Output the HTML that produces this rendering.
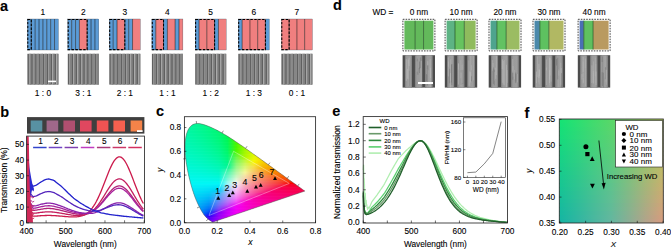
<!DOCTYPE html><html><head><meta charset="utf-8"><style>html,body{margin:0;padding:0;background:#fff;overflow:hidden}svg{display:block}text{font-family:"Liberation Sans", sans-serif;stroke:#000;stroke-width:0.1px;paint-order:stroke}</style></head><body>
<svg width="671" height="249" viewBox="0 0 671 249">
<rect width="671" height="249" fill="#fff"/>
<text x="0" y="10.6" font-size="14.5" text-anchor="start" font-weight="bold" font-style="normal" fill="#000">a</text>
<text x="0.2" y="116.5" font-size="14.5" text-anchor="start" font-weight="bold" font-style="normal" fill="#000">b</text>
<text x="156" y="116" font-size="14.5" text-anchor="start" font-weight="bold" font-style="normal" fill="#000">c</text>
<text x="333" y="10.4" font-size="14.5" text-anchor="start" font-weight="bold" font-style="normal" fill="#000">d</text>
<text x="332.3" y="115.7" font-size="14.5" text-anchor="start" font-weight="bold" font-style="normal" fill="#000">e</text>
<text x="524.6" y="117.6" font-size="14.5" text-anchor="start" font-weight="bold" font-style="normal" fill="#000">f</text>
<text x="42.9" y="14.6" font-size="8.4" text-anchor="middle" font-weight="normal" font-style="normal" fill="#000">1</text>
<rect x="27.4" y="19" width="3.88" height="31" fill="#5b9bd6" stroke="none" stroke-width="0.6"/>
<rect x="31.27" y="19" width="3.88" height="31" fill="#5b9bd6" stroke="none" stroke-width="0.6"/>
<rect x="35.15" y="19" width="3.88" height="31" fill="#5b9bd6" stroke="none" stroke-width="0.6"/>
<rect x="39.02" y="19" width="3.88" height="31" fill="#5b9bd6" stroke="none" stroke-width="0.6"/>
<rect x="42.9" y="19" width="3.88" height="31" fill="#5b9bd6" stroke="none" stroke-width="0.6"/>
<rect x="46.77" y="19" width="3.88" height="31" fill="#5b9bd6" stroke="none" stroke-width="0.6"/>
<rect x="50.65" y="19" width="3.88" height="31" fill="#5b9bd6" stroke="none" stroke-width="0.6"/>
<rect x="54.52" y="19" width="3.88" height="31" fill="#5b9bd6" stroke="none" stroke-width="0.6"/>
<line x1="31.27" y1="19" x2="31.27" y2="50" stroke="#000" stroke-width="1.0" stroke-opacity="0.5"/>
<line x1="35.15" y1="19" x2="35.15" y2="50" stroke="#000" stroke-width="1.0" stroke-opacity="0.5"/>
<line x1="39.02" y1="19" x2="39.02" y2="50" stroke="#000" stroke-width="1.0" stroke-opacity="0.5"/>
<line x1="42.9" y1="19" x2="42.9" y2="50" stroke="#000" stroke-width="1.0" stroke-opacity="0.5"/>
<line x1="46.77" y1="19" x2="46.77" y2="50" stroke="#000" stroke-width="1.0" stroke-opacity="0.5"/>
<line x1="50.65" y1="19" x2="50.65" y2="50" stroke="#000" stroke-width="1.0" stroke-opacity="0.5"/>
<line x1="54.52" y1="19" x2="54.52" y2="50" stroke="#000" stroke-width="1.0" stroke-opacity="0.5"/>
<rect x="27.4" y="19" width="31" height="31" fill="none" stroke="#3a4a5a" stroke-width="0.3"/>
<rect x="27.8" y="19.4" width="3.48" height="30.2" fill="none" stroke="#000" stroke-width="1.05" stroke-dasharray="2.4,1.5"/>
<rect x="27.4" y="53.8" width="31" height="30.8" fill="#606060" stroke="none" stroke-width="0.6"/>
<rect x="28.9" y="53.8" width="0.9" height="30.8" fill="#b4b4b4" stroke="none" stroke-width="0.6"/>
<rect x="29.8" y="53.8" width="1.6" height="30.8" fill="#888888" stroke="none" stroke-width="0.6"/>
<rect x="32.78" y="53.8" width="0.9" height="30.8" fill="#b4b4b4" stroke="none" stroke-width="0.6"/>
<rect x="33.68" y="53.8" width="1.6" height="30.8" fill="#888888" stroke="none" stroke-width="0.6"/>
<rect x="36.66" y="53.8" width="0.9" height="30.8" fill="#b4b4b4" stroke="none" stroke-width="0.6"/>
<rect x="37.56" y="53.8" width="1.6" height="30.8" fill="#888888" stroke="none" stroke-width="0.6"/>
<rect x="40.54" y="53.8" width="0.9" height="30.8" fill="#b4b4b4" stroke="none" stroke-width="0.6"/>
<rect x="41.44" y="53.8" width="1.6" height="30.8" fill="#888888" stroke="none" stroke-width="0.6"/>
<rect x="44.42" y="53.8" width="0.9" height="30.8" fill="#b4b4b4" stroke="none" stroke-width="0.6"/>
<rect x="45.32" y="53.8" width="1.6" height="30.8" fill="#888888" stroke="none" stroke-width="0.6"/>
<rect x="48.3" y="53.8" width="0.9" height="30.8" fill="#b4b4b4" stroke="none" stroke-width="0.6"/>
<rect x="49.2" y="53.8" width="1.6" height="30.8" fill="#888888" stroke="none" stroke-width="0.6"/>
<rect x="52.18" y="53.8" width="0.9" height="30.8" fill="#b4b4b4" stroke="none" stroke-width="0.6"/>
<rect x="53.08" y="53.8" width="1.6" height="30.8" fill="#888888" stroke="none" stroke-width="0.6"/>
<rect x="56.06" y="53.8" width="0.9" height="30.8" fill="#b4b4b4" stroke="none" stroke-width="0.6"/>
<rect x="56.96" y="53.8" width="1.44" height="30.8" fill="#888888" stroke="none" stroke-width="0.6"/>
<text x="42.9" y="95.9" font-size="8.4" text-anchor="middle" font-weight="normal" font-style="normal" fill="#000">1 : 0</text>
<text x="83.3" y="14.6" font-size="8.4" text-anchor="middle" font-weight="normal" font-style="normal" fill="#000">2</text>
<rect x="67.8" y="19" width="3.88" height="31" fill="#5b9bd6" stroke="none" stroke-width="0.6"/>
<rect x="71.67" y="19" width="3.88" height="31" fill="#5b9bd6" stroke="none" stroke-width="0.6"/>
<rect x="75.55" y="19" width="3.88" height="31" fill="#5b9bd6" stroke="none" stroke-width="0.6"/>
<rect x="79.42" y="19" width="7.75" height="31" fill="#f07f7f" stroke="none" stroke-width="0.6"/>
<rect x="87.17" y="19" width="3.88" height="31" fill="#5b9bd6" stroke="none" stroke-width="0.6"/>
<rect x="91.05" y="19" width="3.88" height="31" fill="#5b9bd6" stroke="none" stroke-width="0.6"/>
<rect x="94.92" y="19" width="3.88" height="31" fill="#5b9bd6" stroke="none" stroke-width="0.6"/>
<line x1="71.67" y1="19" x2="71.67" y2="50" stroke="#000" stroke-width="1.0" stroke-opacity="0.5"/>
<line x1="75.55" y1="19" x2="75.55" y2="50" stroke="#000" stroke-width="1.0" stroke-opacity="0.5"/>
<line x1="79.42" y1="19" x2="79.42" y2="50" stroke="#000" stroke-width="1.0" stroke-opacity="0.5"/>
<line x1="87.17" y1="19" x2="87.17" y2="50" stroke="#000" stroke-width="1.0" stroke-opacity="0.5"/>
<line x1="91.05" y1="19" x2="91.05" y2="50" stroke="#000" stroke-width="1.0" stroke-opacity="0.5"/>
<line x1="94.92" y1="19" x2="94.92" y2="50" stroke="#000" stroke-width="1.0" stroke-opacity="0.5"/>
<rect x="67.8" y="19" width="31" height="31" fill="none" stroke="#3a4a5a" stroke-width="0.3"/>
<rect x="68.2" y="19.4" width="18.98" height="30.2" fill="none" stroke="#000" stroke-width="1.05" stroke-dasharray="2.4,1.5"/>
<rect x="67.8" y="53.8" width="31" height="30.8" fill="#606060" stroke="none" stroke-width="0.6"/>
<rect x="69.3" y="53.8" width="0.9" height="30.8" fill="#b4b4b4" stroke="none" stroke-width="0.6"/>
<rect x="70.2" y="53.8" width="1.6" height="30.8" fill="#888888" stroke="none" stroke-width="0.6"/>
<rect x="73.18" y="53.8" width="0.9" height="30.8" fill="#b4b4b4" stroke="none" stroke-width="0.6"/>
<rect x="74.08" y="53.8" width="1.6" height="30.8" fill="#888888" stroke="none" stroke-width="0.6"/>
<rect x="77.06" y="53.8" width="0.9" height="30.8" fill="#b4b4b4" stroke="none" stroke-width="0.6"/>
<rect x="77.96" y="53.8" width="1.6" height="30.8" fill="#888888" stroke="none" stroke-width="0.6"/>
<rect x="80.94" y="53.8" width="0.9" height="30.8" fill="#b4b4b4" stroke="none" stroke-width="0.6"/>
<rect x="81.84" y="53.8" width="1.6" height="30.8" fill="#888888" stroke="none" stroke-width="0.6"/>
<rect x="84.82" y="53.8" width="0.9" height="30.8" fill="#b4b4b4" stroke="none" stroke-width="0.6"/>
<rect x="85.72" y="53.8" width="1.6" height="30.8" fill="#888888" stroke="none" stroke-width="0.6"/>
<rect x="88.7" y="53.8" width="0.9" height="30.8" fill="#b4b4b4" stroke="none" stroke-width="0.6"/>
<rect x="89.6" y="53.8" width="1.6" height="30.8" fill="#888888" stroke="none" stroke-width="0.6"/>
<rect x="92.58" y="53.8" width="0.9" height="30.8" fill="#b4b4b4" stroke="none" stroke-width="0.6"/>
<rect x="93.48" y="53.8" width="1.6" height="30.8" fill="#888888" stroke="none" stroke-width="0.6"/>
<rect x="96.46" y="53.8" width="0.9" height="30.8" fill="#b4b4b4" stroke="none" stroke-width="0.6"/>
<rect x="97.36" y="53.8" width="1.44" height="30.8" fill="#888888" stroke="none" stroke-width="0.6"/>
<text x="83.3" y="95.9" font-size="8.4" text-anchor="middle" font-weight="normal" font-style="normal" fill="#000">3 : 1</text>
<text x="124.8" y="14.6" font-size="8.4" text-anchor="middle" font-weight="normal" font-style="normal" fill="#000">3</text>
<rect x="109.3" y="19" width="3.88" height="31" fill="#5b9bd6" stroke="none" stroke-width="0.6"/>
<rect x="113.17" y="19" width="3.88" height="31" fill="#5b9bd6" stroke="none" stroke-width="0.6"/>
<rect x="117.05" y="19" width="7.75" height="31" fill="#f07f7f" stroke="none" stroke-width="0.6"/>
<rect x="124.8" y="19" width="3.88" height="31" fill="#5b9bd6" stroke="none" stroke-width="0.6"/>
<rect x="128.68" y="19" width="3.88" height="31" fill="#5b9bd6" stroke="none" stroke-width="0.6"/>
<rect x="132.55" y="19" width="7.75" height="31" fill="#f07f7f" stroke="none" stroke-width="0.6"/>
<line x1="113.17" y1="19" x2="113.17" y2="50" stroke="#000" stroke-width="1.0" stroke-opacity="0.5"/>
<line x1="117.05" y1="19" x2="117.05" y2="50" stroke="#000" stroke-width="1.0" stroke-opacity="0.5"/>
<line x1="124.8" y1="19" x2="124.8" y2="50" stroke="#000" stroke-width="1.0" stroke-opacity="0.5"/>
<line x1="128.68" y1="19" x2="128.68" y2="50" stroke="#000" stroke-width="1.0" stroke-opacity="0.5"/>
<line x1="132.55" y1="19" x2="132.55" y2="50" stroke="#000" stroke-width="1.0" stroke-opacity="0.5"/>
<rect x="109.3" y="19" width="31" height="31" fill="none" stroke="#3a4a5a" stroke-width="0.3"/>
<rect x="109.7" y="19.4" width="15.1" height="30.2" fill="none" stroke="#000" stroke-width="1.05" stroke-dasharray="2.4,1.5"/>
<rect x="109.3" y="53.8" width="31" height="30.8" fill="#606060" stroke="none" stroke-width="0.6"/>
<rect x="110.8" y="53.8" width="0.9" height="30.8" fill="#b4b4b4" stroke="none" stroke-width="0.6"/>
<rect x="111.7" y="53.8" width="1.6" height="30.8" fill="#888888" stroke="none" stroke-width="0.6"/>
<rect x="114.68" y="53.8" width="0.9" height="30.8" fill="#b4b4b4" stroke="none" stroke-width="0.6"/>
<rect x="115.58" y="53.8" width="1.6" height="30.8" fill="#888888" stroke="none" stroke-width="0.6"/>
<rect x="118.56" y="53.8" width="0.9" height="30.8" fill="#b4b4b4" stroke="none" stroke-width="0.6"/>
<rect x="119.46" y="53.8" width="1.6" height="30.8" fill="#888888" stroke="none" stroke-width="0.6"/>
<rect x="122.44" y="53.8" width="0.9" height="30.8" fill="#b4b4b4" stroke="none" stroke-width="0.6"/>
<rect x="123.34" y="53.8" width="1.6" height="30.8" fill="#888888" stroke="none" stroke-width="0.6"/>
<rect x="126.32" y="53.8" width="0.9" height="30.8" fill="#b4b4b4" stroke="none" stroke-width="0.6"/>
<rect x="127.22" y="53.8" width="1.6" height="30.8" fill="#888888" stroke="none" stroke-width="0.6"/>
<rect x="130.2" y="53.8" width="0.9" height="30.8" fill="#b4b4b4" stroke="none" stroke-width="0.6"/>
<rect x="131.1" y="53.8" width="1.6" height="30.8" fill="#888888" stroke="none" stroke-width="0.6"/>
<rect x="134.08" y="53.8" width="0.9" height="30.8" fill="#b4b4b4" stroke="none" stroke-width="0.6"/>
<rect x="134.98" y="53.8" width="1.6" height="30.8" fill="#888888" stroke="none" stroke-width="0.6"/>
<rect x="137.96" y="53.8" width="0.9" height="30.8" fill="#b4b4b4" stroke="none" stroke-width="0.6"/>
<rect x="138.86" y="53.8" width="1.44" height="30.8" fill="#888888" stroke="none" stroke-width="0.6"/>
<text x="124.8" y="95.9" font-size="8.4" text-anchor="middle" font-weight="normal" font-style="normal" fill="#000">2 : 1</text>
<text x="167.4" y="14.6" font-size="8.4" text-anchor="middle" font-weight="normal" font-style="normal" fill="#000">4</text>
<rect x="151.9" y="19" width="3.88" height="31" fill="#5b9bd6" stroke="none" stroke-width="0.6"/>
<rect x="155.78" y="19" width="7.75" height="31" fill="#f07f7f" stroke="none" stroke-width="0.6"/>
<rect x="163.53" y="19" width="3.88" height="31" fill="#5b9bd6" stroke="none" stroke-width="0.6"/>
<rect x="167.4" y="19" width="7.75" height="31" fill="#f07f7f" stroke="none" stroke-width="0.6"/>
<rect x="175.15" y="19" width="3.88" height="31" fill="#5b9bd6" stroke="none" stroke-width="0.6"/>
<rect x="179.03" y="19" width="3.88" height="31" fill="#f07f7f" stroke="none" stroke-width="0.6"/>
<line x1="155.78" y1="19" x2="155.78" y2="50" stroke="#000" stroke-width="1.0" stroke-opacity="0.5"/>
<line x1="163.53" y1="19" x2="163.53" y2="50" stroke="#000" stroke-width="1.0" stroke-opacity="0.5"/>
<line x1="167.4" y1="19" x2="167.4" y2="50" stroke="#000" stroke-width="1.0" stroke-opacity="0.5"/>
<line x1="175.15" y1="19" x2="175.15" y2="50" stroke="#000" stroke-width="1.0" stroke-opacity="0.5"/>
<line x1="179.03" y1="19" x2="179.03" y2="50" stroke="#000" stroke-width="1.0" stroke-opacity="0.5"/>
<rect x="151.9" y="19" width="31" height="31" fill="none" stroke="#3a4a5a" stroke-width="0.3"/>
<rect x="152.3" y="19.4" width="11.22" height="30.2" fill="none" stroke="#000" stroke-width="1.05" stroke-dasharray="2.4,1.5"/>
<rect x="151.9" y="53.8" width="31" height="30.8" fill="#606060" stroke="none" stroke-width="0.6"/>
<rect x="153.4" y="53.8" width="0.9" height="30.8" fill="#b4b4b4" stroke="none" stroke-width="0.6"/>
<rect x="154.3" y="53.8" width="1.6" height="30.8" fill="#888888" stroke="none" stroke-width="0.6"/>
<rect x="157.28" y="53.8" width="0.9" height="30.8" fill="#b4b4b4" stroke="none" stroke-width="0.6"/>
<rect x="158.18" y="53.8" width="1.6" height="30.8" fill="#888888" stroke="none" stroke-width="0.6"/>
<rect x="161.16" y="53.8" width="0.9" height="30.8" fill="#b4b4b4" stroke="none" stroke-width="0.6"/>
<rect x="162.06" y="53.8" width="1.6" height="30.8" fill="#888888" stroke="none" stroke-width="0.6"/>
<rect x="165.04" y="53.8" width="0.9" height="30.8" fill="#b4b4b4" stroke="none" stroke-width="0.6"/>
<rect x="165.94" y="53.8" width="1.6" height="30.8" fill="#888888" stroke="none" stroke-width="0.6"/>
<rect x="168.92" y="53.8" width="0.9" height="30.8" fill="#b4b4b4" stroke="none" stroke-width="0.6"/>
<rect x="169.82" y="53.8" width="1.6" height="30.8" fill="#888888" stroke="none" stroke-width="0.6"/>
<rect x="172.8" y="53.8" width="0.9" height="30.8" fill="#b4b4b4" stroke="none" stroke-width="0.6"/>
<rect x="173.7" y="53.8" width="1.6" height="30.8" fill="#888888" stroke="none" stroke-width="0.6"/>
<rect x="176.68" y="53.8" width="0.9" height="30.8" fill="#b4b4b4" stroke="none" stroke-width="0.6"/>
<rect x="177.58" y="53.8" width="1.6" height="30.8" fill="#888888" stroke="none" stroke-width="0.6"/>
<rect x="180.56" y="53.8" width="0.9" height="30.8" fill="#b4b4b4" stroke="none" stroke-width="0.6"/>
<rect x="181.46" y="53.8" width="1.44" height="30.8" fill="#888888" stroke="none" stroke-width="0.6"/>
<text x="167.4" y="95.9" font-size="8.4" text-anchor="middle" font-weight="normal" font-style="normal" fill="#000">1 : 1</text>
<text x="210.7" y="14.6" font-size="8.4" text-anchor="middle" font-weight="normal" font-style="normal" fill="#000">5</text>
<rect x="195.2" y="19" width="3.88" height="31" fill="#5b9bd6" stroke="none" stroke-width="0.6"/>
<rect x="199.07" y="19" width="7.75" height="31" fill="#f07f7f" stroke="none" stroke-width="0.6"/>
<rect x="206.82" y="19" width="7.75" height="31" fill="#f07f7f" stroke="none" stroke-width="0.6"/>
<rect x="214.57" y="19" width="3.88" height="31" fill="#5b9bd6" stroke="none" stroke-width="0.6"/>
<rect x="218.45" y="19" width="7.75" height="31" fill="#f07f7f" stroke="none" stroke-width="0.6"/>
<line x1="199.07" y1="19" x2="199.07" y2="50" stroke="#000" stroke-width="1.0" stroke-opacity="0.5"/>
<line x1="206.82" y1="19" x2="206.82" y2="50" stroke="#000" stroke-width="1.0" stroke-opacity="0.5"/>
<line x1="214.57" y1="19" x2="214.57" y2="50" stroke="#000" stroke-width="1.0" stroke-opacity="0.5"/>
<line x1="218.45" y1="19" x2="218.45" y2="50" stroke="#000" stroke-width="1.0" stroke-opacity="0.5"/>
<rect x="195.2" y="19" width="31" height="31" fill="none" stroke="#3a4a5a" stroke-width="0.3"/>
<rect x="195.6" y="19.4" width="18.98" height="30.2" fill="none" stroke="#000" stroke-width="1.05" stroke-dasharray="2.4,1.5"/>
<rect x="195.2" y="53.8" width="31" height="30.8" fill="#606060" stroke="none" stroke-width="0.6"/>
<rect x="196.7" y="53.8" width="0.9" height="30.8" fill="#b4b4b4" stroke="none" stroke-width="0.6"/>
<rect x="197.6" y="53.8" width="1.6" height="30.8" fill="#888888" stroke="none" stroke-width="0.6"/>
<rect x="200.58" y="53.8" width="0.9" height="30.8" fill="#b4b4b4" stroke="none" stroke-width="0.6"/>
<rect x="201.48" y="53.8" width="1.6" height="30.8" fill="#888888" stroke="none" stroke-width="0.6"/>
<rect x="204.46" y="53.8" width="0.9" height="30.8" fill="#b4b4b4" stroke="none" stroke-width="0.6"/>
<rect x="205.36" y="53.8" width="1.6" height="30.8" fill="#888888" stroke="none" stroke-width="0.6"/>
<rect x="208.34" y="53.8" width="0.9" height="30.8" fill="#b4b4b4" stroke="none" stroke-width="0.6"/>
<rect x="209.24" y="53.8" width="1.6" height="30.8" fill="#888888" stroke="none" stroke-width="0.6"/>
<rect x="212.22" y="53.8" width="0.9" height="30.8" fill="#b4b4b4" stroke="none" stroke-width="0.6"/>
<rect x="213.12" y="53.8" width="1.6" height="30.8" fill="#888888" stroke="none" stroke-width="0.6"/>
<rect x="216.1" y="53.8" width="0.9" height="30.8" fill="#b4b4b4" stroke="none" stroke-width="0.6"/>
<rect x="217" y="53.8" width="1.6" height="30.8" fill="#888888" stroke="none" stroke-width="0.6"/>
<rect x="219.98" y="53.8" width="0.9" height="30.8" fill="#b4b4b4" stroke="none" stroke-width="0.6"/>
<rect x="220.88" y="53.8" width="1.6" height="30.8" fill="#888888" stroke="none" stroke-width="0.6"/>
<rect x="223.86" y="53.8" width="0.9" height="30.8" fill="#b4b4b4" stroke="none" stroke-width="0.6"/>
<rect x="224.76" y="53.8" width="1.44" height="30.8" fill="#888888" stroke="none" stroke-width="0.6"/>
<text x="210.7" y="95.9" font-size="8.4" text-anchor="middle" font-weight="normal" font-style="normal" fill="#000">1 : 2</text>
<text x="253.8" y="14.6" font-size="8.4" text-anchor="middle" font-weight="normal" font-style="normal" fill="#000">6</text>
<rect x="238.3" y="19" width="3.88" height="31" fill="#5b9bd6" stroke="none" stroke-width="0.6"/>
<rect x="242.18" y="19" width="7.75" height="31" fill="#f07f7f" stroke="none" stroke-width="0.6"/>
<rect x="249.93" y="19" width="7.75" height="31" fill="#f07f7f" stroke="none" stroke-width="0.6"/>
<rect x="257.68" y="19" width="7.75" height="31" fill="#f07f7f" stroke="none" stroke-width="0.6"/>
<rect x="265.43" y="19" width="3.88" height="31" fill="#5b9bd6" stroke="none" stroke-width="0.6"/>
<line x1="242.18" y1="19" x2="242.18" y2="50" stroke="#000" stroke-width="1.0" stroke-opacity="0.5"/>
<line x1="249.93" y1="19" x2="249.93" y2="50" stroke="#000" stroke-width="1.0" stroke-opacity="0.5"/>
<line x1="257.68" y1="19" x2="257.68" y2="50" stroke="#000" stroke-width="1.0" stroke-opacity="0.5"/>
<line x1="265.43" y1="19" x2="265.43" y2="50" stroke="#000" stroke-width="1.0" stroke-opacity="0.5"/>
<rect x="238.3" y="19" width="31" height="31" fill="none" stroke="#3a4a5a" stroke-width="0.3"/>
<rect x="238.7" y="19.4" width="26.73" height="30.2" fill="none" stroke="#000" stroke-width="1.05" stroke-dasharray="2.4,1.5"/>
<rect x="238.3" y="53.8" width="31" height="30.8" fill="#606060" stroke="none" stroke-width="0.6"/>
<rect x="239.8" y="53.8" width="0.9" height="30.8" fill="#b4b4b4" stroke="none" stroke-width="0.6"/>
<rect x="240.7" y="53.8" width="1.6" height="30.8" fill="#888888" stroke="none" stroke-width="0.6"/>
<rect x="243.68" y="53.8" width="0.9" height="30.8" fill="#b4b4b4" stroke="none" stroke-width="0.6"/>
<rect x="244.58" y="53.8" width="1.6" height="30.8" fill="#888888" stroke="none" stroke-width="0.6"/>
<rect x="247.56" y="53.8" width="0.9" height="30.8" fill="#b4b4b4" stroke="none" stroke-width="0.6"/>
<rect x="248.46" y="53.8" width="1.6" height="30.8" fill="#888888" stroke="none" stroke-width="0.6"/>
<rect x="251.44" y="53.8" width="0.9" height="30.8" fill="#b4b4b4" stroke="none" stroke-width="0.6"/>
<rect x="252.34" y="53.8" width="1.6" height="30.8" fill="#888888" stroke="none" stroke-width="0.6"/>
<rect x="255.32" y="53.8" width="0.9" height="30.8" fill="#b4b4b4" stroke="none" stroke-width="0.6"/>
<rect x="256.22" y="53.8" width="1.6" height="30.8" fill="#888888" stroke="none" stroke-width="0.6"/>
<rect x="259.2" y="53.8" width="0.9" height="30.8" fill="#b4b4b4" stroke="none" stroke-width="0.6"/>
<rect x="260.1" y="53.8" width="1.6" height="30.8" fill="#888888" stroke="none" stroke-width="0.6"/>
<rect x="263.08" y="53.8" width="0.9" height="30.8" fill="#b4b4b4" stroke="none" stroke-width="0.6"/>
<rect x="263.98" y="53.8" width="1.6" height="30.8" fill="#888888" stroke="none" stroke-width="0.6"/>
<rect x="266.96" y="53.8" width="0.9" height="30.8" fill="#b4b4b4" stroke="none" stroke-width="0.6"/>
<rect x="267.86" y="53.8" width="1.44" height="30.8" fill="#888888" stroke="none" stroke-width="0.6"/>
<text x="253.8" y="95.9" font-size="8.4" text-anchor="middle" font-weight="normal" font-style="normal" fill="#000">1 : 3</text>
<text x="296.9" y="14.6" font-size="8.4" text-anchor="middle" font-weight="normal" font-style="normal" fill="#000">7</text>
<rect x="281.4" y="19" width="7.75" height="31" fill="#f07f7f" stroke="none" stroke-width="0.6"/>
<rect x="289.15" y="19" width="7.75" height="31" fill="#f07f7f" stroke="none" stroke-width="0.6"/>
<rect x="296.9" y="19" width="7.75" height="31" fill="#f07f7f" stroke="none" stroke-width="0.6"/>
<rect x="304.65" y="19" width="7.75" height="31" fill="#f07f7f" stroke="none" stroke-width="0.6"/>
<line x1="289.15" y1="19" x2="289.15" y2="50" stroke="#000" stroke-width="1.0" stroke-opacity="0.5"/>
<line x1="296.9" y1="19" x2="296.9" y2="50" stroke="#000" stroke-width="1.0" stroke-opacity="0.5"/>
<line x1="304.65" y1="19" x2="304.65" y2="50" stroke="#000" stroke-width="1.0" stroke-opacity="0.5"/>
<rect x="281.4" y="19" width="31" height="31" fill="none" stroke="#3a4a5a" stroke-width="0.3"/>
<rect x="281.8" y="19.4" width="7.35" height="30.2" fill="none" stroke="#000" stroke-width="1.05" stroke-dasharray="2.4,1.5"/>
<rect x="281.4" y="53.8" width="31" height="30.8" fill="#606060" stroke="none" stroke-width="0.6"/>
<rect x="282.9" y="53.8" width="0.9" height="30.8" fill="#b4b4b4" stroke="none" stroke-width="0.6"/>
<rect x="283.8" y="53.8" width="1.6" height="30.8" fill="#888888" stroke="none" stroke-width="0.6"/>
<rect x="286.78" y="53.8" width="0.9" height="30.8" fill="#b4b4b4" stroke="none" stroke-width="0.6"/>
<rect x="287.68" y="53.8" width="1.6" height="30.8" fill="#888888" stroke="none" stroke-width="0.6"/>
<rect x="290.66" y="53.8" width="0.9" height="30.8" fill="#b4b4b4" stroke="none" stroke-width="0.6"/>
<rect x="291.56" y="53.8" width="1.6" height="30.8" fill="#888888" stroke="none" stroke-width="0.6"/>
<rect x="294.54" y="53.8" width="0.9" height="30.8" fill="#b4b4b4" stroke="none" stroke-width="0.6"/>
<rect x="295.44" y="53.8" width="1.6" height="30.8" fill="#888888" stroke="none" stroke-width="0.6"/>
<rect x="298.42" y="53.8" width="0.9" height="30.8" fill="#b4b4b4" stroke="none" stroke-width="0.6"/>
<rect x="299.32" y="53.8" width="1.6" height="30.8" fill="#888888" stroke="none" stroke-width="0.6"/>
<rect x="302.3" y="53.8" width="0.9" height="30.8" fill="#b4b4b4" stroke="none" stroke-width="0.6"/>
<rect x="303.2" y="53.8" width="1.6" height="30.8" fill="#888888" stroke="none" stroke-width="0.6"/>
<rect x="306.18" y="53.8" width="0.9" height="30.8" fill="#b4b4b4" stroke="none" stroke-width="0.6"/>
<rect x="307.08" y="53.8" width="1.6" height="30.8" fill="#888888" stroke="none" stroke-width="0.6"/>
<rect x="310.06" y="53.8" width="0.9" height="30.8" fill="#b4b4b4" stroke="none" stroke-width="0.6"/>
<rect x="310.96" y="53.8" width="1.44" height="30.8" fill="#888888" stroke="none" stroke-width="0.6"/>
<text x="296.9" y="95.9" font-size="8.4" text-anchor="middle" font-weight="normal" font-style="normal" fill="#000">0 : 1</text>
<rect x="48" y="80.6" width="8" height="1.6" fill="#fff" stroke="none" stroke-width="0.6"/>
<defs><linearGradient id="semg" x1="0" y1="0" x2="1" y2="0"><stop offset="0" stop-color="#7c7c7c"/><stop offset="0.25" stop-color="#9a9a9a"/><stop offset="0.75" stop-color="#9e9e9e"/><stop offset="1" stop-color="#808080"/></linearGradient></defs>
<text x="372.4" y="14.5" font-size="8.3" text-anchor="start" font-weight="normal" font-style="normal" fill="#000">WD =</text>
<text x="418.9" y="14.5" font-size="8.3" text-anchor="middle" font-weight="normal" font-style="normal" fill="#000">0 nm</text>
<rect x="404.4" y="20.7" width="10.73" height="28.8" fill="#63b95b" stroke="none" stroke-width="0.6"/>
<rect x="415.13" y="20.7" width="8.41" height="28.8" fill="#63b95b" stroke="none" stroke-width="0.6"/>
<rect x="423.54" y="20.7" width="9.86" height="28.8" fill="#63b95b" stroke="none" stroke-width="0.6"/>
<line x1="415.13" y1="20.7" x2="415.13" y2="49.5" stroke="#1f4f1f" stroke-width="0.85" stroke-opacity="0.8"/>
<line x1="423.54" y1="20.7" x2="423.54" y2="49.5" stroke="#1f4f1f" stroke-width="0.85" stroke-opacity="0.8"/>
<rect x="402.9" y="19.3" width="32" height="31.6" fill="none" stroke="#3a3a3a" stroke-width="0.95" stroke-dasharray="1.6,1.1"/>
<rect x="402.6" y="55.2" width="32.4" height="32.4" fill="#4c4c4c" stroke="none" stroke-width="0.6"/>
<rect x="404.87" y="55.2" width="7.13" height="32.4" fill="url(#semg)" stroke="none" stroke-width="0.6"/>
<rect x="405.89" y="59.16" width="0.7" height="21.63" fill="#c0c0c0" stroke="none" stroke-width="0.6" opacity="0.7"/>
<rect x="408.65" y="70.73" width="0.7" height="15.88" fill="#707070" stroke="none" stroke-width="0.6" opacity="0.7"/>
<rect x="407.79" y="58.45" width="0.7" height="5.39" fill="#b5b5b5" stroke="none" stroke-width="0.6" opacity="0.7"/>
<rect x="407.79" y="59.71" width="0.7" height="19.84" fill="#c0c0c0" stroke="none" stroke-width="0.6" opacity="0.7"/>
<rect x="407.12" y="68.82" width="0.7" height="9.83" fill="#c0c0c0" stroke="none" stroke-width="0.6" opacity="0.7"/>
<rect x="407.91" y="59.67" width="0.7" height="26.7" fill="#b5b5b5" stroke="none" stroke-width="0.6" opacity="0.7"/>
<rect x="408.77" y="57.57" width="0.7" height="8.5" fill="#c0c0c0" stroke="none" stroke-width="0.6" opacity="0.7"/>
<rect x="414.91" y="55.2" width="7.45" height="32.4" fill="url(#semg)" stroke="none" stroke-width="0.6"/>
<rect x="418.2" y="58.32" width="0.7" height="9.61" fill="#b5b5b5" stroke="none" stroke-width="0.6" opacity="0.7"/>
<rect x="419.94" y="57.36" width="0.7" height="10.69" fill="#707070" stroke="none" stroke-width="0.6" opacity="0.7"/>
<rect x="419.06" y="61.53" width="0.7" height="7.6" fill="#707070" stroke="none" stroke-width="0.6" opacity="0.7"/>
<rect x="419.07" y="67.39" width="0.7" height="5.7" fill="#707070" stroke="none" stroke-width="0.6" opacity="0.7"/>
<rect x="417.55" y="58.49" width="0.7" height="16.33" fill="#707070" stroke="none" stroke-width="0.6" opacity="0.7"/>
<rect x="420.84" y="60.83" width="0.7" height="24.19" fill="#c0c0c0" stroke="none" stroke-width="0.6" opacity="0.7"/>
<rect x="416.73" y="61.36" width="0.7" height="10.36" fill="#b5b5b5" stroke="none" stroke-width="0.6" opacity="0.7"/>
<rect x="424.96" y="55.2" width="7.78" height="32.4" fill="url(#semg)" stroke="none" stroke-width="0.6"/>
<rect x="426.12" y="74" width="0.7" height="7.21" fill="#707070" stroke="none" stroke-width="0.6" opacity="0.7"/>
<rect x="427.65" y="65.22" width="0.7" height="5.03" fill="#707070" stroke="none" stroke-width="0.6" opacity="0.7"/>
<rect x="426.87" y="69" width="0.7" height="5.95" fill="#b5b5b5" stroke="none" stroke-width="0.6" opacity="0.7"/>
<rect x="427.51" y="61.22" width="0.7" height="24.25" fill="#c0c0c0" stroke="none" stroke-width="0.6" opacity="0.7"/>
<rect x="429.91" y="67.74" width="0.7" height="10.4" fill="#c0c0c0" stroke="none" stroke-width="0.6" opacity="0.7"/>
<rect x="427.09" y="65.35" width="0.7" height="20.3" fill="#707070" stroke="none" stroke-width="0.6" opacity="0.7"/>
<rect x="429.78" y="59.32" width="0.7" height="27.62" fill="#c0c0c0" stroke="none" stroke-width="0.6" opacity="0.7"/>
<text x="461.1" y="14.5" font-size="8.3" text-anchor="middle" font-weight="normal" font-style="normal" fill="#000">10 nm</text>
<rect x="446.6" y="20.7" width="8.41" height="28.8" fill="#5db384" stroke="none" stroke-width="0.6"/>
<rect x="455.01" y="20.7" width="9.28" height="28.8" fill="#67c35f" stroke="none" stroke-width="0.6"/>
<rect x="464.29" y="20.7" width="11.31" height="28.8" fill="#8fbb5d" stroke="none" stroke-width="0.6"/>
<line x1="455.01" y1="20.7" x2="455.01" y2="49.5" stroke="#1f4f1f" stroke-width="0.85" stroke-opacity="0.8"/>
<line x1="464.29" y1="20.7" x2="464.29" y2="49.5" stroke="#1f4f1f" stroke-width="0.85" stroke-opacity="0.8"/>
<rect x="445.1" y="19.3" width="32" height="31.6" fill="none" stroke="#3a3a3a" stroke-width="0.95" stroke-dasharray="1.6,1.1"/>
<rect x="444.8" y="55.2" width="32.4" height="32.4" fill="#4c4c4c" stroke="none" stroke-width="0.6"/>
<rect x="447.07" y="55.2" width="7.13" height="32.4" fill="url(#semg)" stroke="none" stroke-width="0.6"/>
<rect x="448.19" y="61.53" width="0.7" height="5.08" fill="#b5b5b5" stroke="none" stroke-width="0.6" opacity="0.7"/>
<rect x="449.44" y="68.8" width="0.7" height="14.42" fill="#707070" stroke="none" stroke-width="0.6" opacity="0.7"/>
<rect x="451.51" y="63.97" width="0.7" height="21.11" fill="#707070" stroke="none" stroke-width="0.6" opacity="0.7"/>
<rect x="450.16" y="73.16" width="0.7" height="14.3" fill="#c0c0c0" stroke="none" stroke-width="0.6" opacity="0.7"/>
<rect x="450.45" y="59.38" width="0.7" height="21.14" fill="#c0c0c0" stroke="none" stroke-width="0.6" opacity="0.7"/>
<rect x="447.93" y="57.29" width="0.7" height="19.14" fill="#c0c0c0" stroke="none" stroke-width="0.6" opacity="0.7"/>
<rect x="451.03" y="64.57" width="0.7" height="17.91" fill="#707070" stroke="none" stroke-width="0.6" opacity="0.7"/>
<rect x="457.11" y="55.2" width="7.45" height="32.4" fill="url(#semg)" stroke="none" stroke-width="0.6"/>
<rect x="462.51" y="69.98" width="0.7" height="14.08" fill="#707070" stroke="none" stroke-width="0.6" opacity="0.7"/>
<rect x="460.69" y="70.01" width="0.7" height="14.81" fill="#707070" stroke="none" stroke-width="0.6" opacity="0.7"/>
<rect x="461.74" y="64.63" width="0.7" height="18.69" fill="#b5b5b5" stroke="none" stroke-width="0.6" opacity="0.7"/>
<rect x="460.67" y="72.56" width="0.7" height="13.85" fill="#c0c0c0" stroke="none" stroke-width="0.6" opacity="0.7"/>
<rect x="458.07" y="63.77" width="0.7" height="5.77" fill="#b5b5b5" stroke="none" stroke-width="0.6" opacity="0.7"/>
<rect x="457.98" y="63.24" width="0.7" height="21.32" fill="#c0c0c0" stroke="none" stroke-width="0.6" opacity="0.7"/>
<rect x="460.52" y="60.09" width="0.7" height="18.32" fill="#b5b5b5" stroke="none" stroke-width="0.6" opacity="0.7"/>
<rect x="467.16" y="55.2" width="7.78" height="32.4" fill="url(#semg)" stroke="none" stroke-width="0.6"/>
<rect x="468.54" y="60.42" width="0.7" height="25.52" fill="#b5b5b5" stroke="none" stroke-width="0.6" opacity="0.7"/>
<rect x="471.17" y="70.19" width="0.7" height="11.08" fill="#707070" stroke="none" stroke-width="0.6" opacity="0.7"/>
<rect x="469.56" y="71.37" width="0.7" height="14.44" fill="#c0c0c0" stroke="none" stroke-width="0.6" opacity="0.7"/>
<rect x="470" y="72.18" width="0.7" height="10.33" fill="#c0c0c0" stroke="none" stroke-width="0.6" opacity="0.7"/>
<rect x="473.18" y="55.93" width="0.7" height="24.42" fill="#b5b5b5" stroke="none" stroke-width="0.6" opacity="0.7"/>
<rect x="470.44" y="55.84" width="0.7" height="24.81" fill="#b5b5b5" stroke="none" stroke-width="0.6" opacity="0.7"/>
<rect x="471.16" y="65.22" width="0.7" height="11.01" fill="#b5b5b5" stroke="none" stroke-width="0.6" opacity="0.7"/>
<text x="505" y="14.5" font-size="8.3" text-anchor="middle" font-weight="normal" font-style="normal" fill="#000">20 nm</text>
<rect x="490.5" y="20.7" width="6.38" height="28.8" fill="#4ea48e" stroke="none" stroke-width="0.6"/>
<rect x="496.88" y="20.7" width="9.28" height="28.8" fill="#62c262" stroke="none" stroke-width="0.6"/>
<rect x="506.16" y="20.7" width="13.34" height="28.8" fill="#9bbc62" stroke="none" stroke-width="0.6"/>
<line x1="496.88" y1="20.7" x2="496.88" y2="49.5" stroke="#1f4f1f" stroke-width="0.85" stroke-opacity="0.8"/>
<line x1="506.16" y1="20.7" x2="506.16" y2="49.5" stroke="#1f4f1f" stroke-width="0.85" stroke-opacity="0.8"/>
<rect x="489" y="19.3" width="32" height="31.6" fill="none" stroke="#3a3a3a" stroke-width="0.95" stroke-dasharray="1.6,1.1"/>
<rect x="488.7" y="55.2" width="32.4" height="32.4" fill="#4c4c4c" stroke="none" stroke-width="0.6"/>
<rect x="490.97" y="55.2" width="7.13" height="32.4" fill="url(#semg)" stroke="none" stroke-width="0.6"/>
<rect x="495.46" y="67.73" width="0.7" height="11.09" fill="#c0c0c0" stroke="none" stroke-width="0.6" opacity="0.7"/>
<rect x="492.71" y="62.94" width="0.7" height="6.1" fill="#b5b5b5" stroke="none" stroke-width="0.6" opacity="0.7"/>
<rect x="495.88" y="55.9" width="0.7" height="19.09" fill="#c0c0c0" stroke="none" stroke-width="0.6" opacity="0.7"/>
<rect x="492.91" y="67.44" width="0.7" height="16.44" fill="#707070" stroke="none" stroke-width="0.6" opacity="0.7"/>
<rect x="494.29" y="72.09" width="0.7" height="8.43" fill="#c0c0c0" stroke="none" stroke-width="0.6" opacity="0.7"/>
<rect x="493.82" y="69.69" width="0.7" height="15.69" fill="#707070" stroke="none" stroke-width="0.6" opacity="0.7"/>
<rect x="491.95" y="60.03" width="0.7" height="10.74" fill="#b5b5b5" stroke="none" stroke-width="0.6" opacity="0.7"/>
<rect x="501.01" y="55.2" width="7.45" height="32.4" fill="url(#semg)" stroke="none" stroke-width="0.6"/>
<rect x="506.31" y="64.77" width="0.7" height="22.26" fill="#c0c0c0" stroke="none" stroke-width="0.6" opacity="0.7"/>
<rect x="506.29" y="70.18" width="0.7" height="5.48" fill="#b5b5b5" stroke="none" stroke-width="0.6" opacity="0.7"/>
<rect x="501.87" y="59.34" width="0.7" height="9.69" fill="#b5b5b5" stroke="none" stroke-width="0.6" opacity="0.7"/>
<rect x="502.47" y="59.49" width="0.7" height="23.28" fill="#c0c0c0" stroke="none" stroke-width="0.6" opacity="0.7"/>
<rect x="504.06" y="59.82" width="0.7" height="25.39" fill="#b5b5b5" stroke="none" stroke-width="0.6" opacity="0.7"/>
<rect x="502.8" y="60.88" width="0.7" height="23.8" fill="#c0c0c0" stroke="none" stroke-width="0.6" opacity="0.7"/>
<rect x="506.84" y="70.15" width="0.7" height="12.64" fill="#b5b5b5" stroke="none" stroke-width="0.6" opacity="0.7"/>
<rect x="511.06" y="55.2" width="7.78" height="32.4" fill="url(#semg)" stroke="none" stroke-width="0.6"/>
<rect x="514" y="70.02" width="0.7" height="9.35" fill="#b5b5b5" stroke="none" stroke-width="0.6" opacity="0.7"/>
<rect x="512.72" y="66" width="0.7" height="10.79" fill="#b5b5b5" stroke="none" stroke-width="0.6" opacity="0.7"/>
<rect x="512.46" y="59.05" width="0.7" height="12.64" fill="#c0c0c0" stroke="none" stroke-width="0.6" opacity="0.7"/>
<rect x="517.1" y="74.05" width="0.7" height="8.33" fill="#b5b5b5" stroke="none" stroke-width="0.6" opacity="0.7"/>
<rect x="512.43" y="73.06" width="0.7" height="6.61" fill="#707070" stroke="none" stroke-width="0.6" opacity="0.7"/>
<rect x="515.57" y="73.83" width="0.7" height="7.65" fill="#707070" stroke="none" stroke-width="0.6" opacity="0.7"/>
<rect x="515.42" y="72.46" width="0.7" height="10.67" fill="#707070" stroke="none" stroke-width="0.6" opacity="0.7"/>
<text x="549" y="14.5" font-size="8.3" text-anchor="middle" font-weight="normal" font-style="normal" fill="#000">30 nm</text>
<rect x="534.5" y="20.7" width="5.37" height="28.8" fill="#4b89ab" stroke="none" stroke-width="0.6"/>
<rect x="539.87" y="20.7" width="8.99" height="28.8" fill="#5ec160" stroke="none" stroke-width="0.6"/>
<rect x="548.86" y="20.7" width="14.64" height="28.8" fill="#b1b863" stroke="none" stroke-width="0.6"/>
<line x1="539.87" y1="20.7" x2="539.87" y2="49.5" stroke="#1f4f1f" stroke-width="0.85" stroke-opacity="0.8"/>
<line x1="548.86" y1="20.7" x2="548.86" y2="49.5" stroke="#1f4f1f" stroke-width="0.85" stroke-opacity="0.8"/>
<rect x="533" y="19.3" width="32" height="31.6" fill="none" stroke="#3a3a3a" stroke-width="0.95" stroke-dasharray="1.6,1.1"/>
<rect x="532.7" y="55.2" width="32.4" height="32.4" fill="#4c4c4c" stroke="none" stroke-width="0.6"/>
<rect x="534.97" y="55.2" width="7.13" height="32.4" fill="url(#semg)" stroke="none" stroke-width="0.6"/>
<rect x="536.21" y="71.57" width="0.7" height="11.62" fill="#c0c0c0" stroke="none" stroke-width="0.6" opacity="0.7"/>
<rect x="535.91" y="74.5" width="0.7" height="12.91" fill="#b5b5b5" stroke="none" stroke-width="0.6" opacity="0.7"/>
<rect x="538.72" y="69.26" width="0.7" height="15.34" fill="#b5b5b5" stroke="none" stroke-width="0.6" opacity="0.7"/>
<rect x="538.87" y="69.73" width="0.7" height="6.7" fill="#c0c0c0" stroke="none" stroke-width="0.6" opacity="0.7"/>
<rect x="538.46" y="74.47" width="0.7" height="7.85" fill="#b5b5b5" stroke="none" stroke-width="0.6" opacity="0.7"/>
<rect x="538.6" y="63.83" width="0.7" height="14.25" fill="#c0c0c0" stroke="none" stroke-width="0.6" opacity="0.7"/>
<rect x="537.21" y="56.62" width="0.7" height="20.47" fill="#b5b5b5" stroke="none" stroke-width="0.6" opacity="0.7"/>
<rect x="545.01" y="55.2" width="7.45" height="32.4" fill="url(#semg)" stroke="none" stroke-width="0.6"/>
<rect x="548.95" y="57.51" width="0.7" height="27.87" fill="#b5b5b5" stroke="none" stroke-width="0.6" opacity="0.7"/>
<rect x="549.96" y="57.91" width="0.7" height="17.67" fill="#b5b5b5" stroke="none" stroke-width="0.6" opacity="0.7"/>
<rect x="546.16" y="67.52" width="0.7" height="17.51" fill="#b5b5b5" stroke="none" stroke-width="0.6" opacity="0.7"/>
<rect x="549.28" y="70.28" width="0.7" height="12.79" fill="#c0c0c0" stroke="none" stroke-width="0.6" opacity="0.7"/>
<rect x="550.68" y="59.64" width="0.7" height="21.94" fill="#c0c0c0" stroke="none" stroke-width="0.6" opacity="0.7"/>
<rect x="549.1" y="57.68" width="0.7" height="21.86" fill="#c0c0c0" stroke="none" stroke-width="0.6" opacity="0.7"/>
<rect x="546.15" y="59.39" width="0.7" height="11.12" fill="#b5b5b5" stroke="none" stroke-width="0.6" opacity="0.7"/>
<rect x="555.06" y="55.2" width="7.78" height="32.4" fill="url(#semg)" stroke="none" stroke-width="0.6"/>
<rect x="558.54" y="69.54" width="0.7" height="5.96" fill="#c0c0c0" stroke="none" stroke-width="0.6" opacity="0.7"/>
<rect x="560.76" y="67.94" width="0.7" height="16.66" fill="#c0c0c0" stroke="none" stroke-width="0.6" opacity="0.7"/>
<rect x="558.48" y="70.9" width="0.7" height="16.07" fill="#b5b5b5" stroke="none" stroke-width="0.6" opacity="0.7"/>
<rect x="561.29" y="73.07" width="0.7" height="14.4" fill="#707070" stroke="none" stroke-width="0.6" opacity="0.7"/>
<rect x="556.09" y="59.13" width="0.7" height="6.34" fill="#707070" stroke="none" stroke-width="0.6" opacity="0.7"/>
<rect x="560.44" y="62.62" width="0.7" height="23.09" fill="#b5b5b5" stroke="none" stroke-width="0.6" opacity="0.7"/>
<rect x="557.42" y="57.73" width="0.7" height="21.7" fill="#707070" stroke="none" stroke-width="0.6" opacity="0.7"/>
<text x="594.1" y="14.5" font-size="8.3" text-anchor="middle" font-weight="normal" font-style="normal" fill="#000">40 nm</text>
<rect x="579.6" y="20.7" width="4.21" height="28.8" fill="#4a6fb5" stroke="none" stroke-width="0.6"/>
<rect x="583.81" y="20.7" width="9.28" height="28.8" fill="#5fc05f" stroke="none" stroke-width="0.6"/>
<rect x="593.09" y="20.7" width="15.52" height="28.8" fill="#b99a60" stroke="none" stroke-width="0.6"/>
<line x1="583.81" y1="20.7" x2="583.81" y2="49.5" stroke="#1f4f1f" stroke-width="0.85" stroke-opacity="0.8"/>
<line x1="593.09" y1="20.7" x2="593.09" y2="49.5" stroke="#1f4f1f" stroke-width="0.85" stroke-opacity="0.8"/>
<rect x="578.1" y="19.3" width="32" height="31.6" fill="none" stroke="#3a3a3a" stroke-width="0.95" stroke-dasharray="1.6,1.1"/>
<rect x="577.8" y="55.2" width="32.4" height="32.4" fill="#4c4c4c" stroke="none" stroke-width="0.6"/>
<rect x="580.07" y="55.2" width="7.13" height="32.4" fill="url(#semg)" stroke="none" stroke-width="0.6"/>
<rect x="582.78" y="56.86" width="0.7" height="20.03" fill="#c0c0c0" stroke="none" stroke-width="0.6" opacity="0.7"/>
<rect x="582.86" y="71.96" width="0.7" height="6.13" fill="#707070" stroke="none" stroke-width="0.6" opacity="0.7"/>
<rect x="581.63" y="74" width="0.7" height="5.62" fill="#c0c0c0" stroke="none" stroke-width="0.6" opacity="0.7"/>
<rect x="583.09" y="72.39" width="0.7" height="10.36" fill="#b5b5b5" stroke="none" stroke-width="0.6" opacity="0.7"/>
<rect x="584.85" y="58.14" width="0.7" height="9.85" fill="#b5b5b5" stroke="none" stroke-width="0.6" opacity="0.7"/>
<rect x="585.02" y="59.18" width="0.7" height="26.91" fill="#b5b5b5" stroke="none" stroke-width="0.6" opacity="0.7"/>
<rect x="582.69" y="61.49" width="0.7" height="22.05" fill="#b5b5b5" stroke="none" stroke-width="0.6" opacity="0.7"/>
<rect x="590.11" y="55.2" width="7.45" height="32.4" fill="url(#semg)" stroke="none" stroke-width="0.6"/>
<rect x="591.6" y="65.34" width="0.7" height="17.59" fill="#c0c0c0" stroke="none" stroke-width="0.6" opacity="0.7"/>
<rect x="594.9" y="57.67" width="0.7" height="18.82" fill="#b5b5b5" stroke="none" stroke-width="0.6" opacity="0.7"/>
<rect x="593" y="72.74" width="0.7" height="10.22" fill="#b5b5b5" stroke="none" stroke-width="0.6" opacity="0.7"/>
<rect x="593.2" y="61.49" width="0.7" height="22.22" fill="#b5b5b5" stroke="none" stroke-width="0.6" opacity="0.7"/>
<rect x="595.69" y="71.5" width="0.7" height="13.64" fill="#c0c0c0" stroke="none" stroke-width="0.6" opacity="0.7"/>
<rect x="595.5" y="63.88" width="0.7" height="19.28" fill="#b5b5b5" stroke="none" stroke-width="0.6" opacity="0.7"/>
<rect x="592.95" y="70.91" width="0.7" height="9.24" fill="#b5b5b5" stroke="none" stroke-width="0.6" opacity="0.7"/>
<rect x="600.16" y="55.2" width="7.78" height="32.4" fill="url(#semg)" stroke="none" stroke-width="0.6"/>
<rect x="604.66" y="55.71" width="0.7" height="21.73" fill="#b5b5b5" stroke="none" stroke-width="0.6" opacity="0.7"/>
<rect x="602.01" y="56.48" width="0.7" height="29.65" fill="#707070" stroke="none" stroke-width="0.6" opacity="0.7"/>
<rect x="605.97" y="69.78" width="0.7" height="14.93" fill="#b5b5b5" stroke="none" stroke-width="0.6" opacity="0.7"/>
<rect x="604.94" y="67.18" width="0.7" height="12.02" fill="#707070" stroke="none" stroke-width="0.6" opacity="0.7"/>
<rect x="605.67" y="69.64" width="0.7" height="12.22" fill="#b5b5b5" stroke="none" stroke-width="0.6" opacity="0.7"/>
<rect x="602.97" y="72.63" width="0.7" height="14.94" fill="#707070" stroke="none" stroke-width="0.6" opacity="0.7"/>
<rect x="601.63" y="62" width="0.7" height="10.37" fill="#b5b5b5" stroke="none" stroke-width="0.6" opacity="0.7"/>
<rect x="418" y="82" width="15" height="2" fill="#fff" stroke="none" stroke-width="0.6"/>
<rect x="27" y="117.1" width="117.4" height="16.5" fill="#3f3f3f" stroke="none" stroke-width="0.6"/>
<defs><filter id="sblur" x="-20%" y="-20%" width="140%" height="140%"><feGaussianBlur stdDeviation="0.55"/></filter></defs>
<g filter="url(#sblur)">
<rect x="30.7" y="120.5" width="11.6" height="11" fill="#5891a2" stroke="none" stroke-width="0.6"/>
<rect x="46.6" y="120.5" width="11.6" height="11" fill="#a0678a" stroke="none" stroke-width="0.6"/>
<rect x="63.4" y="120.5" width="11.6" height="11" fill="#b04f70" stroke="none" stroke-width="0.6"/>
<rect x="80" y="120.5" width="11.6" height="11" fill="#e0475e" stroke="none" stroke-width="0.6"/>
<rect x="96.8" y="120.5" width="11.6" height="11" fill="#f05252" stroke="none" stroke-width="0.6"/>
<rect x="113.4" y="120.5" width="11.6" height="11" fill="#f6604f" stroke="none" stroke-width="0.6"/>
<rect x="130.6" y="120.5" width="11.6" height="11" fill="#f5834a" stroke="none" stroke-width="0.6"/>
</g>
<rect x="137" y="130.2" width="5.6" height="1.8" fill="#fff" stroke="none" stroke-width="0.6"/>
<polyline points="28.46,209.64 28.74,212.12 29.01,209.66 29.29,213.79 29.56,212.24 29.83,213.52 30.11,214.85 30.38,214.03 30.66,215.3 30.93,214.83 31.21,215.53 31.48,215.63 31.76,215.45 32.03,215.3 32.31,215.88 32.58,215.9 32.86,216.17 33.13,216.16 33.4,216.15 33.68,216.15 33.95,216.14 34.23,216.13 34.5,216.12 35.48,216.09 36.46,216.05 37.45,215.98 38.43,215.91 39.41,215.84 40.39,215.77 41.37,215.72 42.35,215.66 43.33,215.6 44.31,215.55 45.29,215.5 46.27,215.48 47.25,215.46 48.23,215.44 49.21,215.44 50.19,215.47 51.18,215.5 52.16,215.53 53.14,215.56 54.12,215.6 55.1,215.68 56.08,215.75 57.06,215.83 58.04,215.91 59.02,215.98 60,216.06 60.98,216.13 61.96,216.21 62.94,216.3 63.93,216.39 64.91,216.48 65.89,216.56 66.87,216.64 67.85,216.71 68.83,216.78 69.81,216.83 70.79,216.88 71.77,216.92 72.75,216.95 73.73,216.95 74.71,216.93 75.69,216.88 76.68,216.82 77.66,216.72 78.64,216.59 79.62,216.42 80.6,216.2 81.58,215.94 82.56,215.62 83.54,215.24 84.52,214.79 85.5,214.26 86.48,213.65 87.46,212.95 88.44,212.15 89.42,211.26 90.41,210.25 91.39,209.12 92.37,207.88 93.35,206.49 94.33,204.97 95.31,203.33 96.29,201.55 97.27,199.66 98.25,197.64 99.23,195.51 100.21,193.27 101.19,190.94 102.17,188.52 103.16,186.04 104.14,183.52 105.12,180.97 106.1,178.43 107.08,175.91 108.06,173.45 109.04,171.06 110.02,168.78 111,166.62 111.98,164.63 112.96,162.81 113.94,161.21 114.92,159.83 115.91,158.7 116.89,157.83 117.87,157.23 118.85,156.91 119.83,156.89 120.81,157.14 121.79,157.69 122.77,158.51 123.75,159.59 124.73,160.93 125.71,162.49 126.69,164.27 127.67,166.24 128.65,168.37 129.64,170.65 130.62,173.03 131.6,175.51 132.58,178.04 133.56,180.61 134.54,183.18 135.52,185.74 136.5,188.26 137.48,190.73 138.46,193.12 139.44,195.43 140.42,197.63 141.4,199.73 142.39,201.7 143.37,203.55" fill="none" stroke="#cc1a4c" stroke-width="1.3" stroke-linejoin="round"/>
<polyline points="28.46,203.54 28.74,202.75 29.01,206.92 29.29,208.94 29.56,207.21 29.83,211.48 30.11,209.46 30.38,211.43 30.66,212.01 30.93,212.26 31.21,212.19 31.48,211.85 31.76,212.66 32.03,212.5 32.31,212.62 32.58,212.89 32.86,213.25 33.13,213.23 33.4,213.21 33.68,213.2 33.95,213.18 34.23,213.16 34.5,213.14 35.48,213.08 36.46,213.01 37.45,212.88 38.43,212.74 39.41,212.61 40.39,212.48 41.37,212.37 42.35,212.26 43.33,212.15 44.31,212.04 45.29,211.96 46.27,211.92 47.25,211.89 48.23,211.85 49.21,211.84 50.19,211.9 51.18,211.96 52.16,212.02 53.14,212.08 54.12,212.15 55.1,212.3 56.08,212.45 57.06,212.6 58.04,212.75 59.02,212.9 60,213.04 60.98,213.19 61.96,213.35 62.94,213.53 63.93,213.71 64.91,213.89 65.89,214.07 66.87,214.25 67.85,214.42 68.83,214.58 69.81,214.73 70.79,214.88 71.77,215.02 72.75,215.15 73.73,215.27 74.71,215.35 75.69,215.41 76.68,215.46 77.66,215.49 78.64,215.5 79.62,215.48 80.6,215.42 81.58,215.32 82.56,215.19 83.54,215.03 84.52,214.81 85.5,214.54 86.48,214.22 87.46,213.84 88.44,213.4 89.42,212.89 90.41,212.31 91.39,211.66 92.37,210.93 93.35,210.08 94.33,209.15 95.31,208.13 96.29,207.04 97.27,205.86 98.25,204.61 99.23,203.28 100.21,201.89 101.19,200.43 102.17,198.9 103.16,197.33 104.14,195.73 105.12,194.12 106.1,192.52 107.08,190.92 108.06,189.36 109.04,187.86 110.02,186.42 111,185.05 111.98,183.78 112.96,182.63 113.94,181.61 114.92,180.74 115.91,180.03 116.89,179.49 117.87,179.12 118.85,178.93 119.83,178.93 120.81,179.11 121.79,179.47 122.77,180.02 123.75,180.73 124.73,181.6 125.71,182.62 126.69,183.77 127.67,185.05 128.65,186.43 129.64,187.9 130.62,189.44 131.6,191.04 132.58,192.68 133.56,194.34 134.54,196.01 135.52,197.66 136.5,199.29 137.48,200.89 138.46,202.44 139.44,203.93 140.42,205.36 141.4,206.71 142.39,207.99 143.37,209.19" fill="none" stroke="#c41e5e" stroke-width="1.3" stroke-linejoin="round"/>
<polyline points="28.46,201.18 28.74,206.48 29.01,207.12 29.29,206.88 29.56,205.44 29.83,207.15 30.11,208.01 30.38,207.78 30.66,208.48 30.93,209.05 31.21,208.66 31.48,209.09 31.76,209.73 32.03,209.65 32.31,209.86 32.58,209.85 32.86,210.45 33.13,210.43 33.4,210.4 33.68,210.38 33.95,210.35 34.23,210.32 34.5,210.3 35.48,210.21 36.46,210.1 37.45,209.91 38.43,209.72 39.41,209.52 40.39,209.34 41.37,209.18 42.35,209.02 43.33,208.86 44.31,208.7 45.29,208.57 46.27,208.52 47.25,208.46 48.23,208.41 49.21,208.4 50.19,208.49 51.18,208.57 52.16,208.66 53.14,208.74 54.12,208.85 55.1,209.07 56.08,209.29 57.06,209.5 58.04,209.72 59.02,209.94 60,210.16 60.98,210.38 61.96,210.6 62.94,210.87 63.93,211.14 64.91,211.41 65.89,211.68 66.87,211.94 67.85,212.2 68.83,212.44 69.81,212.68 70.79,212.92 71.77,213.14 72.75,213.36 73.73,213.57 74.71,213.72 75.69,213.86 76.68,213.99 77.66,214.1 78.64,214.2 79.62,214.27 80.6,214.29 81.58,214.29 82.56,214.25 83.54,214.19 84.52,214.09 85.5,213.94 86.48,213.74 87.46,213.49 88.44,213.2 89.42,212.84 90.41,212.44 91.39,211.97 92.37,211.43 93.35,210.78 94.33,210.06 95.31,209.27 96.29,208.41 97.27,207.49 98.25,206.5 99.23,205.45 100.21,204.35 101.19,203.2 102.17,201.97 103.16,200.7 104.14,199.42 105.12,198.12 106.1,196.83 107.08,195.55 108.06,194.29 109.04,193.08 110.02,191.92 111,190.82 111.98,189.79 112.96,188.87 113.94,188.05 114.92,187.35 115.91,186.78 116.89,186.35 117.87,186.06 118.85,185.92 119.83,185.93 120.81,186.1 121.79,186.41 122.77,186.87 123.75,187.47 124.73,188.19 125.71,189.04 126.69,190 127.67,191.05 128.65,192.2 129.64,193.41 130.62,194.69 131.6,196.01 132.58,197.36 133.56,198.74 134.54,200.11 135.52,201.48 136.5,202.83 137.48,204.15 138.46,205.43 139.44,206.66 140.42,207.84 141.4,208.96 142.39,210.02 143.37,211.02" fill="none" stroke="#b02378" stroke-width="1.3" stroke-linejoin="round"/>
<polyline points="28.46,197.07 28.74,202.37 29.01,198.95 29.29,204.98 29.56,204.21 29.83,203.69 30.11,206.17 30.38,205.71 30.66,206.99 30.93,206.22 31.21,206.46 31.48,206.99 31.76,206.98 32.03,207.64 32.31,207.58 32.58,207.81 32.86,208.29 33.13,208.26 33.4,208.23 33.68,208.2 33.95,208.16 34.23,208.13 34.5,208.1 35.48,207.99 36.46,207.85 37.45,207.61 38.43,207.38 39.41,207.14 40.39,206.9 41.37,206.71 42.35,206.51 43.33,206.31 44.31,206.11 45.29,205.96 46.27,205.89 47.25,205.82 48.23,205.75 49.21,205.75 50.19,205.85 51.18,205.96 52.16,206.06 53.14,206.17 54.12,206.3 55.1,206.57 56.08,206.84 57.06,207.11 58.04,207.39 59.02,207.66 60,207.93 60.98,208.2 61.96,208.48 62.94,208.82 63.93,209.16 64.91,209.49 65.89,209.83 66.87,210.16 67.85,210.48 68.83,210.79 69.81,211.09 70.79,211.39 71.77,211.68 72.75,211.97 73.73,212.23 74.71,212.44 75.69,212.63 76.68,212.81 77.66,212.98 78.64,213.13 79.62,213.26 80.6,213.34 81.58,213.39 82.56,213.41 83.54,213.41 84.52,213.37 85.5,213.28 86.48,213.14 87.46,212.96 88.44,212.74 89.42,212.46 90.41,212.13 91.39,211.75 92.37,211.3 93.35,210.73 94.33,210.09 95.31,209.39 96.29,208.63 97.27,207.81 98.25,206.93 99.23,205.99 100.21,205 101.19,203.96 102.17,202.84 103.16,201.7 104.14,200.53 105.12,199.35 106.1,198.17 107.08,197 108.06,195.86 109.04,194.76 110.02,193.71 111,192.7 111.98,191.76 112.96,190.92 113.94,190.17 114.92,189.54 115.91,189.02 116.89,188.63 117.87,188.38 118.85,188.26 119.83,188.28 120.81,188.44 121.79,188.74 122.77,189.18 123.75,189.74 124.73,190.42 125.71,191.21 126.69,192.1 127.67,193.09 128.65,194.15 129.64,195.28 130.62,196.47 131.6,197.7 132.58,198.95 133.56,200.23 134.54,201.51 135.52,202.78 136.5,204.03 137.48,205.26 138.46,206.45 139.44,207.59 140.42,208.69 141.4,209.73 142.39,210.72 143.37,211.65" fill="none" stroke="#a8229c" stroke-width="1.3" stroke-linejoin="round"/>
<polyline points="28.46,196.08 28.74,198.69 29.01,197.46 29.29,198.36 29.56,201.63 29.83,201.69 30.11,204.12 30.38,202.93 30.66,203.56 30.93,203.45 31.21,204.14 31.48,205.06 31.76,205.18 32.03,205.19 32.31,205.78 32.58,205.7 32.86,206.13 33.13,206.09 33.4,206.05 33.68,206.02 33.95,205.98 34.23,205.94 34.5,205.9 35.48,205.77 36.46,205.61 37.45,205.32 38.43,205.04 39.41,204.75 40.39,204.47 41.37,204.23 42.35,204 43.33,203.76 44.31,203.52 45.29,203.34 46.27,203.26 47.25,203.18 48.23,203.1 49.21,203.09 50.19,203.21 51.18,203.34 52.16,203.46 53.14,203.59 54.12,203.75 55.1,204.07 56.08,204.4 57.06,204.72 58.04,205.05 59.02,205.38 60,205.7 60.98,206.03 61.96,206.36 62.94,206.77 63.93,207.18 64.91,207.58 65.89,207.98 66.87,208.39 67.85,208.79 68.83,209.16 69.81,209.53 70.79,209.9 71.77,210.27 72.75,210.63 73.73,210.98 74.71,211.25 75.69,211.52 76.68,211.79 77.66,212.05 78.64,212.29 79.62,212.53 80.6,212.71 81.58,212.88 82.56,213.03 83.54,213.17 84.52,213.3 85.5,213.38 86.48,213.44 87.46,213.47 88.44,213.49 89.42,213.47 90.41,213.43 91.39,213.36 92.37,213.26 93.35,213.05 94.33,212.8 95.31,212.52 96.29,212.21 97.27,211.87 98.25,211.5 99.23,211.09 100.21,210.67 101.19,210.21 102.17,209.68 103.16,209.14 104.14,208.58 105.12,208.02 106.1,207.46 107.08,206.91 108.06,206.37 109.04,205.85 110.02,205.36 111,204.87 111.98,204.42 112.96,204.01 113.94,203.66 114.92,203.36 115.91,203.12 116.89,202.95 117.87,202.85 118.85,202.82 119.83,202.86 120.81,202.97 121.79,203.15 122.77,203.4 123.75,203.72 124.73,204.1 125.71,204.52 126.69,205 127.67,205.52 128.65,206.09 129.64,206.69 130.62,207.32 131.6,207.97 132.58,208.64 133.56,209.31 134.54,209.99 135.52,210.66 136.5,211.33 137.48,211.98 138.46,212.61 139.44,213.22 140.42,213.8 141.4,214.36 142.39,214.89 143.37,215.38" fill="none" stroke="#8a22aa" stroke-width="1.3" stroke-linejoin="round"/>
<polyline points="28.46,189.51 28.74,190.92 29.01,192.08 29.29,189.02 29.56,192.91 29.83,193.02 30.11,193.14 30.38,192.55 30.66,194.72 30.93,194.45 31.21,194.71 31.48,194.72 31.76,195.17 32.03,195.47 32.31,196.12 32.58,196.28 32.86,196.72 33.13,196.66 33.4,196.59 33.68,196.53 33.95,196.46 34.23,196.4 34.5,196.33 35.48,196.1 36.46,195.83 37.45,195.34 38.43,194.85 39.41,194.36 40.39,193.89 41.37,193.48 42.35,193.07 43.33,192.67 44.31,192.26 45.29,191.95 46.27,191.81 47.25,191.67 48.23,191.53 49.21,191.52 50.19,191.73 51.18,191.95 52.16,192.16 53.14,192.38 54.12,192.65 55.1,193.2 56.08,193.76 57.06,194.32 58.04,194.88 59.02,195.43 60,195.99 60.98,196.55 61.96,197.13 62.94,197.83 63.93,198.52 64.91,199.22 65.89,199.91 66.87,200.61 67.85,201.29 68.83,201.94 69.81,202.58 70.79,203.22 71.77,203.86 72.75,204.5 73.73,205.11 74.71,205.61 75.69,206.09 76.68,206.58 77.66,207.05 78.64,207.52 79.62,207.97 80.6,208.34 81.58,208.71 82.56,209.06 83.54,209.4 84.52,209.72 85.5,209.98 86.48,210.23 87.46,210.46 88.44,210.67 89.42,210.85 90.41,211.02 91.39,211.16 92.37,211.27 93.35,211.22 94.33,211.14 95.31,211.03 96.29,210.9 97.27,210.74 98.25,210.55 99.23,210.34 100.21,210.11 101.19,209.84 102.17,209.48 103.16,209.1 104.14,208.71 105.12,208.32 106.1,207.92 107.08,207.54 108.06,207.16 109.04,206.8 110.02,206.46 111,206.1 111.98,205.77 112.96,205.48 113.94,205.23 114.92,205.03 115.91,204.87 116.89,204.78 117.87,204.74 118.85,204.75 119.83,204.83 120.81,204.97 121.79,205.16 122.77,205.41 123.75,205.72 124.73,206.07 125.71,206.46 126.69,206.89 127.67,207.35 128.65,207.86 129.64,208.39 130.62,208.94 131.6,209.51 132.58,210.1 133.56,210.69 134.54,211.28 135.52,211.87 136.5,212.45 137.48,213.02 138.46,213.58 139.44,214.11 140.42,214.63 141.4,215.12 142.39,215.59 143.37,216.04" fill="none" stroke="#5424bc" stroke-width="1.3" stroke-linejoin="round"/>
<polyline points="28.46,176.3 28.74,173.66 29.01,175.12 29.29,180.99 29.56,181.56 29.83,181.98 30.11,182.56 30.38,182.49 30.66,182.86 30.93,183.91 31.21,184.63 31.48,184.5 31.76,184.91 32.03,185.11 32.31,185.22 32.58,185.7 32.86,186.32 33.13,186.23 33.4,186.13 33.68,186.04 33.95,185.95 34.23,185.86 34.5,185.77 35.48,185.44 36.46,185.06 37.45,184.37 38.43,183.69 39.41,183 40.39,182.33 41.37,181.76 42.35,181.19 43.33,180.62 44.31,180.05 45.29,179.61 46.27,179.41 47.25,179.22 48.23,179.02 49.21,179 50.19,179.31 51.18,179.61 52.16,179.91 53.14,180.21 54.12,180.59 55.1,181.37 56.08,182.16 57.06,182.94 58.04,183.73 59.02,184.51 60,185.29 60.98,186.08 61.96,186.89 62.94,187.87 63.93,188.85 64.91,189.83 65.89,190.81 66.87,191.79 67.85,192.76 68.83,193.68 69.81,194.59 70.79,195.51 71.77,196.42 72.75,197.34 73.73,198.22 74.71,198.94 75.69,199.66 76.68,200.37 77.66,201.09 78.64,201.81 79.62,202.51 80.6,203.12 81.58,203.72 82.56,204.32 83.54,204.92 84.52,205.53 85.5,206.07 86.48,206.61 87.46,207.15 88.44,207.69 89.42,208.23 90.41,208.76 91.39,209.3 92.37,209.84 93.35,210.18 94.33,210.52 95.31,210.85 96.29,211.19 97.27,211.52 98.25,211.86 99.23,212.19 100.21,212.52 101.19,212.83 102.17,213.03 103.16,213.22 104.14,213.41 105.12,213.6 106.1,213.79 107.08,213.99 108.06,214.18 109.04,214.37 110.02,214.56 111,214.68 111.98,214.8 112.96,214.92 113.94,215.04 114.92,215.16 115.91,215.28 116.89,215.4 117.87,215.52 118.85,215.64 119.83,215.76 120.81,215.87 121.79,215.99 122.77,216.11 123.75,216.23 124.73,216.35 125.71,216.43 126.69,216.52 127.67,216.61 128.65,216.7 129.64,216.79 130.62,216.88 131.6,216.96 132.58,217.05 133.56,217.14 134.54,217.23 135.52,217.32 136.5,217.4 137.48,217.49 138.46,217.58 139.44,217.67 140.42,217.76 141.4,217.85 142.39,217.93 143.37,218.02" fill="none" stroke="#2222cc" stroke-width="1.3" stroke-linejoin="round"/>
<polygon points="28.6,157 29.4,167 30,171 31.2,178 32.4,184 34,189 33.6,191.5 32,190 31.2,194 30.2,198 29.2,203 28.6,200" fill="#2a2ad0"/>
<polygon points="26.5,136.3 28.7,136.3 29,150 29.3,170 29.8,188 30.8,202 32.3,212 33,222.7 26.5,222.7" fill="#d02858"/>
<polyline points="29.5,197.5 31,196 32.4,198 34.2,197" fill="none" stroke="#c02a70" stroke-width="0.9" stroke-linejoin="round"/>
<polyline points="29.5,201.7 31,200.2 32.4,202.2 34.2,201.2" fill="none" stroke="#b0308a" stroke-width="0.9" stroke-linejoin="round"/>
<polyline points="29.5,205.9 31,204.4 32.4,206.4 34.2,205.4" fill="none" stroke="#c82a64" stroke-width="0.9" stroke-linejoin="round"/>
<polyline points="29.5,210.1 31,208.6 32.4,210.6 34.2,209.6" fill="none" stroke="#d0285a" stroke-width="0.9" stroke-linejoin="round"/>
<polyline points="29.5,214.3 31,212.8 32.4,214.8 34.2,213.8" fill="none" stroke="#cc2a5a" stroke-width="0.9" stroke-linejoin="round"/>
<polyline points="29.5,218.5 31,217 32.4,219 34.2,218" fill="none" stroke="#d2225a" stroke-width="0.9" stroke-linejoin="round"/>
<rect x="26.6" y="136.1" width="117.9" height="86.8" fill="none" stroke="#2a2a2a" stroke-width="0.85"/>
<line x1="26.5" y1="222.8" x2="29" y2="222.8" stroke="#111" stroke-width="0.6"/>
<text x="24.2" y="225.7" font-size="8.3" text-anchor="end" font-weight="normal" font-style="normal" fill="#000">0</text>
<line x1="26.5" y1="207.12" x2="29" y2="207.12" stroke="#111" stroke-width="0.6"/>
<text x="24.2" y="210.02" font-size="8.3" text-anchor="end" font-weight="normal" font-style="normal" fill="#000">10</text>
<line x1="26.5" y1="191.44" x2="29" y2="191.44" stroke="#111" stroke-width="0.6"/>
<text x="24.2" y="194.34" font-size="8.3" text-anchor="end" font-weight="normal" font-style="normal" fill="#000">20</text>
<line x1="26.5" y1="175.76" x2="29" y2="175.76" stroke="#111" stroke-width="0.6"/>
<text x="24.2" y="178.66" font-size="8.3" text-anchor="end" font-weight="normal" font-style="normal" fill="#000">30</text>
<line x1="26.5" y1="160.08" x2="29" y2="160.08" stroke="#111" stroke-width="0.6"/>
<text x="24.2" y="162.98" font-size="8.3" text-anchor="end" font-weight="normal" font-style="normal" fill="#000">40</text>
<line x1="26.5" y1="144.4" x2="29" y2="144.4" stroke="#111" stroke-width="0.6"/>
<text x="24.2" y="147.3" font-size="8.3" text-anchor="end" font-weight="normal" font-style="normal" fill="#000">50</text>
<line x1="26.5" y1="222.8" x2="26.5" y2="220.3" stroke="#111" stroke-width="0.6"/>
<text x="26.5" y="234.2" font-size="8.3" text-anchor="middle" font-weight="normal" font-style="normal" fill="#000">400</text>
<line x1="46.11" y1="222.8" x2="46.11" y2="220.3" stroke="#111" stroke-width="0.6"/>
<line x1="65.73" y1="222.8" x2="65.73" y2="220.3" stroke="#111" stroke-width="0.6"/>
<text x="65.73" y="234.2" font-size="8.3" text-anchor="middle" font-weight="normal" font-style="normal" fill="#000">500</text>
<line x1="85.34" y1="222.8" x2="85.34" y2="220.3" stroke="#111" stroke-width="0.6"/>
<line x1="104.96" y1="222.8" x2="104.96" y2="220.3" stroke="#111" stroke-width="0.6"/>
<text x="104.96" y="234.2" font-size="8.3" text-anchor="middle" font-weight="normal" font-style="normal" fill="#000">600</text>
<line x1="124.57" y1="222.8" x2="124.57" y2="220.3" stroke="#111" stroke-width="0.6"/>
<line x1="144.19" y1="222.8" x2="144.19" y2="220.3" stroke="#111" stroke-width="0.6"/>
<text x="144.19" y="234.2" font-size="8.3" text-anchor="middle" font-weight="normal" font-style="normal" fill="#000">700</text>
<text x="85.3" y="247" font-size="8.3" text-anchor="middle" font-weight="normal" font-style="normal" fill="#000">Wavelength (nm)</text>
<text x="7" y="180.2" font-size="8.5" text-anchor="middle" font-weight="normal" font-style="normal" fill="#000" transform="rotate(-90 7 180.2)">Transmission (%)</text>
<text x="40.6" y="144.3" font-size="8.3" text-anchor="middle" font-weight="normal" font-style="normal" fill="#000">1</text>
<line x1="33.1" y1="147.5" x2="46.6" y2="147.5" stroke="#3344cc" stroke-width="1.5"/>
<text x="56.2" y="144.3" font-size="8.3" text-anchor="middle" font-weight="normal" font-style="normal" fill="#000">2</text>
<line x1="48.7" y1="147.5" x2="62.2" y2="147.5" stroke="#7044c4" stroke-width="1.5"/>
<text x="72.1" y="144.3" font-size="8.3" text-anchor="middle" font-weight="normal" font-style="normal" fill="#000">3</text>
<line x1="64.6" y1="147.5" x2="78.1" y2="147.5" stroke="#8040b0" stroke-width="1.5"/>
<text x="88.3" y="144.3" font-size="8.3" text-anchor="middle" font-weight="normal" font-style="normal" fill="#000">4</text>
<line x1="80.8" y1="147.5" x2="94.3" y2="147.5" stroke="#c03cc0" stroke-width="1.5"/>
<text x="104.4" y="144.3" font-size="8.3" text-anchor="middle" font-weight="normal" font-style="normal" fill="#000">5</text>
<line x1="96.9" y1="147.5" x2="110.4" y2="147.5" stroke="#a83a78" stroke-width="1.5"/>
<text x="120.1" y="144.3" font-size="8.3" text-anchor="middle" font-weight="normal" font-style="normal" fill="#000">6</text>
<line x1="112.6" y1="147.5" x2="126.1" y2="147.5" stroke="#cc3868" stroke-width="1.5"/>
<text x="135.8" y="144.3" font-size="8.3" text-anchor="middle" font-weight="normal" font-style="normal" fill="#000">7</text>
<line x1="128.3" y1="147.5" x2="141.8" y2="147.5" stroke="#d43060" stroke-width="1.5"/>
<defs><clipPath id="cieclip"><path d="M212.93,222.01 L212.92,222.01 L212.89,222.01 L212.86,222.02 L212.83,222.03 L212.8,222.03 L212.78,222.03 L212.76,222.03 L212.74,222.03 L212.72,222.03 L212.69,222.03 L212.66,222.03 L212.63,222.03 L212.59,222.02 L212.55,222.01 L212.49,221.99 L212.43,221.97 L212.36,221.93 L212.28,221.89 L212.19,221.84 L212.08,221.78 L211.96,221.71 L211.84,221.62 L211.69,221.53 L211.53,221.43 L211.35,221.31 L211.14,221.17 L210.91,221.04 L210.66,220.88 L210.38,220.7 L210.07,220.5 L209.72,220.28 L209.35,220.06 L208.95,219.81 L208.5,219.49 L208,219.07 L207.41,218.53 L206.74,217.88 L206.04,217.17 L205.35,216.44 L204.74,215.73 L204.22,215.08 L203.76,214.46 L203.32,213.82 L202.86,213.11 L202.36,212.29 L201.81,211.37 L201.24,210.38 L200.64,209.3 L200.02,208.13 L199.36,206.84 L198.67,205.44 L197.94,203.94 L197.18,202.34 L196.42,200.61 L195.66,198.76 L194.9,196.76 L194.13,194.63 L193.36,192.39 L192.59,190.02 L191.84,187.55 L191.09,184.95 L190.34,182.21 L189.6,179.37 L188.9,176.47 L188.25,173.57 L187.65,170.63 L187.08,167.61 L186.57,164.58 L186.11,161.57 L185.74,158.64 L185.45,155.76 L185.22,152.91 L185.07,150.11 L185,147.4 L185.04,144.81 L185.18,142.32 L185.41,139.91 L185.73,137.6 L186.16,135.45 L186.68,133.48 L187.31,131.68 L188.06,130.02 L188.9,128.54 L189.81,127.23 L190.78,126.13 L191.82,125.26 L192.94,124.59 L194.12,124.1 L195.34,123.76 L196.58,123.54 L197.84,123.48 L199.14,123.58 L200.46,123.81 L201.79,124.11 L203.12,124.45 L204.44,124.83 L205.78,125.28 L207.12,125.79 L208.45,126.32 L209.76,126.86 L211.04,127.4 L212.3,127.96 L213.55,128.54 L214.79,129.14 L216.02,129.75 L217.24,130.37 L218.44,131 L219.64,131.65 L220.84,132.31 L222.03,132.99 L223.22,133.68 L224.41,134.38 L225.6,135.1 L226.78,135.82 L227.96,136.55 L229.14,137.3 L230.32,138.05 L231.49,138.81 L232.66,139.58 L233.83,140.35 L235,141.14 L236.17,141.92 L237.34,142.72 L238.51,143.52 L239.68,144.32 L240.86,145.13 L242.03,145.95 L243.21,146.76 L244.38,147.59 L245.55,148.41 L246.72,149.23 L247.89,150.06 L249.06,150.89 L250.22,151.73 L251.39,152.56 L252.55,153.39 L253.71,154.22 L254.88,155.05 L256.04,155.88 L257.19,156.7 L258.34,157.53 L259.48,158.35 L260.62,159.17 L261.75,159.99 L262.88,160.8 L263.99,161.61 L265.11,162.41 L266.21,163.21 L267.31,164.01 L268.4,164.79 L269.48,165.57 L270.55,166.35 L271.61,167.11 L272.66,167.87 L273.69,168.62 L274.72,169.35 L275.73,170.08 L276.73,170.8 L277.71,171.51 L278.68,172.21 L279.62,172.89 L280.55,173.56 L281.46,174.23 L282.35,174.87 L283.22,175.5 L284.05,176.1 L284.86,176.68 L285.65,177.25 L286.42,177.81 L287.17,178.35 L287.9,178.88 L288.62,179.4 L289.32,179.9 L289.99,180.39 L290.64,180.85 L291.23,181.28 L291.77,181.66 L292.3,182.04 L292.87,182.45 L293.52,182.92 L294.31,183.49 L295.19,184.12 L296.1,184.79 L296.97,185.42 L297.74,185.97 L298.39,186.44 L298.96,186.86 L299.49,187.23 L299.97,187.58 L300.42,187.91 L300.86,188.22 L301.25,188.51 L301.61,188.77 L301.94,189.01 L302.24,189.23 L302.52,189.43 L302.78,189.61 L303,189.77 L303.2,189.91 L303.39,190.05 L303.56,190.17 L303.69,190.27 L303.82,190.36 L303.93,190.44 L304.05,190.52 L304.17,190.61 L304.29,190.7 L304.41,190.79 L304.52,190.86 L304.6,190.93 L304.67,190.98 L304.72,191.02 L304.76,191.04 L304.79,191.07 L304.82,191.08 Z"/></clipPath>
<linearGradient id="g0" gradientUnits="userSpaceOnUse" x1="182.76" y1="0" x2="307.33" y2="0"><stop offset="0" stop-color="#00f79c"/><stop offset="0.07" stop-color="#00f794"/><stop offset="0.14" stop-color="#00f78a"/><stop offset="0.21" stop-color="#00f77c"/><stop offset="0.29" stop-color="#00f766"/><stop offset="0.36" stop-color="#00f73e"/><stop offset="0.43" stop-color="#45f700"/><stop offset="0.5" stop-color="#73f700"/><stop offset="0.57" stop-color="#96f700"/><stop offset="0.64" stop-color="#b3f700"/><stop offset="0.71" stop-color="#cbf700"/><stop offset="0.79" stop-color="#e1f700"/><stop offset="0.86" stop-color="#f4f700"/><stop offset="0.93" stop-color="#f7e900"/><stop offset="1" stop-color="#f7da00"/></linearGradient>
<linearGradient id="g1" gradientUnits="userSpaceOnUse" x1="182.76" y1="0" x2="307.33" y2="0"><stop offset="0" stop-color="#00f79d"/><stop offset="0.07" stop-color="#00f795"/><stop offset="0.14" stop-color="#00f78b"/><stop offset="0.21" stop-color="#00f77d"/><stop offset="0.29" stop-color="#00f767"/><stop offset="0.36" stop-color="#00f73f"/><stop offset="0.43" stop-color="#45f700"/><stop offset="0.5" stop-color="#74f700"/><stop offset="0.57" stop-color="#98f700"/><stop offset="0.64" stop-color="#b5f700"/><stop offset="0.71" stop-color="#cdf700"/><stop offset="0.79" stop-color="#e3f700"/><stop offset="0.86" stop-color="#f7f700"/><stop offset="0.93" stop-color="#f7e600"/><stop offset="1" stop-color="#f7d800"/></linearGradient>
<linearGradient id="g2" gradientUnits="userSpaceOnUse" x1="182.76" y1="0" x2="307.33" y2="0"><stop offset="0" stop-color="#00f79e"/><stop offset="0.07" stop-color="#00f796"/><stop offset="0.14" stop-color="#00f78c"/><stop offset="0.21" stop-color="#00f77e"/><stop offset="0.29" stop-color="#00f769"/><stop offset="0.36" stop-color="#00f741"/><stop offset="0.43" stop-color="#45f700"/><stop offset="0.5" stop-color="#75f700"/><stop offset="0.57" stop-color="#9af700"/><stop offset="0.64" stop-color="#b7f700"/><stop offset="0.71" stop-color="#d0f700"/><stop offset="0.79" stop-color="#e6f700"/><stop offset="0.86" stop-color="#f7f400"/><stop offset="0.93" stop-color="#f7e400"/><stop offset="1" stop-color="#f7d600"/></linearGradient>
<linearGradient id="g3" gradientUnits="userSpaceOnUse" x1="182.76" y1="0" x2="307.33" y2="0"><stop offset="0" stop-color="#00f79f"/><stop offset="0.07" stop-color="#00f797"/><stop offset="0.14" stop-color="#00f78d"/><stop offset="0.21" stop-color="#00f77f"/><stop offset="0.29" stop-color="#00f76a"/><stop offset="0.36" stop-color="#00f742"/><stop offset="0.43" stop-color="#45f700"/><stop offset="0.5" stop-color="#76f700"/><stop offset="0.57" stop-color="#9cf700"/><stop offset="0.64" stop-color="#b9f700"/><stop offset="0.71" stop-color="#d2f700"/><stop offset="0.79" stop-color="#e8f700"/><stop offset="0.86" stop-color="#f7f200"/><stop offset="0.93" stop-color="#f7e100"/><stop offset="1" stop-color="#f7d300"/></linearGradient>
<linearGradient id="g4" gradientUnits="userSpaceOnUse" x1="182.76" y1="0" x2="307.33" y2="0"><stop offset="0" stop-color="#00f7a1"/><stop offset="0.07" stop-color="#00f798"/><stop offset="0.14" stop-color="#00f78e"/><stop offset="0.21" stop-color="#00f780"/><stop offset="0.29" stop-color="#00f76b"/><stop offset="0.36" stop-color="#00f744"/><stop offset="0.43" stop-color="#45f700"/><stop offset="0.5" stop-color="#77f700"/><stop offset="0.57" stop-color="#9ef700"/><stop offset="0.64" stop-color="#bbf700"/><stop offset="0.71" stop-color="#d5f700"/><stop offset="0.79" stop-color="#ebf700"/><stop offset="0.86" stop-color="#f7ef00"/><stop offset="0.93" stop-color="#f7df00"/><stop offset="1" stop-color="#f7d100"/></linearGradient>
<linearGradient id="g5" gradientUnits="userSpaceOnUse" x1="182.76" y1="0" x2="307.33" y2="0"><stop offset="0" stop-color="#00f7a2"/><stop offset="0.07" stop-color="#00f79a"/><stop offset="0.14" stop-color="#00f78f"/><stop offset="0.21" stop-color="#00f781"/><stop offset="0.29" stop-color="#00f76c"/><stop offset="0.36" stop-color="#00f745"/><stop offset="0.43" stop-color="#46f700"/><stop offset="0.5" stop-color="#79f700"/><stop offset="0.57" stop-color="#a0f700"/><stop offset="0.64" stop-color="#bef700"/><stop offset="0.71" stop-color="#d7f700"/><stop offset="0.79" stop-color="#eef700"/><stop offset="0.86" stop-color="#f7ec00"/><stop offset="0.93" stop-color="#f7dc00"/><stop offset="1" stop-color="#f7cf00"/></linearGradient>
<linearGradient id="g6" gradientUnits="userSpaceOnUse" x1="182.76" y1="0" x2="307.33" y2="0"><stop offset="0" stop-color="#00f7a3"/><stop offset="0.07" stop-color="#00f79b"/><stop offset="0.14" stop-color="#00f791"/><stop offset="0.21" stop-color="#00f783"/><stop offset="0.29" stop-color="#00f76e"/><stop offset="0.36" stop-color="#00f747"/><stop offset="0.43" stop-color="#46f700"/><stop offset="0.5" stop-color="#7af700"/><stop offset="0.57" stop-color="#a2f700"/><stop offset="0.64" stop-color="#c0f700"/><stop offset="0.71" stop-color="#daf700"/><stop offset="0.79" stop-color="#f0f700"/><stop offset="0.86" stop-color="#f7e900"/><stop offset="0.93" stop-color="#f7d900"/><stop offset="1" stop-color="#f7cc00"/></linearGradient>
<linearGradient id="g7" gradientUnits="userSpaceOnUse" x1="182.76" y1="0" x2="307.33" y2="0"><stop offset="0" stop-color="#00f7a5"/><stop offset="0.07" stop-color="#00f79c"/><stop offset="0.14" stop-color="#00f792"/><stop offset="0.21" stop-color="#00f784"/><stop offset="0.29" stop-color="#00f76f"/><stop offset="0.36" stop-color="#00f748"/><stop offset="0.43" stop-color="#46f700"/><stop offset="0.5" stop-color="#7cf700"/><stop offset="0.57" stop-color="#a4f700"/><stop offset="0.64" stop-color="#c2f700"/><stop offset="0.71" stop-color="#dcf700"/><stop offset="0.79" stop-color="#f3f700"/><stop offset="0.86" stop-color="#f7e700"/><stop offset="0.93" stop-color="#f7d700"/><stop offset="1" stop-color="#f7ca00"/></linearGradient>
<linearGradient id="g8" gradientUnits="userSpaceOnUse" x1="182.76" y1="0" x2="307.33" y2="0"><stop offset="0" stop-color="#00f7a6"/><stop offset="0.07" stop-color="#00f79e"/><stop offset="0.14" stop-color="#00f793"/><stop offset="0.21" stop-color="#00f785"/><stop offset="0.29" stop-color="#00f771"/><stop offset="0.36" stop-color="#00f74a"/><stop offset="0.43" stop-color="#46f700"/><stop offset="0.5" stop-color="#7ef700"/><stop offset="0.57" stop-color="#a6f700"/><stop offset="0.64" stop-color="#c5f700"/><stop offset="0.71" stop-color="#dff700"/><stop offset="0.79" stop-color="#f6f700"/><stop offset="0.86" stop-color="#f7e400"/><stop offset="0.93" stop-color="#f7d400"/><stop offset="1" stop-color="#f7c700"/></linearGradient>
<linearGradient id="g9" gradientUnits="userSpaceOnUse" x1="182.76" y1="0" x2="307.33" y2="0"><stop offset="0" stop-color="#00f7a8"/><stop offset="0.07" stop-color="#00f79f"/><stop offset="0.14" stop-color="#00f794"/><stop offset="0.21" stop-color="#00f787"/><stop offset="0.29" stop-color="#00f772"/><stop offset="0.36" stop-color="#00f74b"/><stop offset="0.43" stop-color="#46f700"/><stop offset="0.5" stop-color="#80f700"/><stop offset="0.57" stop-color="#a8f700"/><stop offset="0.64" stop-color="#c7f700"/><stop offset="0.71" stop-color="#e2f700"/><stop offset="0.79" stop-color="#f7f400"/><stop offset="0.86" stop-color="#f7e100"/><stop offset="0.93" stop-color="#f7d100"/><stop offset="1" stop-color="#f7c500"/></linearGradient>
<linearGradient id="g10" gradientUnits="userSpaceOnUse" x1="182.76" y1="0" x2="307.33" y2="0"><stop offset="0" stop-color="#00f7a9"/><stop offset="0.07" stop-color="#00f7a1"/><stop offset="0.14" stop-color="#00f796"/><stop offset="0.21" stop-color="#00f788"/><stop offset="0.29" stop-color="#00f774"/><stop offset="0.36" stop-color="#00f74d"/><stop offset="0.43" stop-color="#46f700"/><stop offset="0.5" stop-color="#82f700"/><stop offset="0.57" stop-color="#aaf700"/><stop offset="0.64" stop-color="#caf700"/><stop offset="0.71" stop-color="#e5f700"/><stop offset="0.79" stop-color="#f7f100"/><stop offset="0.86" stop-color="#f7de00"/><stop offset="0.93" stop-color="#f7cf00"/><stop offset="1" stop-color="#f7c200"/></linearGradient>
<linearGradient id="g11" gradientUnits="userSpaceOnUse" x1="182.76" y1="0" x2="307.33" y2="0"><stop offset="0" stop-color="#00f7ab"/><stop offset="0.07" stop-color="#00f7a3"/><stop offset="0.14" stop-color="#00f797"/><stop offset="0.21" stop-color="#00f78a"/><stop offset="0.29" stop-color="#00f775"/><stop offset="0.36" stop-color="#00f74f"/><stop offset="0.43" stop-color="#46f700"/><stop offset="0.5" stop-color="#84f700"/><stop offset="0.57" stop-color="#adf700"/><stop offset="0.64" stop-color="#cdf700"/><stop offset="0.71" stop-color="#e8f700"/><stop offset="0.79" stop-color="#f7ee00"/><stop offset="0.86" stop-color="#f7db00"/><stop offset="0.93" stop-color="#f7cc00"/><stop offset="1" stop-color="#f7bf00"/></linearGradient>
<linearGradient id="g12" gradientUnits="userSpaceOnUse" x1="182.76" y1="0" x2="307.33" y2="0"><stop offset="0" stop-color="#00f7ad"/><stop offset="0.07" stop-color="#00f7a4"/><stop offset="0.14" stop-color="#00f799"/><stop offset="0.21" stop-color="#00f78b"/><stop offset="0.29" stop-color="#00f777"/><stop offset="0.36" stop-color="#00f750"/><stop offset="0.43" stop-color="#46f700"/><stop offset="0.5" stop-color="#86f700"/><stop offset="0.57" stop-color="#aff700"/><stop offset="0.64" stop-color="#d0f700"/><stop offset="0.71" stop-color="#ebf700"/><stop offset="0.79" stop-color="#f7eb00"/><stop offset="0.86" stop-color="#f7d800"/><stop offset="0.93" stop-color="#f7c900"/><stop offset="1" stop-color="#f7bd00"/></linearGradient>
<linearGradient id="g13" gradientUnits="userSpaceOnUse" x1="182.76" y1="0" x2="307.33" y2="0"><stop offset="0" stop-color="#00f7ae"/><stop offset="0.07" stop-color="#00f7a6"/><stop offset="0.14" stop-color="#00f79b"/><stop offset="0.21" stop-color="#00f78c"/><stop offset="0.29" stop-color="#00f778"/><stop offset="0.36" stop-color="#00f752"/><stop offset="0.43" stop-color="#47f700"/><stop offset="0.5" stop-color="#88f700"/><stop offset="0.57" stop-color="#b2f700"/><stop offset="0.64" stop-color="#d3f700"/><stop offset="0.71" stop-color="#eff700"/><stop offset="0.79" stop-color="#f7e700"/><stop offset="0.86" stop-color="#f7d500"/><stop offset="0.93" stop-color="#f7c600"/><stop offset="1" stop-color="#f7ba00"/></linearGradient>
<linearGradient id="g14" gradientUnits="userSpaceOnUse" x1="182.76" y1="0" x2="307.33" y2="0"><stop offset="0" stop-color="#00f7b0"/><stop offset="0.07" stop-color="#00f7a8"/><stop offset="0.14" stop-color="#00f79d"/><stop offset="0.21" stop-color="#00f78e"/><stop offset="0.29" stop-color="#00f77a"/><stop offset="0.36" stop-color="#00f754"/><stop offset="0.43" stop-color="#47f700"/><stop offset="0.5" stop-color="#8af700"/><stop offset="0.57" stop-color="#b5f700"/><stop offset="0.64" stop-color="#d6f700"/><stop offset="0.71" stop-color="#f2f700"/><stop offset="0.79" stop-color="#f7e400"/><stop offset="0.86" stop-color="#f7d200"/><stop offset="0.93" stop-color="#f7c300"/><stop offset="1" stop-color="#f7b700"/></linearGradient>
<linearGradient id="g15" gradientUnits="userSpaceOnUse" x1="182.76" y1="0" x2="307.33" y2="0"><stop offset="0" stop-color="#00f7b2"/><stop offset="0.07" stop-color="#00f7aa"/><stop offset="0.14" stop-color="#00f79f"/><stop offset="0.21" stop-color="#00f791"/><stop offset="0.29" stop-color="#00f77c"/><stop offset="0.36" stop-color="#00f756"/><stop offset="0.43" stop-color="#47f700"/><stop offset="0.5" stop-color="#8cf700"/><stop offset="0.57" stop-color="#b7f700"/><stop offset="0.64" stop-color="#d9f700"/><stop offset="0.71" stop-color="#f6f700"/><stop offset="0.79" stop-color="#f7e100"/><stop offset="0.86" stop-color="#f7cf00"/><stop offset="0.93" stop-color="#f7c000"/><stop offset="1" stop-color="#f7b400"/></linearGradient>
<linearGradient id="g16" gradientUnits="userSpaceOnUse" x1="182.76" y1="0" x2="307.33" y2="0"><stop offset="0" stop-color="#00f7b3"/><stop offset="0.07" stop-color="#00f7ab"/><stop offset="0.14" stop-color="#00f7a1"/><stop offset="0.21" stop-color="#00f793"/><stop offset="0.29" stop-color="#00f77d"/><stop offset="0.36" stop-color="#00f758"/><stop offset="0.43" stop-color="#47f700"/><stop offset="0.5" stop-color="#8ff700"/><stop offset="0.57" stop-color="#baf700"/><stop offset="0.64" stop-color="#ddf700"/><stop offset="0.71" stop-color="#f7f400"/><stop offset="0.79" stop-color="#f7dd00"/><stop offset="0.86" stop-color="#f7cb00"/><stop offset="0.93" stop-color="#f7bd00"/><stop offset="1" stop-color="#f7b100"/></linearGradient>
<linearGradient id="g17" gradientUnits="userSpaceOnUse" x1="182.76" y1="0" x2="307.33" y2="0"><stop offset="0" stop-color="#00f7b5"/><stop offset="0.07" stop-color="#00f7ad"/><stop offset="0.14" stop-color="#00f7a3"/><stop offset="0.21" stop-color="#00f795"/><stop offset="0.29" stop-color="#00f77f"/><stop offset="0.36" stop-color="#00f75a"/><stop offset="0.43" stop-color="#47f700"/><stop offset="0.5" stop-color="#91f700"/><stop offset="0.57" stop-color="#bdf700"/><stop offset="0.64" stop-color="#e0f700"/><stop offset="0.71" stop-color="#f7f000"/><stop offset="0.79" stop-color="#f7da00"/><stop offset="0.86" stop-color="#f7c800"/><stop offset="0.93" stop-color="#f7ba00"/><stop offset="1" stop-color="#f7ae00"/></linearGradient>
<linearGradient id="g18" gradientUnits="userSpaceOnUse" x1="182.76" y1="0" x2="307.33" y2="0"><stop offset="0" stop-color="#00f7b7"/><stop offset="0.07" stop-color="#00f7af"/><stop offset="0.14" stop-color="#00f7a5"/><stop offset="0.21" stop-color="#00f797"/><stop offset="0.29" stop-color="#00f782"/><stop offset="0.36" stop-color="#00f75c"/><stop offset="0.43" stop-color="#47f700"/><stop offset="0.5" stop-color="#94f700"/><stop offset="0.57" stop-color="#c1f700"/><stop offset="0.64" stop-color="#e4f700"/><stop offset="0.71" stop-color="#f7ec00"/><stop offset="0.79" stop-color="#f7d600"/><stop offset="0.86" stop-color="#f7c500"/><stop offset="0.93" stop-color="#f7b700"/><stop offset="1" stop-color="#f7ab00"/></linearGradient>
<linearGradient id="g19" gradientUnits="userSpaceOnUse" x1="182.76" y1="0" x2="307.33" y2="0"><stop offset="0" stop-color="#00f7b9"/><stop offset="0.07" stop-color="#00f7b1"/><stop offset="0.14" stop-color="#00f7a7"/><stop offset="0.21" stop-color="#00f79a"/><stop offset="0.29" stop-color="#00f785"/><stop offset="0.36" stop-color="#00f75e"/><stop offset="0.43" stop-color="#49f700"/><stop offset="0.5" stop-color="#96f700"/><stop offset="0.57" stop-color="#c4f700"/><stop offset="0.64" stop-color="#e8f700"/><stop offset="0.71" stop-color="#f7e800"/><stop offset="0.79" stop-color="#f7d200"/><stop offset="0.86" stop-color="#f7c100"/><stop offset="0.93" stop-color="#f7b400"/><stop offset="1" stop-color="#f7a800"/></linearGradient>
<linearGradient id="g20" gradientUnits="userSpaceOnUse" x1="182.76" y1="0" x2="307.33" y2="0"><stop offset="0" stop-color="#00f7ba"/><stop offset="0.07" stop-color="#00f7b3"/><stop offset="0.14" stop-color="#00f7aa"/><stop offset="0.21" stop-color="#00f79c"/><stop offset="0.29" stop-color="#00f787"/><stop offset="0.36" stop-color="#00f760"/><stop offset="0.43" stop-color="#4bf700"/><stop offset="0.5" stop-color="#99f700"/><stop offset="0.57" stop-color="#c8f700"/><stop offset="0.64" stop-color="#ecf700"/><stop offset="0.71" stop-color="#f7e400"/><stop offset="0.79" stop-color="#f7ce00"/><stop offset="0.86" stop-color="#f7be00"/><stop offset="0.93" stop-color="#f7b000"/><stop offset="1" stop-color="#f7a500"/></linearGradient>
<linearGradient id="g21" gradientUnits="userSpaceOnUse" x1="182.76" y1="0" x2="307.33" y2="0"><stop offset="0" stop-color="#00f7bc"/><stop offset="0.07" stop-color="#00f7b5"/><stop offset="0.14" stop-color="#00f7ac"/><stop offset="0.21" stop-color="#00f79f"/><stop offset="0.29" stop-color="#00f78a"/><stop offset="0.36" stop-color="#00f763"/><stop offset="0.43" stop-color="#4cf700"/><stop offset="0.5" stop-color="#9cf700"/><stop offset="0.57" stop-color="#cbf700"/><stop offset="0.64" stop-color="#f0f700"/><stop offset="0.71" stop-color="#f7e000"/><stop offset="0.79" stop-color="#f7cb00"/><stop offset="0.86" stop-color="#f7ba00"/><stop offset="0.93" stop-color="#f7ad00"/><stop offset="1" stop-color="#f7a200"/></linearGradient>
<linearGradient id="g22" gradientUnits="userSpaceOnUse" x1="182.76" y1="0" x2="307.33" y2="0"><stop offset="0" stop-color="#00f7be"/><stop offset="0.07" stop-color="#00f7b7"/><stop offset="0.14" stop-color="#00f7ae"/><stop offset="0.21" stop-color="#00f7a1"/><stop offset="0.29" stop-color="#00f78d"/><stop offset="0.36" stop-color="#00f767"/><stop offset="0.43" stop-color="#4ef700"/><stop offset="0.5" stop-color="#9ff700"/><stop offset="0.57" stop-color="#cff700"/><stop offset="0.64" stop-color="#f5f700"/><stop offset="0.71" stop-color="#f7dc00"/><stop offset="0.79" stop-color="#f7c700"/><stop offset="0.86" stop-color="#f7b600"/><stop offset="0.93" stop-color="#f7a900"/><stop offset="1" stop-color="#f79e00"/></linearGradient>
<linearGradient id="g23" gradientUnits="userSpaceOnUse" x1="182.76" y1="0" x2="307.33" y2="0"><stop offset="0" stop-color="#00f7c0"/><stop offset="0.07" stop-color="#00f7b9"/><stop offset="0.14" stop-color="#00f7b0"/><stop offset="0.21" stop-color="#00f7a4"/><stop offset="0.29" stop-color="#00f790"/><stop offset="0.36" stop-color="#00f76a"/><stop offset="0.43" stop-color="#50f700"/><stop offset="0.5" stop-color="#a2f700"/><stop offset="0.57" stop-color="#d3f700"/><stop offset="0.64" stop-color="#f7f400"/><stop offset="0.71" stop-color="#f7d700"/><stop offset="0.79" stop-color="#f7c300"/><stop offset="0.86" stop-color="#f7b300"/><stop offset="0.93" stop-color="#f7a600"/><stop offset="1" stop-color="#f79b00"/></linearGradient>
<linearGradient id="g24" gradientUnits="userSpaceOnUse" x1="182.76" y1="0" x2="307.33" y2="0"><stop offset="0" stop-color="#00f7c2"/><stop offset="0.07" stop-color="#00f7bb"/><stop offset="0.14" stop-color="#00f7b3"/><stop offset="0.21" stop-color="#00f7a6"/><stop offset="0.29" stop-color="#00f793"/><stop offset="0.36" stop-color="#00f76e"/><stop offset="0.43" stop-color="#55f714"/><stop offset="0.5" stop-color="#a6f700"/><stop offset="0.57" stop-color="#d8f700"/><stop offset="0.64" stop-color="#f7ef00"/><stop offset="0.71" stop-color="#f7d300"/><stop offset="0.79" stop-color="#f7be00"/><stop offset="0.86" stop-color="#f7af00"/><stop offset="0.93" stop-color="#f7a200"/><stop offset="1" stop-color="#f79800"/></linearGradient>
<linearGradient id="g25" gradientUnits="userSpaceOnUse" x1="182.76" y1="0" x2="307.33" y2="0"><stop offset="0" stop-color="#00f7c4"/><stop offset="0.07" stop-color="#00f7be"/><stop offset="0.14" stop-color="#00f7b5"/><stop offset="0.21" stop-color="#00f7a9"/><stop offset="0.29" stop-color="#00f796"/><stop offset="0.36" stop-color="#00f772"/><stop offset="0.43" stop-color="#5df72d"/><stop offset="0.5" stop-color="#aaf700"/><stop offset="0.57" stop-color="#ddf700"/><stop offset="0.64" stop-color="#f7ea00"/><stop offset="0.71" stop-color="#f7ce00"/><stop offset="0.79" stop-color="#f7ba00"/><stop offset="0.86" stop-color="#f7ab00"/><stop offset="0.93" stop-color="#f79e00"/><stop offset="1" stop-color="#f79400"/></linearGradient>
<linearGradient id="g26" gradientUnits="userSpaceOnUse" x1="182.76" y1="0" x2="307.33" y2="0"><stop offset="0" stop-color="#00f7c6"/><stop offset="0.07" stop-color="#00f7c0"/><stop offset="0.14" stop-color="#00f7b8"/><stop offset="0.21" stop-color="#00f7ac"/><stop offset="0.29" stop-color="#00f799"/><stop offset="0.36" stop-color="#00f776"/><stop offset="0.43" stop-color="#64f73d"/><stop offset="0.5" stop-color="#aef700"/><stop offset="0.57" stop-color="#e2f700"/><stop offset="0.64" stop-color="#f7e400"/><stop offset="0.71" stop-color="#f7c900"/><stop offset="0.79" stop-color="#f7b600"/><stop offset="0.86" stop-color="#f7a700"/><stop offset="0.93" stop-color="#f79a00"/><stop offset="1" stop-color="#f79000"/></linearGradient>
<linearGradient id="g27" gradientUnits="userSpaceOnUse" x1="182.76" y1="0" x2="307.33" y2="0"><stop offset="0" stop-color="#00f7c8"/><stop offset="0.07" stop-color="#00f7c2"/><stop offset="0.14" stop-color="#00f7ba"/><stop offset="0.21" stop-color="#00f7af"/><stop offset="0.29" stop-color="#00f79d"/><stop offset="0.36" stop-color="#00f77a"/><stop offset="0.43" stop-color="#6cf74a"/><stop offset="0.5" stop-color="#b2f700"/><stop offset="0.57" stop-color="#e7f700"/><stop offset="0.64" stop-color="#f7df00"/><stop offset="0.71" stop-color="#f7c500"/><stop offset="0.79" stop-color="#f7b100"/><stop offset="0.86" stop-color="#f7a200"/><stop offset="0.93" stop-color="#f79600"/><stop offset="1" stop-color="#f78c00"/></linearGradient>
<linearGradient id="g28" gradientUnits="userSpaceOnUse" x1="182.76" y1="0" x2="307.33" y2="0"><stop offset="0" stop-color="#00f7ca"/><stop offset="0.07" stop-color="#00f7c5"/><stop offset="0.14" stop-color="#00f7bd"/><stop offset="0.21" stop-color="#00f7b2"/><stop offset="0.29" stop-color="#00f7a0"/><stop offset="0.36" stop-color="#00f77e"/><stop offset="0.43" stop-color="#73f756"/><stop offset="0.5" stop-color="#b8f729"/><stop offset="0.57" stop-color="#edf700"/><stop offset="0.64" stop-color="#f7d900"/><stop offset="0.71" stop-color="#f7bf00"/><stop offset="0.79" stop-color="#f7ad00"/><stop offset="0.86" stop-color="#f79e00"/><stop offset="0.93" stop-color="#f79200"/><stop offset="1" stop-color="#f78800"/></linearGradient>
<linearGradient id="g29" gradientUnits="userSpaceOnUse" x1="182.76" y1="0" x2="307.33" y2="0"><stop offset="0" stop-color="#00f7cd"/><stop offset="0.07" stop-color="#00f7c7"/><stop offset="0.14" stop-color="#00f7c0"/><stop offset="0.21" stop-color="#00f7b5"/><stop offset="0.29" stop-color="#00f7a4"/><stop offset="0.36" stop-color="#00f782"/><stop offset="0.43" stop-color="#7af760"/><stop offset="0.5" stop-color="#bef73d"/><stop offset="0.57" stop-color="#f4f700"/><stop offset="0.64" stop-color="#f7d400"/><stop offset="0.71" stop-color="#f7ba00"/><stop offset="0.79" stop-color="#f7a800"/><stop offset="0.86" stop-color="#f79900"/><stop offset="0.93" stop-color="#f78e00"/><stop offset="1" stop-color="#f78400"/></linearGradient>
<linearGradient id="g30" gradientUnits="userSpaceOnUse" x1="182.76" y1="0" x2="307.33" y2="0"><stop offset="0" stop-color="#00f7cf"/><stop offset="0.07" stop-color="#00f7ca"/><stop offset="0.14" stop-color="#00f7c3"/><stop offset="0.21" stop-color="#00f7b8"/><stop offset="0.29" stop-color="#00f7a8"/><stop offset="0.36" stop-color="#00f787"/><stop offset="0.43" stop-color="#81f76a"/><stop offset="0.5" stop-color="#c5f74c"/><stop offset="0.57" stop-color="#f7f300"/><stop offset="0.64" stop-color="#f7ce00"/><stop offset="0.71" stop-color="#f7b500"/><stop offset="0.79" stop-color="#f7a300"/><stop offset="0.86" stop-color="#f79500"/><stop offset="0.93" stop-color="#f78900"/><stop offset="1" stop-color="#f78000"/></linearGradient>
<linearGradient id="g31" gradientUnits="userSpaceOnUse" x1="182.76" y1="0" x2="307.33" y2="0"><stop offset="0" stop-color="#00f7d1"/><stop offset="0.07" stop-color="#00f7cc"/><stop offset="0.14" stop-color="#00f7c5"/><stop offset="0.21" stop-color="#00f7bc"/><stop offset="0.29" stop-color="#00f7ac"/><stop offset="0.36" stop-color="#00f78b"/><stop offset="0.43" stop-color="#89f774"/><stop offset="0.5" stop-color="#ccf75a"/><stop offset="0.57" stop-color="#f7ec1f"/><stop offset="0.64" stop-color="#f7c700"/><stop offset="0.71" stop-color="#f7af00"/><stop offset="0.79" stop-color="#f79d00"/><stop offset="0.86" stop-color="#f79000"/><stop offset="0.93" stop-color="#f78500"/><stop offset="1" stop-color="#f77b00"/></linearGradient>
<linearGradient id="g32" gradientUnits="userSpaceOnUse" x1="182.76" y1="0" x2="307.33" y2="0"><stop offset="0" stop-color="#00f7d4"/><stop offset="0.07" stop-color="#00f7cf"/><stop offset="0.14" stop-color="#00f7c8"/><stop offset="0.21" stop-color="#00f7bf"/><stop offset="0.29" stop-color="#00f7b0"/><stop offset="0.36" stop-color="#00f790"/><stop offset="0.43" stop-color="#90f77d"/><stop offset="0.5" stop-color="#d3f766"/><stop offset="0.57" stop-color="#f7e537"/><stop offset="0.64" stop-color="#f7c100"/><stop offset="0.71" stop-color="#f7a900"/><stop offset="0.79" stop-color="#f79800"/><stop offset="0.86" stop-color="#f78b00"/><stop offset="0.93" stop-color="#f78000"/><stop offset="1" stop-color="#f77700"/></linearGradient>
<linearGradient id="g33" gradientUnits="userSpaceOnUse" x1="182.76" y1="0" x2="307.33" y2="0"><stop offset="0" stop-color="#00f7d6"/><stop offset="0.07" stop-color="#00f7d2"/><stop offset="0.14" stop-color="#00f7cb"/><stop offset="0.21" stop-color="#00f7c3"/><stop offset="0.29" stop-color="#00f7b4"/><stop offset="0.36" stop-color="#00f796"/><stop offset="0.43" stop-color="#97f786"/><stop offset="0.5" stop-color="#daf772"/><stop offset="0.57" stop-color="#f7de47"/><stop offset="0.64" stop-color="#f7ba00"/><stop offset="0.71" stop-color="#f7a300"/><stop offset="0.79" stop-color="#f79200"/><stop offset="0.86" stop-color="#f78500"/><stop offset="0.93" stop-color="#f77b00"/><stop offset="1" stop-color="#f77200"/></linearGradient>
<linearGradient id="g34" gradientUnits="userSpaceOnUse" x1="182.76" y1="0" x2="307.33" y2="0"><stop offset="0" stop-color="#00f7d9"/><stop offset="0.07" stop-color="#00f7d4"/><stop offset="0.14" stop-color="#00f7cf"/><stop offset="0.21" stop-color="#00f7c6"/><stop offset="0.29" stop-color="#00f7b8"/><stop offset="0.36" stop-color="#14f79c"/><stop offset="0.43" stop-color="#9ff78f"/><stop offset="0.5" stop-color="#e1f77d"/><stop offset="0.57" stop-color="#f7d752"/><stop offset="0.64" stop-color="#f7b307"/><stop offset="0.71" stop-color="#f79d00"/><stop offset="0.79" stop-color="#f78c00"/><stop offset="0.86" stop-color="#f77f00"/><stop offset="0.93" stop-color="#f77500"/><stop offset="1" stop-color="#f76c00"/></linearGradient>
<linearGradient id="g35" gradientUnits="userSpaceOnUse" x1="182.76" y1="0" x2="307.33" y2="0"><stop offset="0" stop-color="#00f7db"/><stop offset="0.07" stop-color="#00f7d7"/><stop offset="0.14" stop-color="#00f7d2"/><stop offset="0.21" stop-color="#00f7ca"/><stop offset="0.29" stop-color="#00f7bd"/><stop offset="0.36" stop-color="#2ff7a4"/><stop offset="0.43" stop-color="#a6f798"/><stop offset="0.5" stop-color="#e9f787"/><stop offset="0.57" stop-color="#f7d05c"/><stop offset="0.64" stop-color="#f7ad27"/><stop offset="0.71" stop-color="#f79600"/><stop offset="0.79" stop-color="#f78600"/><stop offset="0.86" stop-color="#f77900"/><stop offset="0.93" stop-color="#f76f00"/><stop offset="1" stop-color="#f76700"/></linearGradient>
<linearGradient id="g36" gradientUnits="userSpaceOnUse" x1="182.76" y1="0" x2="307.33" y2="0"><stop offset="0" stop-color="#00f7de"/><stop offset="0.07" stop-color="#00f7da"/><stop offset="0.14" stop-color="#00f7d5"/><stop offset="0.21" stop-color="#00f7ce"/><stop offset="0.29" stop-color="#00f7c2"/><stop offset="0.36" stop-color="#40f7ac"/><stop offset="0.43" stop-color="#aef7a1"/><stop offset="0.5" stop-color="#f2f792"/><stop offset="0.57" stop-color="#f7ca64"/><stop offset="0.64" stop-color="#f7a736"/><stop offset="0.71" stop-color="#f78e00"/><stop offset="0.79" stop-color="#f77f00"/><stop offset="0.86" stop-color="#f77300"/><stop offset="0.93" stop-color="#f76900"/><stop offset="1" stop-color="#f76100"/></linearGradient>
<linearGradient id="g37" gradientUnits="userSpaceOnUse" x1="182.76" y1="0" x2="307.33" y2="0"><stop offset="0" stop-color="#00f7e1"/><stop offset="0.07" stop-color="#00f7dd"/><stop offset="0.14" stop-color="#00f7d9"/><stop offset="0.21" stop-color="#00f7d2"/><stop offset="0.29" stop-color="#00f7c7"/><stop offset="0.36" stop-color="#4df7b4"/><stop offset="0.43" stop-color="#b6f7aa"/><stop offset="0.5" stop-color="#f7f49b"/><stop offset="0.57" stop-color="#f7c26b"/><stop offset="0.64" stop-color="#f7a142"/><stop offset="0.71" stop-color="#f78700"/><stop offset="0.79" stop-color="#f77800"/><stop offset="0.86" stop-color="#f76c00"/><stop offset="0.93" stop-color="#f76200"/><stop offset="1" stop-color="#f75a00"/></linearGradient>
<linearGradient id="g38" gradientUnits="userSpaceOnUse" x1="182.76" y1="0" x2="307.33" y2="0"><stop offset="0" stop-color="#00f7e3"/><stop offset="0.07" stop-color="#00f7e1"/><stop offset="0.14" stop-color="#00f7dd"/><stop offset="0.21" stop-color="#00f7d7"/><stop offset="0.29" stop-color="#00f7cc"/><stop offset="0.36" stop-color="#5af7bc"/><stop offset="0.43" stop-color="#bef7b4"/><stop offset="0.5" stop-color="#f7eba0"/><stop offset="0.57" stop-color="#f7bb72"/><stop offset="0.64" stop-color="#f79a4b"/><stop offset="0.71" stop-color="#f78019"/><stop offset="0.79" stop-color="#f77000"/><stop offset="0.86" stop-color="#f76400"/><stop offset="0.93" stop-color="#f75b00"/><stop offset="1" stop-color="#f75300"/></linearGradient>
<linearGradient id="g39" gradientUnits="userSpaceOnUse" x1="182.76" y1="0" x2="307.33" y2="0"><stop offset="0" stop-color="#00f7e6"/><stop offset="0.07" stop-color="#00f7e4"/><stop offset="0.14" stop-color="#00f7e0"/><stop offset="0.21" stop-color="#00f7db"/><stop offset="0.29" stop-color="#00f7d2"/><stop offset="0.36" stop-color="#65f7c5"/><stop offset="0.43" stop-color="#c7f7be"/><stop offset="0.5" stop-color="#f7e2a4"/><stop offset="0.57" stop-color="#f7b477"/><stop offset="0.64" stop-color="#f79453"/><stop offset="0.71" stop-color="#f7792a"/><stop offset="0.79" stop-color="#f76700"/><stop offset="0.86" stop-color="#f75c00"/><stop offset="0.93" stop-color="#f75300"/><stop offset="1" stop-color="#f74b00"/></linearGradient>
<linearGradient id="g40" gradientUnits="userSpaceOnUse" x1="182.76" y1="0" x2="307.33" y2="0"><stop offset="0" stop-color="#00f7e9"/><stop offset="0.07" stop-color="#00f7e7"/><stop offset="0.14" stop-color="#00f7e4"/><stop offset="0.21" stop-color="#00f7e0"/><stop offset="0.29" stop-color="#00f7d8"/><stop offset="0.36" stop-color="#70f7ce"/><stop offset="0.43" stop-color="#d0f7c8"/><stop offset="0.5" stop-color="#f7d9a8"/><stop offset="0.57" stop-color="#f7ad7d"/><stop offset="0.64" stop-color="#f78d5a"/><stop offset="0.71" stop-color="#f77336"/><stop offset="0.79" stop-color="#f75d00"/><stop offset="0.86" stop-color="#f75300"/><stop offset="0.93" stop-color="#f74a00"/><stop offset="1" stop-color="#f74300"/></linearGradient>
<linearGradient id="g41" gradientUnits="userSpaceOnUse" x1="182.76" y1="0" x2="307.33" y2="0"><stop offset="0" stop-color="#00f7ec"/><stop offset="0.07" stop-color="#00f7eb"/><stop offset="0.14" stop-color="#00f7e9"/><stop offset="0.21" stop-color="#00f7e5"/><stop offset="0.29" stop-color="#00f7df"/><stop offset="0.36" stop-color="#7bf7d7"/><stop offset="0.43" stop-color="#daf7d2"/><stop offset="0.5" stop-color="#f7d1ac"/><stop offset="0.57" stop-color="#f7a681"/><stop offset="0.64" stop-color="#f78660"/><stop offset="0.71" stop-color="#f76c3f"/><stop offset="0.79" stop-color="#f7530b"/><stop offset="0.86" stop-color="#f74800"/><stop offset="0.93" stop-color="#f73f00"/><stop offset="1" stop-color="#f73a00"/></linearGradient>
<linearGradient id="g42" gradientUnits="userSpaceOnUse" x1="182.76" y1="0" x2="307.33" y2="0"><stop offset="0" stop-color="#00f7f0"/><stop offset="0.07" stop-color="#00f7ee"/><stop offset="0.14" stop-color="#00f7ed"/><stop offset="0.21" stop-color="#00f7ea"/><stop offset="0.29" stop-color="#00f7e6"/><stop offset="0.36" stop-color="#86f7e1"/><stop offset="0.43" stop-color="#e4f7dd"/><stop offset="0.5" stop-color="#f7c8af"/><stop offset="0.57" stop-color="#f79e86"/><stop offset="0.64" stop-color="#f77f65"/><stop offset="0.71" stop-color="#f76446"/><stop offset="0.79" stop-color="#f74b20"/><stop offset="0.86" stop-color="#f73b00"/><stop offset="0.93" stop-color="#f73200"/><stop offset="1" stop-color="#f72f00"/></linearGradient>
<linearGradient id="g43" gradientUnits="userSpaceOnUse" x1="182.76" y1="0" x2="307.33" y2="0"><stop offset="0" stop-color="#00f7f3"/><stop offset="0.07" stop-color="#00f7f2"/><stop offset="0.14" stop-color="#00f7f1"/><stop offset="0.21" stop-color="#00f7f0"/><stop offset="0.29" stop-color="#00f7ee"/><stop offset="0.36" stop-color="#90f7eb"/><stop offset="0.43" stop-color="#eff7e9"/><stop offset="0.5" stop-color="#f7bfb2"/><stop offset="0.57" stop-color="#f7978a"/><stop offset="0.64" stop-color="#f7786a"/><stop offset="0.71" stop-color="#f75c4d"/><stop offset="0.79" stop-color="#f7422c"/><stop offset="0.86" stop-color="#f72900"/><stop offset="0.93" stop-color="#f72200"/><stop offset="1" stop-color="#f72000"/></linearGradient>
<linearGradient id="g44" gradientUnits="userSpaceOnUse" x1="182.76" y1="0" x2="307.33" y2="0"><stop offset="0" stop-color="#00f7f6"/><stop offset="0.07" stop-color="#00f7f6"/><stop offset="0.14" stop-color="#00f7f6"/><stop offset="0.21" stop-color="#00f7f6"/><stop offset="0.29" stop-color="#00f7f6"/><stop offset="0.36" stop-color="#9bf7f6"/><stop offset="0.43" stop-color="#f7f4f2"/><stop offset="0.5" stop-color="#f7b6b5"/><stop offset="0.57" stop-color="#f78f8e"/><stop offset="0.64" stop-color="#f7706f"/><stop offset="0.71" stop-color="#f75453"/><stop offset="0.79" stop-color="#f73635"/><stop offset="0.86" stop-color="#f70200"/><stop offset="0.93" stop-color="#f70100"/><stop offset="1" stop-color="#f70000"/></linearGradient>
<linearGradient id="g45" gradientUnits="userSpaceOnUse" x1="182.76" y1="0" x2="307.33" y2="0"><stop offset="0" stop-color="#00f4f7"/><stop offset="0.07" stop-color="#00f4f7"/><stop offset="0.14" stop-color="#00f3f7"/><stop offset="0.21" stop-color="#00f2f7"/><stop offset="0.29" stop-color="#00eff7"/><stop offset="0.36" stop-color="#a0edf7"/><stop offset="0.43" stop-color="#f7e8f3"/><stop offset="0.5" stop-color="#f7adb8"/><stop offset="0.57" stop-color="#f78691"/><stop offset="0.64" stop-color="#f76773"/><stop offset="0.71" stop-color="#f74a58"/><stop offset="0.79" stop-color="#f7283d"/><stop offset="0.86" stop-color="#f70026"/><stop offset="0.93" stop-color="#f70021"/><stop offset="1" stop-color="#f7001f"/></linearGradient>
<linearGradient id="g46" gradientUnits="userSpaceOnUse" x1="182.76" y1="0" x2="307.33" y2="0"><stop offset="0" stop-color="#00f1f7"/><stop offset="0.07" stop-color="#00f0f7"/><stop offset="0.14" stop-color="#00eef7"/><stop offset="0.21" stop-color="#00ebf7"/><stop offset="0.29" stop-color="#00e6f7"/><stop offset="0.36" stop-color="#a3e2f7"/><stop offset="0.43" stop-color="#f7dcf4"/><stop offset="0.5" stop-color="#f7a4bb"/><stop offset="0.57" stop-color="#f77e95"/><stop offset="0.64" stop-color="#f75e77"/><stop offset="0.71" stop-color="#f73f5d"/><stop offset="0.79" stop-color="#f71043"/><stop offset="0.86" stop-color="#f70037"/><stop offset="0.93" stop-color="#f70031"/><stop offset="1" stop-color="#f7002e"/></linearGradient>
<linearGradient id="g47" gradientUnits="userSpaceOnUse" x1="182.76" y1="0" x2="307.33" y2="0"><stop offset="0" stop-color="#00edf7"/><stop offset="0.07" stop-color="#00ebf7"/><stop offset="0.14" stop-color="#00e9f7"/><stop offset="0.21" stop-color="#00e5f7"/><stop offset="0.29" stop-color="#00ddf7"/><stop offset="0.36" stop-color="#a6d8f7"/><stop offset="0.43" stop-color="#f7d1f5"/><stop offset="0.5" stop-color="#f79bbd"/><stop offset="0.57" stop-color="#f77598"/><stop offset="0.64" stop-color="#f7547b"/><stop offset="0.71" stop-color="#f73161"/><stop offset="0.79" stop-color="#f7004d"/><stop offset="0.86" stop-color="#f70044"/><stop offset="0.93" stop-color="#f7003c"/><stop offset="1" stop-color="#f70038"/></linearGradient>
<linearGradient id="g48" gradientUnits="userSpaceOnUse" x1="182.76" y1="0" x2="307.33" y2="0"><stop offset="0" stop-color="#00eaf7"/><stop offset="0.07" stop-color="#00e7f7"/><stop offset="0.14" stop-color="#00e4f7"/><stop offset="0.21" stop-color="#00def7"/><stop offset="0.29" stop-color="#00d3f7"/><stop offset="0.36" stop-color="#a9cdf7"/><stop offset="0.43" stop-color="#f7c5f6"/><stop offset="0.5" stop-color="#f791bf"/><stop offset="0.57" stop-color="#f76b9b"/><stop offset="0.64" stop-color="#f7497e"/><stop offset="0.71" stop-color="#f71e66"/><stop offset="0.79" stop-color="#f70057"/><stop offset="0.86" stop-color="#f7004d"/><stop offset="0.93" stop-color="#f70045"/><stop offset="1" stop-color="#f70041"/></linearGradient>
<linearGradient id="g49" gradientUnits="userSpaceOnUse" x1="182.76" y1="0" x2="307.33" y2="0"><stop offset="0" stop-color="#00e6f7"/><stop offset="0.07" stop-color="#00e3f7"/><stop offset="0.14" stop-color="#00dff7"/><stop offset="0.21" stop-color="#00d8f7"/><stop offset="0.29" stop-color="#00c9f7"/><stop offset="0.36" stop-color="#abc3f7"/><stop offset="0.43" stop-color="#f7baf7"/><stop offset="0.5" stop-color="#f787c1"/><stop offset="0.57" stop-color="#f7609d"/><stop offset="0.64" stop-color="#f73b81"/><stop offset="0.71" stop-color="#f7006b"/><stop offset="0.79" stop-color="#f7005f"/><stop offset="0.86" stop-color="#f70056"/><stop offset="0.93" stop-color="#f7004d"/><stop offset="1" stop-color="#f70048"/></linearGradient>
<linearGradient id="g50" gradientUnits="userSpaceOnUse" x1="182.76" y1="0" x2="307.33" y2="0"><stop offset="0" stop-color="#00e2f7"/><stop offset="0.07" stop-color="#00dff7"/><stop offset="0.14" stop-color="#00daf7"/><stop offset="0.21" stop-color="#00d1f7"/><stop offset="0.29" stop-color="#27c0f7"/><stop offset="0.36" stop-color="#aeb8f7"/><stop offset="0.43" stop-color="#f6adf7"/><stop offset="0.5" stop-color="#f77cc3"/><stop offset="0.57" stop-color="#f755a0"/><stop offset="0.64" stop-color="#f72a84"/><stop offset="0.71" stop-color="#f70072"/><stop offset="0.79" stop-color="#f70066"/><stop offset="0.86" stop-color="#f7005d"/><stop offset="0.93" stop-color="#f70054"/><stop offset="1" stop-color="#f7004e"/></linearGradient>
<linearGradient id="g51" gradientUnits="userSpaceOnUse" x1="182.76" y1="0" x2="307.33" y2="0"><stop offset="0" stop-color="#00dff7"/><stop offset="0.07" stop-color="#00dbf7"/><stop offset="0.14" stop-color="#00d4f7"/><stop offset="0.21" stop-color="#00caf7"/><stop offset="0.29" stop-color="#3ab7f7"/><stop offset="0.36" stop-color="#b0adf7"/><stop offset="0.43" stop-color="#f6a1f7"/><stop offset="0.5" stop-color="#f771c5"/><stop offset="0.57" stop-color="#f747a2"/><stop offset="0.64" stop-color="#f70587"/><stop offset="0.71" stop-color="#f70078"/><stop offset="0.79" stop-color="#f7006c"/><stop offset="0.86" stop-color="#f70063"/><stop offset="0.93" stop-color="#f7005b"/><stop offset="1" stop-color="#f70053"/></linearGradient>
<linearGradient id="g52" gradientUnits="userSpaceOnUse" x1="182.76" y1="0" x2="307.33" y2="0"><stop offset="0" stop-color="#00dbf7"/><stop offset="0.07" stop-color="#00d6f7"/><stop offset="0.14" stop-color="#00cff7"/><stop offset="0.21" stop-color="#00c3f7"/><stop offset="0.29" stop-color="#47adf7"/><stop offset="0.36" stop-color="#b1a3f7"/><stop offset="0.43" stop-color="#f594f7"/><stop offset="0.5" stop-color="#f764c7"/><stop offset="0.57" stop-color="#f736a5"/><stop offset="0.64" stop-color="#f7008d"/><stop offset="0.71" stop-color="#f7007e"/><stop offset="0.79" stop-color="#f70072"/><stop offset="0.86" stop-color="#f70068"/><stop offset="0.93" stop-color="#f70060"/><stop offset="1" stop-color="#f70059"/></linearGradient>
<linearGradient id="g53" gradientUnits="userSpaceOnUse" x1="182.76" y1="0" x2="307.33" y2="0"><stop offset="0" stop-color="#00d8f7"/><stop offset="0.07" stop-color="#00d2f7"/><stop offset="0.14" stop-color="#00caf7"/><stop offset="0.21" stop-color="#00bbf7"/><stop offset="0.29" stop-color="#51a4f7"/><stop offset="0.36" stop-color="#b398f7"/><stop offset="0.43" stop-color="#f486f7"/><stop offset="0.5" stop-color="#f756c9"/><stop offset="0.57" stop-color="#f71ba7"/><stop offset="0.64" stop-color="#f70092"/><stop offset="0.71" stop-color="#f70083"/><stop offset="0.79" stop-color="#f70077"/><stop offset="0.86" stop-color="#f7006d"/><stop offset="0.93" stop-color="#f70065"/><stop offset="1" stop-color="#f7005e"/></linearGradient>
<linearGradient id="g54" gradientUnits="userSpaceOnUse" x1="182.76" y1="0" x2="307.33" y2="0"><stop offset="0" stop-color="#00d4f7"/><stop offset="0.07" stop-color="#00cef7"/><stop offset="0.14" stop-color="#00c4f7"/><stop offset="0.21" stop-color="#00b4f7"/><stop offset="0.29" stop-color="#599af7"/><stop offset="0.36" stop-color="#b58cf7"/><stop offset="0.43" stop-color="#f478f7"/><stop offset="0.5" stop-color="#f744ca"/><stop offset="0.57" stop-color="#f700aa"/><stop offset="0.64" stop-color="#f70096"/><stop offset="0.71" stop-color="#f70088"/><stop offset="0.79" stop-color="#f7007c"/><stop offset="0.86" stop-color="#f70072"/><stop offset="0.93" stop-color="#f7006a"/><stop offset="1" stop-color="#f70063"/></linearGradient>
<linearGradient id="g55" gradientUnits="userSpaceOnUse" x1="182.76" y1="0" x2="307.33" y2="0"><stop offset="0" stop-color="#00d0f7"/><stop offset="0.07" stop-color="#00c9f7"/><stop offset="0.14" stop-color="#00bff7"/><stop offset="0.21" stop-color="#00acf7"/><stop offset="0.29" stop-color="#6090f7"/><stop offset="0.36" stop-color="#b680f7"/><stop offset="0.43" stop-color="#f368f7"/><stop offset="0.5" stop-color="#f72ccc"/><stop offset="0.57" stop-color="#f700ae"/><stop offset="0.64" stop-color="#f7009b"/><stop offset="0.71" stop-color="#f7008c"/><stop offset="0.79" stop-color="#f70080"/><stop offset="0.86" stop-color="#f70076"/><stop offset="0.93" stop-color="#f7006e"/><stop offset="1" stop-color="#f70067"/></linearGradient>
<linearGradient id="g56" gradientUnits="userSpaceOnUse" x1="182.76" y1="0" x2="307.33" y2="0"><stop offset="0" stop-color="#00cdf7"/><stop offset="0.07" stop-color="#00c5f7"/><stop offset="0.14" stop-color="#00b9f7"/><stop offset="0.21" stop-color="#00a3f7"/><stop offset="0.29" stop-color="#6786f7"/><stop offset="0.36" stop-color="#b873f7"/><stop offset="0.43" stop-color="#f355f7"/><stop offset="0.5" stop-color="#f700ce"/><stop offset="0.57" stop-color="#f700b2"/><stop offset="0.64" stop-color="#f7009e"/><stop offset="0.71" stop-color="#f70090"/><stop offset="0.79" stop-color="#f70084"/><stop offset="0.86" stop-color="#f7007a"/><stop offset="0.93" stop-color="#f70072"/><stop offset="1" stop-color="#f7006b"/></linearGradient>
<linearGradient id="g57" gradientUnits="userSpaceOnUse" x1="182.76" y1="0" x2="307.33" y2="0"><stop offset="0" stop-color="#00c9f7"/><stop offset="0.07" stop-color="#00c0f7"/><stop offset="0.14" stop-color="#00b3f7"/><stop offset="0.21" stop-color="#009af7"/><stop offset="0.29" stop-color="#6c7bf7"/><stop offset="0.36" stop-color="#b965f7"/><stop offset="0.43" stop-color="#f23ef7"/><stop offset="0.5" stop-color="#f700d0"/><stop offset="0.57" stop-color="#f700b5"/><stop offset="0.64" stop-color="#f700a2"/><stop offset="0.71" stop-color="#f70093"/><stop offset="0.79" stop-color="#f70088"/><stop offset="0.86" stop-color="#f7007e"/><stop offset="0.93" stop-color="#f70076"/><stop offset="1" stop-color="#f7006e"/></linearGradient>
<linearGradient id="g58" gradientUnits="userSpaceOnUse" x1="182.76" y1="0" x2="307.33" y2="0"><stop offset="0" stop-color="#00c5f7"/><stop offset="0.07" stop-color="#00bcf7"/><stop offset="0.14" stop-color="#00adf7"/><stop offset="0.21" stop-color="#0091f7"/><stop offset="0.29" stop-color="#7170f7"/><stop offset="0.36" stop-color="#ba55f7"/><stop offset="0.43" stop-color="#f215f7"/><stop offset="0.5" stop-color="#f700d2"/><stop offset="0.57" stop-color="#f700b8"/><stop offset="0.64" stop-color="#f700a5"/><stop offset="0.71" stop-color="#f70097"/><stop offset="0.79" stop-color="#f7008b"/><stop offset="0.86" stop-color="#f70081"/><stop offset="0.93" stop-color="#f70079"/><stop offset="1" stop-color="#f70072"/></linearGradient>
<linearGradient id="g59" gradientUnits="userSpaceOnUse" x1="182.76" y1="0" x2="307.33" y2="0"><stop offset="0" stop-color="#00c1f7"/><stop offset="0.07" stop-color="#00b7f7"/><stop offset="0.14" stop-color="#00a6f7"/><stop offset="0.21" stop-color="#0087f7"/><stop offset="0.29" stop-color="#7563f7"/><stop offset="0.36" stop-color="#bc42f7"/><stop offset="0.43" stop-color="#f200f7"/><stop offset="0.5" stop-color="#f700d4"/><stop offset="0.57" stop-color="#f700bb"/><stop offset="0.64" stop-color="#f700a8"/><stop offset="0.71" stop-color="#f7009a"/><stop offset="0.79" stop-color="#f7008e"/><stop offset="0.86" stop-color="#f70084"/><stop offset="0.93" stop-color="#f7007c"/><stop offset="1" stop-color="#f70075"/></linearGradient>
<linearGradient id="g60" gradientUnits="userSpaceOnUse" x1="182.76" y1="0" x2="307.33" y2="0"><stop offset="0" stop-color="#00bdf7"/><stop offset="0.07" stop-color="#00b2f7"/><stop offset="0.14" stop-color="#00a0f7"/><stop offset="0.21" stop-color="#007cf7"/><stop offset="0.29" stop-color="#7955f7"/><stop offset="0.36" stop-color="#bd25f7"/><stop offset="0.43" stop-color="#f200f7"/><stop offset="0.5" stop-color="#f700d6"/><stop offset="0.57" stop-color="#f700bd"/><stop offset="0.64" stop-color="#f700ab"/><stop offset="0.71" stop-color="#f7009d"/><stop offset="0.79" stop-color="#f70091"/><stop offset="0.86" stop-color="#f70087"/><stop offset="0.93" stop-color="#f7007f"/><stop offset="1" stop-color="#f70078"/></linearGradient>
<linearGradient id="g61" gradientUnits="userSpaceOnUse" x1="182.76" y1="0" x2="307.33" y2="0"><stop offset="0" stop-color="#00b9f7"/><stop offset="0.07" stop-color="#00adf7"/><stop offset="0.14" stop-color="#0099f7"/><stop offset="0.21" stop-color="#006ff7"/><stop offset="0.29" stop-color="#7d45f7"/><stop offset="0.36" stop-color="#bf00f7"/><stop offset="0.43" stop-color="#f100f7"/><stop offset="0.5" stop-color="#f700d8"/><stop offset="0.57" stop-color="#f700bf"/><stop offset="0.64" stop-color="#f700ad"/><stop offset="0.71" stop-color="#f7009f"/><stop offset="0.79" stop-color="#f70094"/><stop offset="0.86" stop-color="#f7008a"/><stop offset="0.93" stop-color="#f70082"/><stop offset="1" stop-color="#f7007b"/></linearGradient>
<linearGradient id="g62" gradientUnits="userSpaceOnUse" x1="182.76" y1="0" x2="307.33" y2="0"><stop offset="0" stop-color="#00b5f7"/><stop offset="0.07" stop-color="#00a8f7"/><stop offset="0.14" stop-color="#0092f7"/><stop offset="0.21" stop-color="#0061f7"/><stop offset="0.29" stop-color="#812ef7"/><stop offset="0.36" stop-color="#c100f7"/><stop offset="0.43" stop-color="#f100f7"/><stop offset="0.5" stop-color="#f700da"/><stop offset="0.57" stop-color="#f700c2"/><stop offset="0.64" stop-color="#f700b0"/><stop offset="0.71" stop-color="#f700a2"/><stop offset="0.79" stop-color="#f70096"/><stop offset="0.86" stop-color="#f7008d"/><stop offset="0.93" stop-color="#f70085"/><stop offset="1" stop-color="#f7007d"/></linearGradient>
<linearGradient id="g63" gradientUnits="userSpaceOnUse" x1="182.76" y1="0" x2="307.33" y2="0"><stop offset="0" stop-color="#00b1f7"/><stop offset="0.07" stop-color="#00a3f7"/><stop offset="0.14" stop-color="#008af7"/><stop offset="0.21" stop-color="#0050f7"/><stop offset="0.29" stop-color="#8400f7"/><stop offset="0.36" stop-color="#c400f7"/><stop offset="0.43" stop-color="#f100f7"/><stop offset="0.5" stop-color="#f700db"/><stop offset="0.57" stop-color="#f700c4"/><stop offset="0.64" stop-color="#f700b2"/><stop offset="0.71" stop-color="#f700a4"/><stop offset="0.79" stop-color="#f70099"/><stop offset="0.86" stop-color="#f7008f"/><stop offset="0.93" stop-color="#f70087"/><stop offset="1" stop-color="#f70080"/></linearGradient>
<linearGradient id="g64" gradientUnits="userSpaceOnUse" x1="182.76" y1="0" x2="307.33" y2="0"><stop offset="0" stop-color="#00adf7"/><stop offset="0.07" stop-color="#009df7"/><stop offset="0.14" stop-color="#0082f7"/><stop offset="0.21" stop-color="#0039f7"/><stop offset="0.29" stop-color="#8b00f7"/><stop offset="0.36" stop-color="#c600f7"/><stop offset="0.43" stop-color="#f100f7"/><stop offset="0.5" stop-color="#f700dc"/><stop offset="0.57" stop-color="#f700c5"/><stop offset="0.64" stop-color="#f700b4"/><stop offset="0.71" stop-color="#f700a7"/><stop offset="0.79" stop-color="#f7009b"/><stop offset="0.86" stop-color="#f70092"/><stop offset="0.93" stop-color="#f7008a"/><stop offset="1" stop-color="#f70083"/></linearGradient>
<linearGradient id="g65" gradientUnits="userSpaceOnUse" x1="182.76" y1="0" x2="307.33" y2="0"><stop offset="0" stop-color="#00a9f7"/><stop offset="0.07" stop-color="#0098f7"/><stop offset="0.14" stop-color="#0079f7"/><stop offset="0.21" stop-color="#1215f7"/><stop offset="0.29" stop-color="#9100f7"/><stop offset="0.36" stop-color="#c800f7"/><stop offset="0.43" stop-color="#f100f7"/><stop offset="0.5" stop-color="#f700de"/><stop offset="0.57" stop-color="#f700c7"/><stop offset="0.64" stop-color="#f700b6"/><stop offset="0.71" stop-color="#f700a9"/><stop offset="0.79" stop-color="#f7009e"/><stop offset="0.86" stop-color="#f70094"/><stop offset="0.93" stop-color="#f7008c"/><stop offset="1" stop-color="#f70085"/></linearGradient>
<linearGradient id="g66" gradientUnits="userSpaceOnUse" x1="182.76" y1="0" x2="307.33" y2="0"><stop offset="0" stop-color="#00a4f7"/><stop offset="0.07" stop-color="#0092f7"/><stop offset="0.14" stop-color="#0070f7"/><stop offset="0.21" stop-color="#3400f7"/><stop offset="0.29" stop-color="#9700f7"/><stop offset="0.36" stop-color="#c900f7"/><stop offset="0.43" stop-color="#f100f7"/><stop offset="0.5" stop-color="#f700df"/><stop offset="0.57" stop-color="#f700c9"/><stop offset="0.64" stop-color="#f700b8"/><stop offset="0.71" stop-color="#f700ab"/><stop offset="0.79" stop-color="#f700a0"/><stop offset="0.86" stop-color="#f70096"/><stop offset="0.93" stop-color="#f7008e"/><stop offset="1" stop-color="#f70087"/></linearGradient>
<linearGradient id="g67" gradientUnits="userSpaceOnUse" x1="182.76" y1="0" x2="307.33" y2="0"><stop offset="0" stop-color="#00a0f7"/><stop offset="0.07" stop-color="#008cf7"/><stop offset="0.14" stop-color="#0066f7"/><stop offset="0.21" stop-color="#4900f7"/><stop offset="0.29" stop-color="#9b00f7"/><stop offset="0.36" stop-color="#cb00f7"/><stop offset="0.43" stop-color="#f000f7"/><stop offset="0.5" stop-color="#f700e0"/><stop offset="0.57" stop-color="#f700ca"/><stop offset="0.64" stop-color="#f700ba"/><stop offset="0.71" stop-color="#f700ad"/><stop offset="0.79" stop-color="#f700a2"/><stop offset="0.86" stop-color="#f70098"/><stop offset="0.93" stop-color="#f70090"/><stop offset="1" stop-color="#f70089"/></linearGradient>
<linearGradient id="g68" gradientUnits="userSpaceOnUse" x1="182.76" y1="0" x2="307.33" y2="0"><stop offset="0" stop-color="#009bf7"/><stop offset="0.07" stop-color="#0085f7"/><stop offset="0.14" stop-color="#005bf7"/><stop offset="0.21" stop-color="#5700f7"/><stop offset="0.29" stop-color="#9f00f7"/><stop offset="0.36" stop-color="#cc00f7"/><stop offset="0.43" stop-color="#f000f7"/><stop offset="0.5" stop-color="#f700e1"/><stop offset="0.57" stop-color="#f700cc"/><stop offset="0.64" stop-color="#f700bc"/><stop offset="0.71" stop-color="#f700af"/><stop offset="0.79" stop-color="#f700a4"/><stop offset="0.86" stop-color="#f7009a"/><stop offset="0.93" stop-color="#f70092"/><stop offset="1" stop-color="#f7008b"/></linearGradient>
<linearGradient id="g69" gradientUnits="userSpaceOnUse" x1="182.76" y1="0" x2="307.33" y2="0"><stop offset="0" stop-color="#0096f7"/><stop offset="0.07" stop-color="#007ff7"/><stop offset="0.14" stop-color="#004ff7"/><stop offset="0.21" stop-color="#6200f7"/><stop offset="0.29" stop-color="#a300f7"/><stop offset="0.36" stop-color="#ce00f7"/><stop offset="0.43" stop-color="#f000f7"/><stop offset="0.5" stop-color="#f700e2"/><stop offset="0.57" stop-color="#f700cd"/><stop offset="0.64" stop-color="#f700bd"/><stop offset="0.71" stop-color="#f700b0"/><stop offset="0.79" stop-color="#f700a5"/><stop offset="0.86" stop-color="#f7009c"/><stop offset="0.93" stop-color="#f70094"/><stop offset="1" stop-color="#f7008d"/></linearGradient>
<linearGradient id="g70" gradientUnits="userSpaceOnUse" x1="182.76" y1="0" x2="307.33" y2="0"><stop offset="0" stop-color="#0092f7"/><stop offset="0.07" stop-color="#0078f7"/><stop offset="0.14" stop-color="#0042f7"/><stop offset="0.21" stop-color="#6a00f7"/><stop offset="0.29" stop-color="#a600f7"/><stop offset="0.36" stop-color="#cf00f7"/><stop offset="0.43" stop-color="#f000f7"/><stop offset="0.5" stop-color="#f700e3"/><stop offset="0.57" stop-color="#f700ce"/><stop offset="0.64" stop-color="#f700bf"/><stop offset="0.71" stop-color="#f700b2"/><stop offset="0.79" stop-color="#f700a7"/><stop offset="0.86" stop-color="#f7009e"/><stop offset="0.93" stop-color="#f70096"/><stop offset="1" stop-color="#f7008f"/></linearGradient>
</defs>
<g clip-path="url(#cieclip)">
<rect x="184.4" y="116.6" width="131" height="2.2" fill="url(#g0)" stroke="none" stroke-width="0.6"/>
<rect x="184.4" y="118.1" width="131" height="2.2" fill="url(#g1)" stroke="none" stroke-width="0.6"/>
<rect x="184.4" y="119.6" width="131" height="2.2" fill="url(#g2)" stroke="none" stroke-width="0.6"/>
<rect x="184.4" y="121.1" width="131" height="2.2" fill="url(#g3)" stroke="none" stroke-width="0.6"/>
<rect x="184.4" y="122.6" width="131" height="2.2" fill="url(#g4)" stroke="none" stroke-width="0.6"/>
<rect x="184.4" y="124.1" width="131" height="2.2" fill="url(#g5)" stroke="none" stroke-width="0.6"/>
<rect x="184.4" y="125.6" width="131" height="2.2" fill="url(#g6)" stroke="none" stroke-width="0.6"/>
<rect x="184.4" y="127.1" width="131" height="2.2" fill="url(#g7)" stroke="none" stroke-width="0.6"/>
<rect x="184.4" y="128.6" width="131" height="2.2" fill="url(#g8)" stroke="none" stroke-width="0.6"/>
<rect x="184.4" y="130.1" width="131" height="2.2" fill="url(#g9)" stroke="none" stroke-width="0.6"/>
<rect x="184.4" y="131.6" width="131" height="2.2" fill="url(#g10)" stroke="none" stroke-width="0.6"/>
<rect x="184.4" y="133.1" width="131" height="2.2" fill="url(#g11)" stroke="none" stroke-width="0.6"/>
<rect x="184.4" y="134.6" width="131" height="2.2" fill="url(#g12)" stroke="none" stroke-width="0.6"/>
<rect x="184.4" y="136.1" width="131" height="2.2" fill="url(#g13)" stroke="none" stroke-width="0.6"/>
<rect x="184.4" y="137.6" width="131" height="2.2" fill="url(#g14)" stroke="none" stroke-width="0.6"/>
<rect x="184.4" y="139.1" width="131" height="2.2" fill="url(#g15)" stroke="none" stroke-width="0.6"/>
<rect x="184.4" y="140.6" width="131" height="2.2" fill="url(#g16)" stroke="none" stroke-width="0.6"/>
<rect x="184.4" y="142.1" width="131" height="2.2" fill="url(#g17)" stroke="none" stroke-width="0.6"/>
<rect x="184.4" y="143.6" width="131" height="2.2" fill="url(#g18)" stroke="none" stroke-width="0.6"/>
<rect x="184.4" y="145.1" width="131" height="2.2" fill="url(#g19)" stroke="none" stroke-width="0.6"/>
<rect x="184.4" y="146.6" width="131" height="2.2" fill="url(#g20)" stroke="none" stroke-width="0.6"/>
<rect x="184.4" y="148.1" width="131" height="2.2" fill="url(#g21)" stroke="none" stroke-width="0.6"/>
<rect x="184.4" y="149.6" width="131" height="2.2" fill="url(#g22)" stroke="none" stroke-width="0.6"/>
<rect x="184.4" y="151.1" width="131" height="2.2" fill="url(#g23)" stroke="none" stroke-width="0.6"/>
<rect x="184.4" y="152.6" width="131" height="2.2" fill="url(#g24)" stroke="none" stroke-width="0.6"/>
<rect x="184.4" y="154.1" width="131" height="2.2" fill="url(#g25)" stroke="none" stroke-width="0.6"/>
<rect x="184.4" y="155.6" width="131" height="2.2" fill="url(#g26)" stroke="none" stroke-width="0.6"/>
<rect x="184.4" y="157.1" width="131" height="2.2" fill="url(#g27)" stroke="none" stroke-width="0.6"/>
<rect x="184.4" y="158.6" width="131" height="2.2" fill="url(#g28)" stroke="none" stroke-width="0.6"/>
<rect x="184.4" y="160.1" width="131" height="2.2" fill="url(#g29)" stroke="none" stroke-width="0.6"/>
<rect x="184.4" y="161.6" width="131" height="2.2" fill="url(#g30)" stroke="none" stroke-width="0.6"/>
<rect x="184.4" y="163.1" width="131" height="2.2" fill="url(#g31)" stroke="none" stroke-width="0.6"/>
<rect x="184.4" y="164.6" width="131" height="2.2" fill="url(#g32)" stroke="none" stroke-width="0.6"/>
<rect x="184.4" y="166.1" width="131" height="2.2" fill="url(#g33)" stroke="none" stroke-width="0.6"/>
<rect x="184.4" y="167.6" width="131" height="2.2" fill="url(#g34)" stroke="none" stroke-width="0.6"/>
<rect x="184.4" y="169.1" width="131" height="2.2" fill="url(#g35)" stroke="none" stroke-width="0.6"/>
<rect x="184.4" y="170.6" width="131" height="2.2" fill="url(#g36)" stroke="none" stroke-width="0.6"/>
<rect x="184.4" y="172.1" width="131" height="2.2" fill="url(#g37)" stroke="none" stroke-width="0.6"/>
<rect x="184.4" y="173.6" width="131" height="2.2" fill="url(#g38)" stroke="none" stroke-width="0.6"/>
<rect x="184.4" y="175.1" width="131" height="2.2" fill="url(#g39)" stroke="none" stroke-width="0.6"/>
<rect x="184.4" y="176.6" width="131" height="2.2" fill="url(#g40)" stroke="none" stroke-width="0.6"/>
<rect x="184.4" y="178.1" width="131" height="2.2" fill="url(#g41)" stroke="none" stroke-width="0.6"/>
<rect x="184.4" y="179.6" width="131" height="2.2" fill="url(#g42)" stroke="none" stroke-width="0.6"/>
<rect x="184.4" y="181.1" width="131" height="2.2" fill="url(#g43)" stroke="none" stroke-width="0.6"/>
<rect x="184.4" y="182.6" width="131" height="2.2" fill="url(#g44)" stroke="none" stroke-width="0.6"/>
<rect x="184.4" y="184.1" width="131" height="2.2" fill="url(#g45)" stroke="none" stroke-width="0.6"/>
<rect x="184.4" y="185.6" width="131" height="2.2" fill="url(#g46)" stroke="none" stroke-width="0.6"/>
<rect x="184.4" y="187.1" width="131" height="2.2" fill="url(#g47)" stroke="none" stroke-width="0.6"/>
<rect x="184.4" y="188.6" width="131" height="2.2" fill="url(#g48)" stroke="none" stroke-width="0.6"/>
<rect x="184.4" y="190.1" width="131" height="2.2" fill="url(#g49)" stroke="none" stroke-width="0.6"/>
<rect x="184.4" y="191.6" width="131" height="2.2" fill="url(#g50)" stroke="none" stroke-width="0.6"/>
<rect x="184.4" y="193.1" width="131" height="2.2" fill="url(#g51)" stroke="none" stroke-width="0.6"/>
<rect x="184.4" y="194.6" width="131" height="2.2" fill="url(#g52)" stroke="none" stroke-width="0.6"/>
<rect x="184.4" y="196.1" width="131" height="2.2" fill="url(#g53)" stroke="none" stroke-width="0.6"/>
<rect x="184.4" y="197.6" width="131" height="2.2" fill="url(#g54)" stroke="none" stroke-width="0.6"/>
<rect x="184.4" y="199.1" width="131" height="2.2" fill="url(#g55)" stroke="none" stroke-width="0.6"/>
<rect x="184.4" y="200.6" width="131" height="2.2" fill="url(#g56)" stroke="none" stroke-width="0.6"/>
<rect x="184.4" y="202.1" width="131" height="2.2" fill="url(#g57)" stroke="none" stroke-width="0.6"/>
<rect x="184.4" y="203.6" width="131" height="2.2" fill="url(#g58)" stroke="none" stroke-width="0.6"/>
<rect x="184.4" y="205.1" width="131" height="2.2" fill="url(#g59)" stroke="none" stroke-width="0.6"/>
<rect x="184.4" y="206.6" width="131" height="2.2" fill="url(#g60)" stroke="none" stroke-width="0.6"/>
<rect x="184.4" y="208.1" width="131" height="2.2" fill="url(#g61)" stroke="none" stroke-width="0.6"/>
<rect x="184.4" y="209.6" width="131" height="2.2" fill="url(#g62)" stroke="none" stroke-width="0.6"/>
<rect x="184.4" y="211.1" width="131" height="2.2" fill="url(#g63)" stroke="none" stroke-width="0.6"/>
<rect x="184.4" y="212.6" width="131" height="2.2" fill="url(#g64)" stroke="none" stroke-width="0.6"/>
<rect x="184.4" y="214.1" width="131" height="2.2" fill="url(#g65)" stroke="none" stroke-width="0.6"/>
<rect x="184.4" y="215.6" width="131" height="2.2" fill="url(#g66)" stroke="none" stroke-width="0.6"/>
<rect x="184.4" y="217.1" width="131" height="2.2" fill="url(#g67)" stroke="none" stroke-width="0.6"/>
<rect x="184.4" y="218.6" width="131" height="2.2" fill="url(#g68)" stroke="none" stroke-width="0.6"/>
<rect x="184.4" y="220.1" width="131" height="2.2" fill="url(#g69)" stroke="none" stroke-width="0.6"/>
<rect x="184.4" y="221.6" width="131" height="2.2" fill="url(#g70)" stroke="none" stroke-width="0.6"/>
</g>
<path d="M212.93,222.01 L212.92,222.01 L212.89,222.01 L212.86,222.02 L212.83,222.03 L212.8,222.03 L212.78,222.03 L212.76,222.03 L212.74,222.03 L212.72,222.03 L212.69,222.03 L212.66,222.03 L212.63,222.03 L212.59,222.02 L212.55,222.01 L212.49,221.99 L212.43,221.97 L212.36,221.93 L212.28,221.89 L212.19,221.84 L212.08,221.78 L211.96,221.71 L211.84,221.62 L211.69,221.53 L211.53,221.43 L211.35,221.31 L211.14,221.17 L210.91,221.04 L210.66,220.88 L210.38,220.7 L210.07,220.5 L209.72,220.28 L209.35,220.06 L208.95,219.81 L208.5,219.49 L208,219.07 L207.41,218.53 L206.74,217.88 L206.04,217.17 L205.35,216.44 L204.74,215.73 L204.22,215.08 L203.76,214.46 L203.32,213.82 L202.86,213.11 L202.36,212.29 L201.81,211.37 L201.24,210.38 L200.64,209.3 L200.02,208.13 L199.36,206.84 L198.67,205.44 L197.94,203.94 L197.18,202.34 L196.42,200.61 L195.66,198.76 L194.9,196.76 L194.13,194.63 L193.36,192.39 L192.59,190.02 L191.84,187.55 L191.09,184.95 L190.34,182.21 L189.6,179.37 L188.9,176.47 L188.25,173.57 L187.65,170.63 L187.08,167.61 L186.57,164.58 L186.11,161.57 L185.74,158.64 L185.45,155.76 L185.22,152.91 L185.07,150.11 L185,147.4 L185.04,144.81 L185.18,142.32 L185.41,139.91 L185.73,137.6 L186.16,135.45 L186.68,133.48 L187.31,131.68 L188.06,130.02 L188.9,128.54 L189.81,127.23 L190.78,126.13 L191.82,125.26 L192.94,124.59 L194.12,124.1 L195.34,123.76 L196.58,123.54 L197.84,123.48 L199.14,123.58 L200.46,123.81 L201.79,124.11 L203.12,124.45 L204.44,124.83 L205.78,125.28 L207.12,125.79 L208.45,126.32 L209.76,126.86 L211.04,127.4 L212.3,127.96 L213.55,128.54 L214.79,129.14 L216.02,129.75 L217.24,130.37 L218.44,131 L219.64,131.65 L220.84,132.31 L222.03,132.99 L223.22,133.68 L224.41,134.38 L225.6,135.1 L226.78,135.82 L227.96,136.55 L229.14,137.3 L230.32,138.05 L231.49,138.81 L232.66,139.58 L233.83,140.35 L235,141.14 L236.17,141.92 L237.34,142.72 L238.51,143.52 L239.68,144.32 L240.86,145.13 L242.03,145.95 L243.21,146.76 L244.38,147.59 L245.55,148.41 L246.72,149.23 L247.89,150.06 L249.06,150.89 L250.22,151.73 L251.39,152.56 L252.55,153.39 L253.71,154.22 L254.88,155.05 L256.04,155.88 L257.19,156.7 L258.34,157.53 L259.48,158.35 L260.62,159.17 L261.75,159.99 L262.88,160.8 L263.99,161.61 L265.11,162.41 L266.21,163.21 L267.31,164.01 L268.4,164.79 L269.48,165.57 L270.55,166.35 L271.61,167.11 L272.66,167.87 L273.69,168.62 L274.72,169.35 L275.73,170.08 L276.73,170.8 L277.71,171.51 L278.68,172.21 L279.62,172.89 L280.55,173.56 L281.46,174.23 L282.35,174.87 L283.22,175.5 L284.05,176.1 L284.86,176.68 L285.65,177.25 L286.42,177.81 L287.17,178.35 L287.9,178.88 L288.62,179.4 L289.32,179.9 L289.99,180.39 L290.64,180.85 L291.23,181.28 L291.77,181.66 L292.3,182.04 L292.87,182.45 L293.52,182.92 L294.31,183.49 L295.19,184.12 L296.1,184.79 L296.97,185.42 L297.74,185.97 L298.39,186.44 L298.96,186.86 L299.49,187.23 L299.97,187.58 L300.42,187.91 L300.86,188.22 L301.25,188.51 L301.61,188.77 L301.94,189.01 L302.24,189.23 L302.52,189.43 L302.78,189.61 L303,189.77 L303.2,189.91 L303.39,190.05 L303.56,190.17 L303.69,190.27 L303.82,190.36 L303.93,190.44 L304.05,190.52 L304.17,190.61 L304.29,190.7 L304.41,190.79 L304.52,190.86 L304.6,190.93 L304.67,190.98 L304.72,191.02 L304.76,191.04 L304.79,191.07 L304.82,191.08 Z" fill="none" stroke="#555" stroke-width="0.5"/>
<line x1="208" y1="219.07" x2="206.27" y2="221.01" stroke="#333" stroke-width="0.55"/>
<line x1="199.36" y1="206.84" x2="197.03" y2="207.99" stroke="#333" stroke-width="0.55"/>
<line x1="185.74" y1="158.64" x2="183.16" y2="158.93" stroke="#333" stroke-width="0.55"/>
<line x1="196.58" y1="123.54" x2="196.23" y2="120.97" stroke="#333" stroke-width="0.55"/>
<line x1="222.03" y1="132.99" x2="223.32" y2="130.73" stroke="#333" stroke-width="0.55"/>
<line x1="245.55" y1="148.41" x2="247.05" y2="146.28" stroke="#333" stroke-width="0.55"/>
<line x1="268.4" y1="164.79" x2="269.92" y2="162.68" stroke="#333" stroke-width="0.55"/>
<line x1="287.17" y1="178.35" x2="288.69" y2="176.24" stroke="#333" stroke-width="0.55"/>
<line x1="297.74" y1="185.97" x2="299.26" y2="183.87" stroke="#333" stroke-width="0.55"/>
<polygon points="289.3,183.4 233.57,151.32 208.99,215.47" fill="none" stroke="#fff" stroke-width="0.5" opacity="0.7"/>
<polygon points="218.3,195.94 216.32,199.72 220.28,199.72" fill="#000"/>
<text x="217.8" y="193.9" font-size="8.8" text-anchor="middle" font-weight="normal" font-style="normal" fill="#000">1</text>
<polygon points="229.2,193.34 227.22,197.12 231.18,197.12" fill="#000"/>
<text x="227" y="191.2" font-size="8.8" text-anchor="middle" font-weight="normal" font-style="normal" fill="#000">2</text>
<polygon points="232.8,190.44 230.82,194.22 234.78,194.22" fill="#000"/>
<text x="234.7" y="187.8" font-size="8.8" text-anchor="middle" font-weight="normal" font-style="normal" fill="#000">3</text>
<polygon points="247.3,188.94 245.32,192.72 249.28,192.72" fill="#000"/>
<text x="245" y="185.4" font-size="8.8" text-anchor="middle" font-weight="normal" font-style="normal" fill="#000">4</text>
<polygon points="256,184.84 254.02,188.62 257.98,188.62" fill="#000"/>
<text x="254.5" y="180.6" font-size="8.8" text-anchor="middle" font-weight="normal" font-style="normal" fill="#000">5</text>
<polygon points="260.7,183.04 258.72,186.82 262.68,186.82" fill="#000"/>
<text x="261.3" y="178" font-size="8.8" text-anchor="middle" font-weight="normal" font-style="normal" fill="#000">6</text>
<polygon points="275,176.24 273.02,180.02 276.98,180.02" fill="#000"/>
<text x="272" y="175" font-size="8.8" text-anchor="middle" font-weight="normal" font-style="normal" fill="#000">7</text>
<rect x="184.4" y="116.7" width="131.2" height="106.1" fill="none" stroke="#2a2a2a" stroke-width="0.85"/>
<line x1="184.2" y1="222.6" x2="186.4" y2="222.6" stroke="#111" stroke-width="0.6"/>
<text x="181.2" y="225.5" font-size="8.3" text-anchor="end" font-weight="normal" font-style="normal" fill="#000">0.0</text>
<line x1="184.4" y1="222.7" x2="184.4" y2="220.5" stroke="#111" stroke-width="0.6"/>
<text x="184.4" y="234" font-size="8.3" text-anchor="middle" font-weight="normal" font-style="normal" fill="#000">0.0</text>
<line x1="184.2" y1="198.84" x2="186.4" y2="198.84" stroke="#111" stroke-width="0.6"/>
<text x="181.2" y="201.74" font-size="8.3" text-anchor="end" font-weight="normal" font-style="normal" fill="#000">0.2</text>
<line x1="217.18" y1="222.7" x2="217.18" y2="220.5" stroke="#111" stroke-width="0.6"/>
<text x="217.18" y="234" font-size="8.3" text-anchor="middle" font-weight="normal" font-style="normal" fill="#000">0.2</text>
<line x1="184.2" y1="175.08" x2="186.4" y2="175.08" stroke="#111" stroke-width="0.6"/>
<text x="181.2" y="177.98" font-size="8.3" text-anchor="end" font-weight="normal" font-style="normal" fill="#000">0.4</text>
<line x1="249.96" y1="222.7" x2="249.96" y2="220.5" stroke="#111" stroke-width="0.6"/>
<text x="249.96" y="234" font-size="8.3" text-anchor="middle" font-weight="normal" font-style="normal" fill="#000">0.4</text>
<line x1="184.2" y1="151.32" x2="186.4" y2="151.32" stroke="#111" stroke-width="0.6"/>
<text x="181.2" y="154.22" font-size="8.3" text-anchor="end" font-weight="normal" font-style="normal" fill="#000">0.6</text>
<line x1="282.74" y1="222.7" x2="282.74" y2="220.5" stroke="#111" stroke-width="0.6"/>
<text x="282.74" y="234" font-size="8.3" text-anchor="middle" font-weight="normal" font-style="normal" fill="#000">0.6</text>
<line x1="184.2" y1="127.56" x2="186.4" y2="127.56" stroke="#111" stroke-width="0.6"/>
<text x="181.2" y="130.46" font-size="8.3" text-anchor="end" font-weight="normal" font-style="normal" fill="#000">0.8</text>
<line x1="315.52" y1="222.7" x2="315.52" y2="220.5" stroke="#111" stroke-width="0.6"/>
<text x="315.52" y="234" font-size="8.3" text-anchor="middle" font-weight="normal" font-style="normal" fill="#000">0.8</text>
<text x="250.5" y="245.3" font-size="8.6" text-anchor="middle" font-weight="normal" font-style="italic" fill="#000">x</text>
<text x="162.5" y="170" font-size="8.3" text-anchor="middle" font-weight="normal" font-style="italic" fill="#000" transform="rotate(-90 162.5 170)">y</text>
<polyline points="363.3,169.92 363.59,165.05 363.88,179.29 364.17,178.54 364.45,183.93 364.74,199.63 365.03,202.69 365.32,193.47 365.61,203.01 365.9,204.79 366.18,200.27 366.47,205.51 366.76,204.64 367.05,207.33 367.34,207.41 367.63,209.46 367.91,208 368.2,207.38 368.49,207.81 368.78,207.16 369.07,208.43 369.36,207.74 369.65,207.06 369.93,206.37 370.22,205.69 370.51,205.02 370.8,204.34 371.09,203.67 371.38,202.99 371.66,202.32 371.95,201.64 372.24,201.26 372.53,200.88 372.82,200.5 373.11,200.12 374.07,198.86 375.03,197.6 375.99,196.33 376.95,195.07 377.91,193.71 378.87,192.3 379.84,190.9 380.8,189.5 381.76,188.1 382.72,186.69 383.68,185.29 384.64,183.58 385.6,181.74 386.57,179.9 387.53,178.06 388.49,176.22 389.45,174.38 390.41,172.54 391.37,170.7 392.33,168.99 393.3,167.33 394.26,165.67 395.22,164.01 396.18,162.35 397.14,160.69 398.1,159.03 399.06,157.89 400.03,156.88 400.99,155.87 401.95,154.86 402.91,153.85 403.87,152.84 404.83,151.83 405.79,150.82 406.76,149.94 407.72,149.13 408.68,148.31 409.64,147.49 410.6,146.67 411.56,145.85 412.52,145.04 413.49,144.24 414.45,143.54 415.41,142.84 416.37,142.14 417.33,141.71 418.29,141.41 419.25,141.1 420.21,140.79 421.18,140.77 422.14,141.04 423.1,141.5 424.06,142.15 425.02,142.98 425.98,143.98 426.94,145.14 427.91,146.44 428.87,147.88 429.83,149.44 430.79,151.11 431.75,152.87 432.71,154.71 433.67,156.61 434.64,158.57 435.6,160.56 436.56,162.59 437.52,164.64 438.48,166.7 439.44,168.76 440.4,170.81 441.37,172.84 442.33,174.86 443.29,176.85 444.25,178.81 445.21,180.73 446.17,182.61 447.13,184.44 448.1,186.23 449.06,187.97 450.02,189.66 450.98,191.29 451.94,192.87 452.9,194.4 453.86,195.87 454.83,197.28 455.79,198.63 456.75,199.93 457.71,201.17 458.67,202.36 459.63,203.49 460.59,204.57 461.56,205.59 462.52,206.57 463.48,207.49 464.44,208.37 465.4,209.2 466.36,209.98 467.32,210.73 468.28,211.43 469.25,212.09 470.21,212.71 471.17,213.3 472.13,213.85 473.09,214.37 474.05,214.87 475.01,215.33 475.98,215.76 476.94,216.17 477.9,216.56 478.86,216.92 479.82,217.27 480.78,217.59 481.74,217.89 482.71,218.18 483.67,218.45 484.63,218.71 485.59,218.96 486.55,219.19 487.51,219.41 488.47,219.62 489.44,219.82 490.4,220.01 491.36,220.19 492.32,220.37 493.28,220.53 494.24,220.69 495.2,220.85 496.17,220.99 497.13,221.14 498.09,221.27 499.05,221.41 500.01,221.54 500.97,221.66 501.93,221.78 502.9,221.9 503.86,222.01 504.82,222.13 505.78,222.23 506.74,222.34" fill="none" stroke="#b0eeb0" stroke-width="1.25" stroke-linejoin="round"/>
<polyline points="363.3,195.45 363.59,207.14 363.88,203.53 364.17,207.38 364.45,210.48 364.74,212.34 365.03,210.77 365.32,212.31 365.61,212.37 365.9,212.55 366.18,212.93 366.47,212.94 366.76,213.23 367.05,213.08 367.34,213.13 367.63,212.96 367.91,212.64 368.2,212.36 368.49,211.97 368.78,211.58 369.07,211.22 369.36,210.81 369.65,210.41 369.93,210 370.22,209.6 370.51,209.19 370.8,208.79 371.09,208.38 371.38,207.97 371.66,207.56 371.95,207.15 372.24,206.88 372.53,206.61 372.82,206.35 373.11,206.08 374.07,205.16 375.03,204.23 375.99,203.27 376.95,202.29 377.91,201.24 378.87,200.14 379.84,199.02 380.8,197.87 381.76,196.69 382.72,195.48 383.68,194.25 384.64,192.82 385.6,191.3 386.57,189.75 387.53,188.17 388.49,186.55 389.45,184.89 390.41,183.21 391.37,181.49 392.33,179.8 393.3,178.1 394.26,176.37 395.22,174.61 396.18,172.82 397.14,171.01 398.1,169.17 399.06,167.56 400.03,166 400.99,164.42 401.95,162.83 402.91,161.23 403.87,159.62 404.83,158.01 405.79,156.41 406.76,154.88 407.72,153.41 408.68,151.95 409.64,150.54 410.6,149.16 411.56,147.84 412.52,146.57 413.49,145.39 414.45,144.33 415.41,143.35 416.37,142.47 417.33,141.83 418.29,141.36 419.25,141 420.21,140.75 421.18,140.78 422.14,141.09 423.1,141.62 424.06,142.38 425.02,143.35 425.98,144.51 426.94,145.86 427.91,147.37 428.87,149.03 429.83,150.82 430.79,152.73 431.75,154.73 432.71,156.8 433.67,158.94 434.64,161.12 435.6,163.33 436.56,165.56 437.52,167.8 438.48,170.03 439.44,172.25 440.4,174.45 441.37,176.61 442.33,178.74 443.29,180.82 444.25,182.85 445.21,184.83 446.17,186.76 447.13,188.62 448.1,190.42 449.06,192.16 450.02,193.83 450.98,195.43 451.94,196.96 452.9,198.43 453.86,199.83 454.83,201.17 455.79,202.43 456.75,203.64 457.71,204.78 458.67,205.86 459.63,206.88 460.59,207.84 461.56,208.74 462.52,209.59 463.48,210.39 464.44,211.14 465.4,211.85 466.36,212.51 467.32,213.13 468.28,213.71 469.25,214.25 470.21,214.76 471.17,215.23 472.13,215.67 473.09,216.09 474.05,216.47 475.01,216.84 475.98,217.18 476.94,217.5 477.9,217.8 478.86,218.08 479.82,218.34 480.78,218.59 481.74,218.83 482.71,219.05 483.67,219.26 484.63,219.46 485.59,219.65 486.55,219.83 487.51,220 488.47,220.16 489.44,220.32 490.4,220.47 491.36,220.61 492.32,220.75 493.28,220.88 494.24,221.01 495.2,221.13 496.17,221.25 497.13,221.37 498.09,221.48 499.05,221.59 500.01,221.7 500.97,221.8 501.93,221.9 502.9,222 503.86,222.09 504.82,222.19 505.78,222.28 506.74,222.37" fill="none" stroke="#5cd070" stroke-width="1.25" stroke-linejoin="round"/>
<polyline points="363.3,191.45 363.59,203.4 363.88,204.9 364.17,209.45 364.45,209.92 364.74,211.55 365.03,212.41 365.32,212.51 365.61,212.98 365.9,212.98 366.18,213.42 366.47,213.42 366.76,213.54 367.05,213.53 367.34,213.6 367.63,213.63 367.91,213.3 368.2,213.05 368.49,212.81 368.78,212.56 369.07,212.33 369.36,212.04 369.65,211.75 369.93,211.45 370.22,211.16 370.51,210.86 370.8,210.56 371.09,210.26 371.38,209.96 371.66,209.66 371.95,209.35 372.24,209.13 372.53,208.91 372.82,208.68 373.11,208.46 374.07,207.68 375.03,206.88 375.99,206.04 376.95,205.18 377.91,204.25 378.87,203.28 379.84,202.27 380.8,201.22 381.76,200.13 382.72,199 383.68,197.83 384.64,196.52 385.6,195.13 386.57,193.69 387.53,192.21 388.49,190.68 389.45,189.1 390.41,187.47 391.37,185.8 392.33,184.12 393.3,182.41 394.26,180.65 395.22,178.85 396.18,177.02 397.14,175.14 398.1,173.22 399.06,171.43 400.03,169.65 400.99,167.84 401.95,166.02 402.91,164.18 403.87,162.33 404.83,160.48 405.79,158.64 406.76,156.86 407.72,155.12 408.68,153.41 409.64,151.75 410.6,150.16 411.56,148.63 412.52,147.18 413.49,145.84 414.45,144.64 415.41,143.56 416.37,142.61 417.33,141.88 418.29,141.34 419.25,140.96 420.21,140.73 421.18,140.78 422.14,141.12 423.1,141.71 424.06,142.55 425.02,143.62 425.98,144.91 426.94,146.39 427.91,148.06 428.87,149.88 429.83,151.83 430.79,153.9 431.75,156.06 432.71,158.3 433.67,160.6 434.64,162.93 435.6,165.28 436.56,167.64 437.52,170 438.48,172.34 439.44,174.65 440.4,176.93 441.37,179.16 442.33,181.35 443.29,183.48 444.25,185.54 445.21,187.54 446.17,189.48 447.13,191.34 448.1,193.12 449.06,194.84 450.02,196.48 450.98,198.04 451.94,199.52 452.9,200.94 453.86,202.28 454.83,203.54 455.79,204.74 456.75,205.86 457.71,206.92 458.67,207.92 459.63,208.85 460.59,209.73 461.56,210.55 462.52,211.31 463.48,212.03 464.44,212.69 465.4,213.32 466.36,213.9 467.32,214.43 468.28,214.94 469.25,215.4 470.21,215.84 471.17,216.24 472.13,216.62 473.09,216.97 474.05,217.3 475.01,217.61 475.98,217.9 476.94,218.17 477.9,218.42 478.86,218.66 479.82,218.88 480.78,219.09 481.74,219.29 482.71,219.48 483.67,219.66 484.63,219.83 485.59,219.99 486.55,220.14 487.51,220.29 488.47,220.43 489.44,220.57 490.4,220.7 491.36,220.82 492.32,220.94 493.28,221.06 494.24,221.17 495.2,221.28 496.17,221.39 497.13,221.49 498.09,221.59 499.05,221.68 500.01,221.78 500.97,221.87 501.93,221.96 502.9,222.05 503.86,222.13 504.82,222.22 505.78,222.3 506.74,222.38" fill="none" stroke="#2e8b3e" stroke-width="1.25" stroke-linejoin="round"/>
<polyline points="363.3,195.41 363.59,206.09 363.88,203.48 364.17,208.06 364.45,211.17 364.74,212.89 365.03,211.48 365.32,212.09 365.61,213.96 365.9,213.41 366.18,213.96 366.47,214.2 366.76,214.14 367.05,213.99 367.34,213.96 367.63,214.06 367.91,213.82 368.2,213.72 368.49,213.49 368.78,213.33 369.07,213.17 369.36,212.96 369.65,212.75 369.93,212.54 370.22,212.33 370.51,212.11 370.8,211.9 371.09,211.68 371.38,211.45 371.66,211.23 371.95,211 372.24,210.82 372.53,210.63 372.82,210.44 373.11,210.24 374.07,209.57 375.03,208.87 375.99,208.13 376.95,207.35 377.91,206.51 378.87,205.63 379.84,204.7 380.8,203.73 381.76,202.71 382.72,201.64 383.68,200.51 384.64,199.29 385.6,198 386.57,196.65 387.53,195.24 388.49,193.77 389.45,192.25 390.41,190.67 391.37,189.04 392.33,187.36 393.3,185.64 394.26,183.86 395.22,182.04 396.18,180.16 397.14,178.23 398.1,176.26 399.06,174.33 400.03,172.38 400.99,170.41 401.95,168.41 402.91,166.39 403.87,164.36 404.83,162.34 405.79,160.32 406.76,158.34 407.72,156.4 408.68,154.51 409.64,152.67 410.6,150.9 411.56,149.22 412.52,147.65 413.49,146.19 414.45,144.88 415.41,143.71 416.37,142.71 417.33,141.92 418.29,141.33 419.25,140.93 420.21,140.72 421.18,140.79 422.14,141.16 423.1,141.8 424.06,142.72 425.02,143.89 425.98,145.29 426.94,146.91 427.91,148.72 428.87,150.69 429.83,152.8 430.79,155.02 431.75,157.34 432.71,159.72 433.67,162.15 434.64,164.62 435.6,167.09 436.56,169.57 437.52,172.03 438.48,174.46 439.44,176.85 440.4,179.19 441.37,181.47 442.33,183.7 443.29,185.85 444.25,187.94 445.21,189.94 446.17,191.87 447.13,193.71 448.1,195.48 449.06,197.16 450.02,198.75 450.98,200.26 451.94,201.7 452.9,203.05 453.86,204.32 454.83,205.52 455.79,206.64 456.75,207.69 457.71,208.67 458.67,209.59 459.63,210.44 460.59,211.24 461.56,211.98 462.52,212.67 463.48,213.3 464.44,213.9 465.4,214.45 466.36,214.95 467.32,215.43 468.28,215.86 469.25,216.27 470.21,216.65 471.17,217 472.13,217.32 473.09,217.63 474.05,217.91 475.01,218.18 475.98,218.42 476.94,218.65 477.9,218.87 478.86,219.08 479.82,219.27 480.78,219.45 481.74,219.63 482.71,219.79 483.67,219.95 484.63,220.09 485.59,220.24 486.55,220.37 487.51,220.5 488.47,220.63 489.44,220.75 490.4,220.86 491.36,220.98 492.32,221.09 493.28,221.19 494.24,221.29 495.2,221.39 496.17,221.49 497.13,221.58 498.09,221.67 499.05,221.76 500.01,221.84 500.97,221.93 501.93,222.01 502.9,222.09 503.86,222.17 504.82,222.24 505.78,222.32 506.74,222.39" fill="none" stroke="#6a9a6a" stroke-width="1.25" stroke-linejoin="round"/>
<polyline points="363.3,193.2 363.59,197.94 363.88,206.35 364.17,205.77 364.45,211.32 364.74,213.12 365.03,212.39 365.32,214.13 365.61,214.14 365.9,214.13 366.18,214.16 366.47,214.56 366.76,214.62 367.05,214.34 367.34,214.48 367.63,214.32 367.91,214.28 368.2,214.27 368.49,214.17 368.78,214.07 369.07,214.01 369.36,213.89 369.65,213.76 369.93,213.63 370.22,213.5 370.51,213.37 370.8,213.23 371.09,213.09 371.38,212.95 371.66,212.8 371.95,212.65 372.24,212.5 372.53,212.35 372.82,212.19 373.11,212.03 374.07,211.46 375.03,210.86 375.99,210.21 376.95,209.51 377.91,208.77 378.87,207.98 379.84,207.14 380.8,206.24 381.76,205.29 382.72,204.27 383.68,203.2 384.64,202.06 385.6,200.86 386.57,199.6 387.53,198.27 388.49,196.87 389.45,195.41 390.41,193.87 391.37,192.27 392.33,190.6 393.3,188.87 394.26,187.08 395.22,185.22 396.18,183.3 397.14,181.33 398.1,179.3 399.06,177.23 400.03,175.12 400.99,172.97 401.95,170.8 402.91,168.6 403.87,166.4 404.83,164.19 405.79,161.99 406.76,159.82 407.72,157.68 408.68,155.6 409.64,153.58 410.6,151.65 411.56,149.82 412.52,148.11 413.49,146.53 414.45,145.11 415.41,143.87 416.37,142.81 417.33,141.95 418.29,141.31 419.25,140.9 420.21,140.71 421.18,140.79 422.14,141.19 423.1,141.89 424.06,142.88 425.02,144.14 425.98,145.65 426.94,147.38 427.91,149.32 428.87,151.42 429.83,153.66 430.79,156.02 431.75,158.47 432.71,160.98 433.67,163.53 434.64,166.11 435.6,168.69 436.56,171.25 437.52,173.79 438.48,176.29 439.44,178.74 440.4,181.13 441.37,183.45 442.33,185.7 443.29,187.86 444.25,189.95 445.21,191.95 446.17,193.86 447.13,195.68 448.1,197.41 449.06,199.05 450.02,200.6 450.98,202.07 451.94,203.44 452.9,204.73 453.86,205.94 454.83,207.07 455.79,208.13 456.75,209.11 457.71,210.02 458.67,210.87 459.63,211.66 460.59,212.38 461.56,213.06 462.52,213.68 463.48,214.26 464.44,214.79 465.4,215.28 466.36,215.73 467.32,216.15 468.28,216.54 469.25,216.9 470.21,217.23 471.17,217.54 472.13,217.83 473.09,218.1 474.05,218.35 475.01,218.58 475.98,218.8 476.94,219 477.9,219.2 478.86,219.38 479.82,219.55 480.78,219.71 481.74,219.87 482.71,220.01 483.67,220.16 484.63,220.29 485.59,220.42 486.55,220.54 487.51,220.66 488.47,220.77 489.44,220.88 490.4,220.99 491.36,221.09 492.32,221.19 493.28,221.29 494.24,221.38 495.2,221.47 496.17,221.56 497.13,221.65 498.09,221.73 499.05,221.81 500.01,221.89 500.97,221.97 501.93,222.04 502.9,222.12 503.86,222.19 504.82,222.26 505.78,222.33 506.74,222.4" fill="none" stroke="#1f5f2a" stroke-width="1.25" stroke-linejoin="round"/>
<rect x="363.2" y="116.6" width="144.3" height="106.4" fill="none" stroke="#2a2a2a" stroke-width="0.85"/>
<line x1="363.3" y1="222.5" x2="365.8" y2="222.5" stroke="#111" stroke-width="0.6"/>
<text x="359.6" y="225.4" font-size="8.3" text-anchor="end" font-weight="normal" font-style="normal" fill="#000">0.0</text>
<line x1="363.3" y1="206.14" x2="365.8" y2="206.14" stroke="#111" stroke-width="0.6"/>
<text x="359.6" y="209.04" font-size="8.3" text-anchor="end" font-weight="normal" font-style="normal" fill="#000">0.2</text>
<line x1="363.3" y1="189.78" x2="365.8" y2="189.78" stroke="#111" stroke-width="0.6"/>
<text x="359.6" y="192.68" font-size="8.3" text-anchor="end" font-weight="normal" font-style="normal" fill="#000">0.4</text>
<line x1="363.3" y1="173.42" x2="365.8" y2="173.42" stroke="#111" stroke-width="0.6"/>
<text x="359.6" y="176.32" font-size="8.3" text-anchor="end" font-weight="normal" font-style="normal" fill="#000">0.6</text>
<line x1="363.3" y1="157.06" x2="365.8" y2="157.06" stroke="#111" stroke-width="0.6"/>
<text x="359.6" y="159.96" font-size="8.3" text-anchor="end" font-weight="normal" font-style="normal" fill="#000">0.8</text>
<line x1="363.3" y1="140.7" x2="365.8" y2="140.7" stroke="#111" stroke-width="0.6"/>
<text x="359.6" y="143.6" font-size="8.3" text-anchor="end" font-weight="normal" font-style="normal" fill="#000">1.0</text>
<line x1="363.3" y1="124.34" x2="365.8" y2="124.34" stroke="#111" stroke-width="0.6"/>
<text x="359.6" y="127.24" font-size="8.3" text-anchor="end" font-weight="normal" font-style="normal" fill="#000">1.2</text>
<line x1="363.3" y1="223" x2="363.3" y2="220.5" stroke="#111" stroke-width="0.6"/>
<text x="363.3" y="234.2" font-size="8.3" text-anchor="middle" font-weight="normal" font-style="normal" fill="#000">400</text>
<line x1="387.34" y1="223" x2="387.34" y2="220.5" stroke="#111" stroke-width="0.6"/>
<line x1="411.37" y1="223" x2="411.37" y2="220.5" stroke="#111" stroke-width="0.6"/>
<text x="411.37" y="234.2" font-size="8.3" text-anchor="middle" font-weight="normal" font-style="normal" fill="#000">500</text>
<line x1="435.41" y1="223" x2="435.41" y2="220.5" stroke="#111" stroke-width="0.6"/>
<line x1="459.44" y1="223" x2="459.44" y2="220.5" stroke="#111" stroke-width="0.6"/>
<text x="459.44" y="234.2" font-size="8.3" text-anchor="middle" font-weight="normal" font-style="normal" fill="#000">600</text>
<line x1="483.48" y1="223" x2="483.48" y2="220.5" stroke="#111" stroke-width="0.6"/>
<line x1="507.51" y1="223" x2="507.51" y2="220.5" stroke="#111" stroke-width="0.6"/>
<text x="507.51" y="234.2" font-size="8.3" text-anchor="middle" font-weight="normal" font-style="normal" fill="#000">700</text>
<text x="435.4" y="247" font-size="8.3" text-anchor="middle" font-weight="normal" font-style="normal" fill="#000">Wavelength (nm)</text>
<text x="340.2" y="172.2" font-size="8.6" text-anchor="middle" font-weight="normal" font-style="normal" fill="#000" transform="rotate(-90 340.2 172.2)">Normalized transmission</text>
<text x="384.5" y="122.7" font-size="6.0" text-anchor="middle" font-weight="normal" font-style="normal" fill="#000">WD</text>
<line x1="368.7" y1="127.5" x2="381.3" y2="127.5" stroke="#1f5f2a" stroke-width="1.6"/>
<text x="384.2" y="129.6" font-size="5.9" text-anchor="start" font-weight="normal" font-style="normal" fill="#000">0 nm</text>
<line x1="368.7" y1="133.7" x2="381.3" y2="133.7" stroke="#6a9a6a" stroke-width="1.6"/>
<text x="384.2" y="135.8" font-size="5.9" text-anchor="start" font-weight="normal" font-style="normal" fill="#000">10 nm</text>
<line x1="368.7" y1="140.4" x2="381.3" y2="140.4" stroke="#2e8b3e" stroke-width="1.6"/>
<text x="384.2" y="142.5" font-size="5.9" text-anchor="start" font-weight="normal" font-style="normal" fill="#000">20 nm</text>
<line x1="368.7" y1="146.9" x2="381.3" y2="146.9" stroke="#5cd070" stroke-width="1.6"/>
<text x="384.2" y="149" font-size="5.9" text-anchor="start" font-weight="normal" font-style="normal" fill="#000">30 nm</text>
<line x1="368.7" y1="153.1" x2="381.3" y2="153.1" stroke="#b0eeb0" stroke-width="1.6"/>
<text x="384.2" y="155.2" font-size="5.9" text-anchor="start" font-weight="normal" font-style="normal" fill="#000">40 nm</text>
<rect x="463.4" y="117.8" width="42.2" height="59.7" fill="#fff" stroke="#222" stroke-width="0.6"/>
<line x1="463.4" y1="177.4" x2="465.4" y2="177.4" stroke="#111" stroke-width="0.5"/>
<text x="461.2" y="179.6" font-size="6.2" text-anchor="end" font-weight="normal" font-style="normal" fill="#000">80</text>
<line x1="463.4" y1="149.7" x2="465.4" y2="149.7" stroke="#111" stroke-width="0.5"/>
<text x="461.2" y="151.9" font-size="6.2" text-anchor="end" font-weight="normal" font-style="normal" fill="#000">120</text>
<line x1="463.4" y1="122" x2="465.4" y2="122" stroke="#111" stroke-width="0.5"/>
<text x="461.2" y="124.2" font-size="6.2" text-anchor="end" font-weight="normal" font-style="normal" fill="#000">160</text>
<line x1="467.4" y1="177.5" x2="467.4" y2="175.7" stroke="#111" stroke-width="0.5"/>
<text x="467.4" y="184.3" font-size="6.2" text-anchor="middle" font-weight="normal" font-style="normal" fill="#000">0</text>
<line x1="475.85" y1="177.5" x2="475.85" y2="175.7" stroke="#111" stroke-width="0.5"/>
<text x="475.85" y="184.3" font-size="6.2" text-anchor="middle" font-weight="normal" font-style="normal" fill="#000">10</text>
<line x1="484.3" y1="177.5" x2="484.3" y2="175.7" stroke="#111" stroke-width="0.5"/>
<text x="484.3" y="184.3" font-size="6.2" text-anchor="middle" font-weight="normal" font-style="normal" fill="#000">20</text>
<line x1="492.75" y1="177.5" x2="492.75" y2="175.7" stroke="#111" stroke-width="0.5"/>
<text x="492.75" y="184.3" font-size="6.2" text-anchor="middle" font-weight="normal" font-style="normal" fill="#000">30</text>
<line x1="501.2" y1="177.5" x2="501.2" y2="175.7" stroke="#111" stroke-width="0.5"/>
<text x="501.2" y="184.3" font-size="6.2" text-anchor="middle" font-weight="normal" font-style="normal" fill="#000">40</text>
<polyline points="467.4,172.69 475.85,172.07 484.3,163.83 492.75,153.44 501.2,121.65" fill="none" stroke="#333" stroke-width="0.6" stroke-linejoin="round"/>
<text x="485.8" y="191.8" font-size="6.5" text-anchor="middle" font-weight="normal" font-style="normal" fill="#000">WD (nm)</text>
<text x="449.4" y="147.7" font-size="6.2" text-anchor="middle" font-weight="normal" font-style="normal" fill="#000" transform="rotate(-90 449.4 147.7)">FWHM (nm)</text>
<defs>
<linearGradient id="f0" gradientUnits="userSpaceOnUse" x1="559.3" y1="0" x2="663.3" y2="0"><stop offset="0" stop-color="#14e375"/><stop offset="0.17" stop-color="#2bdf71"/><stop offset="0.33" stop-color="#41db6d"/><stop offset="0.5" stop-color="#58d769"/><stop offset="0.67" stop-color="#76d262"/><stop offset="0.83" stop-color="#93cd5a"/><stop offset="1" stop-color="#b1c753"/></linearGradient>
<linearGradient id="f1" gradientUnits="userSpaceOnUse" x1="559.3" y1="0" x2="663.3" y2="0"><stop offset="0" stop-color="#14e177"/><stop offset="0.17" stop-color="#2bde73"/><stop offset="0.33" stop-color="#42da6f"/><stop offset="0.5" stop-color="#58d66b"/><stop offset="0.67" stop-color="#76d164"/><stop offset="0.83" stop-color="#94cb5c"/><stop offset="1" stop-color="#b2c655"/></linearGradient>
<linearGradient id="f2" gradientUnits="userSpaceOnUse" x1="559.3" y1="0" x2="663.3" y2="0"><stop offset="0" stop-color="#14df79"/><stop offset="0.17" stop-color="#2bdc75"/><stop offset="0.33" stop-color="#42d871"/><stop offset="0.5" stop-color="#59d56d"/><stop offset="0.67" stop-color="#77d066"/><stop offset="0.83" stop-color="#95ca5e"/><stop offset="1" stop-color="#b3c556"/></linearGradient>
<linearGradient id="f3" gradientUnits="userSpaceOnUse" x1="559.3" y1="0" x2="663.3" y2="0"><stop offset="0" stop-color="#15de7a"/><stop offset="0.17" stop-color="#2bda77"/><stop offset="0.33" stop-color="#42d773"/><stop offset="0.5" stop-color="#59d470"/><stop offset="0.67" stop-color="#78ce68"/><stop offset="0.83" stop-color="#96c960"/><stop offset="1" stop-color="#b5c458"/></linearGradient>
<linearGradient id="f4" gradientUnits="userSpaceOnUse" x1="559.3" y1="0" x2="663.3" y2="0"><stop offset="0" stop-color="#15dc7c"/><stop offset="0.17" stop-color="#2cd979"/><stop offset="0.33" stop-color="#42d675"/><stop offset="0.5" stop-color="#59d272"/><stop offset="0.67" stop-color="#78cd6a"/><stop offset="0.83" stop-color="#97c862"/><stop offset="1" stop-color="#b6c25a"/></linearGradient>
<linearGradient id="f5" gradientUnits="userSpaceOnUse" x1="559.3" y1="0" x2="663.3" y2="0"><stop offset="0" stop-color="#15da7e"/><stop offset="0.17" stop-color="#2cd77b"/><stop offset="0.33" stop-color="#43d477"/><stop offset="0.5" stop-color="#5ad174"/><stop offset="0.67" stop-color="#79cc6c"/><stop offset="0.83" stop-color="#98c763"/><stop offset="1" stop-color="#b8c15b"/></linearGradient>
<linearGradient id="f6" gradientUnits="userSpaceOnUse" x1="559.3" y1="0" x2="663.3" y2="0"><stop offset="0" stop-color="#15d880"/><stop offset="0.17" stop-color="#2cd57d"/><stop offset="0.33" stop-color="#43d379"/><stop offset="0.5" stop-color="#5ad076"/><stop offset="0.67" stop-color="#7acb6e"/><stop offset="0.83" stop-color="#99c565"/><stop offset="1" stop-color="#b9c05d"/></linearGradient>
<linearGradient id="f7" gradientUnits="userSpaceOnUse" x1="559.3" y1="0" x2="663.3" y2="0"><stop offset="0" stop-color="#15d682"/><stop offset="0.17" stop-color="#2cd47f"/><stop offset="0.33" stop-color="#43d17b"/><stop offset="0.5" stop-color="#5acf78"/><stop offset="0.67" stop-color="#7ac970"/><stop offset="0.83" stop-color="#9ac467"/><stop offset="1" stop-color="#babf5f"/></linearGradient>
<linearGradient id="f8" gradientUnits="userSpaceOnUse" x1="559.3" y1="0" x2="663.3" y2="0"><stop offset="0" stop-color="#15d484"/><stop offset="0.17" stop-color="#2cd281"/><stop offset="0.33" stop-color="#44d07d"/><stop offset="0.5" stop-color="#5bce7a"/><stop offset="0.67" stop-color="#7bc872"/><stop offset="0.83" stop-color="#9bc369"/><stop offset="1" stop-color="#bcbe60"/></linearGradient>
<linearGradient id="f9" gradientUnits="userSpaceOnUse" x1="559.3" y1="0" x2="663.3" y2="0"><stop offset="0" stop-color="#15d286"/><stop offset="0.17" stop-color="#2dd083"/><stop offset="0.33" stop-color="#44ce7f"/><stop offset="0.5" stop-color="#5bcc7c"/><stop offset="0.67" stop-color="#7cc774"/><stop offset="0.83" stop-color="#9cc26b"/><stop offset="1" stop-color="#bdbc62"/></linearGradient>
<linearGradient id="f10" gradientUnits="userSpaceOnUse" x1="559.3" y1="0" x2="663.3" y2="0"><stop offset="0" stop-color="#16d187"/><stop offset="0.17" stop-color="#2dcf84"/><stop offset="0.33" stop-color="#44cd82"/><stop offset="0.5" stop-color="#5bcb7f"/><stop offset="0.67" stop-color="#7cc676"/><stop offset="0.83" stop-color="#9dc06d"/><stop offset="1" stop-color="#bfbb64"/></linearGradient>
<linearGradient id="f11" gradientUnits="userSpaceOnUse" x1="559.3" y1="0" x2="663.3" y2="0"><stop offset="0" stop-color="#16cf89"/><stop offset="0.17" stop-color="#2dcd86"/><stop offset="0.33" stop-color="#44cb84"/><stop offset="0.5" stop-color="#5cca81"/><stop offset="0.67" stop-color="#7dc578"/><stop offset="0.83" stop-color="#9ebf6f"/><stop offset="1" stop-color="#c0ba65"/></linearGradient>
<linearGradient id="f12" gradientUnits="userSpaceOnUse" x1="559.3" y1="0" x2="663.3" y2="0"><stop offset="0" stop-color="#16cd8b"/><stop offset="0.17" stop-color="#2dcb88"/><stop offset="0.33" stop-color="#45ca86"/><stop offset="0.5" stop-color="#5cc983"/><stop offset="0.67" stop-color="#7ec37a"/><stop offset="0.83" stop-color="#9fbe70"/><stop offset="1" stop-color="#c1b967"/></linearGradient>
<linearGradient id="f13" gradientUnits="userSpaceOnUse" x1="559.3" y1="0" x2="663.3" y2="0"><stop offset="0" stop-color="#16cb8d"/><stop offset="0.17" stop-color="#2dca8a"/><stop offset="0.33" stop-color="#45c988"/><stop offset="0.5" stop-color="#5cc785"/><stop offset="0.67" stop-color="#7ec27c"/><stop offset="0.83" stop-color="#a1bc72"/><stop offset="1" stop-color="#c3b769"/></linearGradient>
<linearGradient id="f14" gradientUnits="userSpaceOnUse" x1="559.3" y1="0" x2="663.3" y2="0"><stop offset="0" stop-color="#16c98f"/><stop offset="0.17" stop-color="#2dc88c"/><stop offset="0.33" stop-color="#45c78a"/><stop offset="0.5" stop-color="#5dc687"/><stop offset="0.67" stop-color="#7fc07e"/><stop offset="0.83" stop-color="#a2ba74"/><stop offset="1" stop-color="#c5b56b"/></linearGradient>
<linearGradient id="f15" gradientUnits="userSpaceOnUse" x1="559.3" y1="0" x2="663.3" y2="0"><stop offset="0" stop-color="#16c791"/><stop offset="0.17" stop-color="#2ec68e"/><stop offset="0.33" stop-color="#46c58c"/><stop offset="0.5" stop-color="#5ec589"/><stop offset="0.67" stop-color="#80be80"/><stop offset="0.83" stop-color="#a3b876"/><stop offset="1" stop-color="#c6b26d"/></linearGradient>
<linearGradient id="f16" gradientUnits="userSpaceOnUse" x1="559.3" y1="0" x2="663.3" y2="0"><stop offset="0" stop-color="#15c692"/><stop offset="0.17" stop-color="#2ec590"/><stop offset="0.33" stop-color="#46c48e"/><stop offset="0.5" stop-color="#5ec38c"/><stop offset="0.67" stop-color="#81bd82"/><stop offset="0.83" stop-color="#a5b678"/><stop offset="1" stop-color="#c8b06e"/></linearGradient>
<linearGradient id="f17" gradientUnits="userSpaceOnUse" x1="559.3" y1="0" x2="663.3" y2="0"><stop offset="0" stop-color="#15c494"/><stop offset="0.17" stop-color="#2ec392"/><stop offset="0.33" stop-color="#46c290"/><stop offset="0.5" stop-color="#5fc28e"/><stop offset="0.67" stop-color="#82bb84"/><stop offset="0.83" stop-color="#a6b47a"/><stop offset="1" stop-color="#caae70"/></linearGradient>
<linearGradient id="f18" gradientUnits="userSpaceOnUse" x1="559.3" y1="0" x2="663.3" y2="0"><stop offset="0" stop-color="#15c296"/><stop offset="0.17" stop-color="#2ec194"/><stop offset="0.33" stop-color="#47c192"/><stop offset="0.5" stop-color="#5fc090"/><stop offset="0.67" stop-color="#83b986"/><stop offset="0.83" stop-color="#a7b27c"/><stop offset="1" stop-color="#cbab72"/></linearGradient>
<linearGradient id="f19" gradientUnits="userSpaceOnUse" x1="559.3" y1="0" x2="663.3" y2="0"><stop offset="0" stop-color="#15c098"/><stop offset="0.17" stop-color="#2ec096"/><stop offset="0.33" stop-color="#47bf94"/><stop offset="0.5" stop-color="#60bf92"/><stop offset="0.67" stop-color="#84b888"/><stop offset="0.83" stop-color="#a9b07e"/><stop offset="1" stop-color="#cda974"/></linearGradient>
<linearGradient id="f20" gradientUnits="userSpaceOnUse" x1="559.3" y1="0" x2="663.3" y2="0"><stop offset="0" stop-color="#15be9a"/><stop offset="0.17" stop-color="#2ebe98"/><stop offset="0.33" stop-color="#47be96"/><stop offset="0.5" stop-color="#61be94"/><stop offset="0.67" stop-color="#85b68a"/><stop offset="0.83" stop-color="#aaae80"/><stop offset="1" stop-color="#cfa776"/></linearGradient>
<linearGradient id="f21" gradientUnits="userSpaceOnUse" x1="559.3" y1="0" x2="663.3" y2="0"><stop offset="0" stop-color="#15bc9c"/><stop offset="0.17" stop-color="#2ebc9a"/><stop offset="0.33" stop-color="#48bc98"/><stop offset="0.5" stop-color="#61bc96"/><stop offset="0.67" stop-color="#86b48c"/><stop offset="0.83" stop-color="#abac82"/><stop offset="1" stop-color="#d0a478"/></linearGradient>
<linearGradient id="f22" gradientUnits="userSpaceOnUse" x1="559.3" y1="0" x2="663.3" y2="0"><stop offset="0" stop-color="#15ba9e"/><stop offset="0.17" stop-color="#2ebb9c"/><stop offset="0.33" stop-color="#48bb9a"/><stop offset="0.5" stop-color="#62bb98"/><stop offset="0.67" stop-color="#87b38e"/><stop offset="0.83" stop-color="#adaa84"/><stop offset="1" stop-color="#d2a27a"/></linearGradient>
<linearGradient id="f23" gradientUnits="userSpaceOnUse" x1="559.3" y1="0" x2="663.3" y2="0"><stop offset="0" stop-color="#14b99f"/><stop offset="0.17" stop-color="#2eb99e"/><stop offset="0.33" stop-color="#48b99c"/><stop offset="0.5" stop-color="#62b99b"/><stop offset="0.67" stop-color="#88b190"/><stop offset="0.83" stop-color="#aea886"/><stop offset="1" stop-color="#d4a07b"/></linearGradient>
<linearGradient id="f24" gradientUnits="userSpaceOnUse" x1="559.3" y1="0" x2="663.3" y2="0"><stop offset="0" stop-color="#14b7a1"/><stop offset="0.17" stop-color="#2fb7a0"/><stop offset="0.33" stop-color="#49b89e"/><stop offset="0.5" stop-color="#63b89d"/><stop offset="0.67" stop-color="#89af92"/><stop offset="0.83" stop-color="#afa688"/><stop offset="1" stop-color="#d59d7d"/></linearGradient>
<linearGradient id="f25" gradientUnits="userSpaceOnUse" x1="559.3" y1="0" x2="663.3" y2="0"><stop offset="0" stop-color="#14b5a3"/><stop offset="0.17" stop-color="#2fb6a2"/><stop offset="0.33" stop-color="#49b6a0"/><stop offset="0.5" stop-color="#64b79f"/><stop offset="0.67" stop-color="#8aae94"/><stop offset="0.83" stop-color="#b1a48a"/><stop offset="1" stop-color="#d79b7f"/></linearGradient>
</defs>
<rect x="559.3" y="119" width="104" height="4.6" fill="url(#f0)" stroke="none" stroke-width="0.6"/>
<rect x="559.3" y="123" width="104" height="4.6" fill="url(#f1)" stroke="none" stroke-width="0.6"/>
<rect x="559.3" y="127" width="104" height="4.6" fill="url(#f2)" stroke="none" stroke-width="0.6"/>
<rect x="559.3" y="131" width="104" height="4.6" fill="url(#f3)" stroke="none" stroke-width="0.6"/>
<rect x="559.3" y="135" width="104" height="4.6" fill="url(#f4)" stroke="none" stroke-width="0.6"/>
<rect x="559.3" y="139" width="104" height="4.6" fill="url(#f5)" stroke="none" stroke-width="0.6"/>
<rect x="559.3" y="143" width="104" height="4.6" fill="url(#f6)" stroke="none" stroke-width="0.6"/>
<rect x="559.3" y="147" width="104" height="4.6" fill="url(#f7)" stroke="none" stroke-width="0.6"/>
<rect x="559.3" y="151" width="104" height="4.6" fill="url(#f8)" stroke="none" stroke-width="0.6"/>
<rect x="559.3" y="155" width="104" height="4.6" fill="url(#f9)" stroke="none" stroke-width="0.6"/>
<rect x="559.3" y="159" width="104" height="4.6" fill="url(#f10)" stroke="none" stroke-width="0.6"/>
<rect x="559.3" y="163" width="104" height="4.6" fill="url(#f11)" stroke="none" stroke-width="0.6"/>
<rect x="559.3" y="167" width="104" height="4.6" fill="url(#f12)" stroke="none" stroke-width="0.6"/>
<rect x="559.3" y="171" width="104" height="4.6" fill="url(#f13)" stroke="none" stroke-width="0.6"/>
<rect x="559.3" y="175" width="104" height="4.6" fill="url(#f14)" stroke="none" stroke-width="0.6"/>
<rect x="559.3" y="179" width="104" height="4.6" fill="url(#f15)" stroke="none" stroke-width="0.6"/>
<rect x="559.3" y="183" width="104" height="4.6" fill="url(#f16)" stroke="none" stroke-width="0.6"/>
<rect x="559.3" y="187" width="104" height="4.6" fill="url(#f17)" stroke="none" stroke-width="0.6"/>
<rect x="559.3" y="191" width="104" height="4.6" fill="url(#f18)" stroke="none" stroke-width="0.6"/>
<rect x="559.3" y="195" width="104" height="4.6" fill="url(#f19)" stroke="none" stroke-width="0.6"/>
<rect x="559.3" y="199" width="104" height="4.6" fill="url(#f20)" stroke="none" stroke-width="0.6"/>
<rect x="559.3" y="203" width="104" height="4.6" fill="url(#f21)" stroke="none" stroke-width="0.6"/>
<rect x="559.3" y="207" width="104" height="4.6" fill="url(#f22)" stroke="none" stroke-width="0.6"/>
<rect x="559.3" y="211" width="104" height="4.6" fill="url(#f23)" stroke="none" stroke-width="0.6"/>
<rect x="559.3" y="215" width="104" height="4.6" fill="url(#f24)" stroke="none" stroke-width="0.6"/>
<rect x="559.3" y="219" width="104" height="4" fill="url(#f25)" stroke="none" stroke-width="0.6"/>
<rect x="559.3" y="119" width="104" height="104" fill="none" stroke="#2a2a2a" stroke-width="0.85"/>
<line x1="559.3" y1="223" x2="561.5" y2="223" stroke="#111" stroke-width="0.6"/>
<text x="555.2" y="225.9" font-size="8.3" text-anchor="end" font-weight="normal" font-style="normal" fill="#000">0.35</text>
<line x1="559.8" y1="223" x2="559.8" y2="220.8" stroke="#111" stroke-width="0.6"/>
<text x="559.8" y="234.8" font-size="8.3" text-anchor="middle" font-weight="normal" font-style="normal" fill="#000">0.20</text>
<line x1="559.3" y1="197.1" x2="561.5" y2="197.1" stroke="#111" stroke-width="0.6"/>
<text x="555.2" y="200" font-size="8.3" text-anchor="end" font-weight="normal" font-style="normal" fill="#000">0.40</text>
<line x1="585.62" y1="223" x2="585.62" y2="220.8" stroke="#111" stroke-width="0.6"/>
<text x="585.62" y="234.8" font-size="8.3" text-anchor="middle" font-weight="normal" font-style="normal" fill="#000">0.25</text>
<line x1="559.3" y1="171.2" x2="561.5" y2="171.2" stroke="#111" stroke-width="0.6"/>
<text x="555.2" y="174.1" font-size="8.3" text-anchor="end" font-weight="normal" font-style="normal" fill="#000">0.45</text>
<line x1="611.45" y1="223" x2="611.45" y2="220.8" stroke="#111" stroke-width="0.6"/>
<text x="611.45" y="234.8" font-size="8.3" text-anchor="middle" font-weight="normal" font-style="normal" fill="#000">0.30</text>
<line x1="559.3" y1="145.3" x2="561.5" y2="145.3" stroke="#111" stroke-width="0.6"/>
<text x="555.2" y="148.2" font-size="8.3" text-anchor="end" font-weight="normal" font-style="normal" fill="#000">0.50</text>
<line x1="637.27" y1="223" x2="637.27" y2="220.8" stroke="#111" stroke-width="0.6"/>
<text x="637.27" y="234.8" font-size="8.3" text-anchor="middle" font-weight="normal" font-style="normal" fill="#000">0.35</text>
<line x1="559.3" y1="119.4" x2="561.5" y2="119.4" stroke="#111" stroke-width="0.6"/>
<text x="555.2" y="122.3" font-size="8.3" text-anchor="end" font-weight="normal" font-style="normal" fill="#000">0.55</text>
<line x1="663.1" y1="223" x2="663.1" y2="220.8" stroke="#111" stroke-width="0.6"/>
<text x="663.1" y="234.8" font-size="8.3" text-anchor="middle" font-weight="normal" font-style="normal" fill="#000">0.40</text>
<text x="613.5" y="246.7" font-size="8.0" text-anchor="middle" font-weight="normal" font-style="italic" fill="#000">X</text>
<text x="532" y="171" font-size="8.3" text-anchor="middle" font-weight="normal" font-style="italic" fill="#000" transform="rotate(-90 532 171)">y</text>
<circle cx="585.9" cy="146.8" r="2.5" fill="#000"/>
<rect x="585.3" y="152" width="4.2" height="4.2" fill="#000" stroke="none" stroke-width="0.6"/>
<polygon points="592.2,156.26 589.78,160.88 594.62,160.88" fill="#000"/>
<polygon points="592.4,188.44 589.98,183.82 594.82,183.82" fill="#000"/>
<line x1="598.9" y1="140.5" x2="603.6" y2="184.5" stroke="#000" stroke-width="0.8"/>
<polygon points="603.9,189.5 601.6,183.2 605.6,182.8" fill="#000"/>
<text x="606.8" y="179.4" font-size="7.7" text-anchor="start" font-weight="normal" font-style="normal" fill="#000">Increasing WD</text>
<rect x="615.6" y="120.5" width="46.9" height="46.5" fill="#fff" stroke="#222" stroke-width="0.6"/>
<text x="632" y="129.6" font-size="7.8" text-anchor="middle" font-weight="normal" font-style="normal" fill="#000">WD</text>
<circle cx="623.9" cy="134.0" r="2.1" fill="#000"/>
<polygon points="623.9,137.9 626.4,140.5 623.9,143.1 621.4,140.5" fill="#000"/>
<rect x="621.9" y="145.6" width="4" height="4" fill="#000" stroke="none" stroke-width="0.6"/>
<polygon points="623.9,152.42 621.81,156.41 625.99,156.41" fill="#000"/>
<polygon points="623.9,163.48 621.81,159.49 625.99,159.49" fill="#000"/>
<text x="629.6" y="136.9" font-size="8.0" text-anchor="start" font-weight="normal" font-style="normal" fill="#000">0 nm</text>
<text x="629.6" y="143.4" font-size="8.0" text-anchor="start" font-weight="normal" font-style="normal" fill="#000">10 nm</text>
<text x="629.6" y="150.5" font-size="8.0" text-anchor="start" font-weight="normal" font-style="normal" fill="#000">20 nm</text>
<text x="629.6" y="157.4" font-size="8.0" text-anchor="start" font-weight="normal" font-style="normal" fill="#000">30 nm</text>
<text x="629.6" y="164.3" font-size="8.0" text-anchor="start" font-weight="normal" font-style="normal" fill="#000">40 nm</text>
</svg></body></html>
